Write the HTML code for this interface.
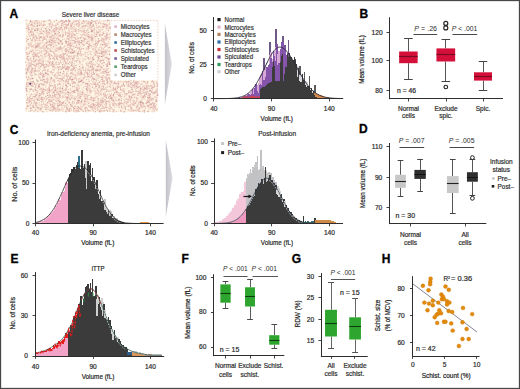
<!DOCTYPE html>
<html><head><meta charset="utf-8"><style>
html,body{margin:0;padding:0;background:#fff;width:520px;height:389px;overflow:hidden}
svg{display:block}
text{font-family:"Liberation Sans", sans-serif}
</style></head><body>
<svg width="520" height="389" viewBox="0 0 520 389" font-family='"Liberation Sans", sans-serif'><rect x="0.5" y="0.5" width="519" height="388" fill="none" stroke="#484848" stroke-width="1.3"/>
<text x="9.60" y="18.00" font-size="12" fill="#000" text-anchor="start" font-weight="bold" stroke="#000" stroke-width="0.3">A</text>
<text x="359.40" y="18.00" font-size="12" fill="#000" text-anchor="start" font-weight="bold" stroke="#000" stroke-width="0.3">B</text>
<text x="9.80" y="133.50" font-size="12" fill="#000" text-anchor="start" font-weight="bold" stroke="#000" stroke-width="0.3">C</text>
<text x="359.00" y="133.30" font-size="12" fill="#000" text-anchor="start" font-weight="bold" stroke="#000" stroke-width="0.3">D</text>
<text x="10.60" y="263.00" font-size="12" fill="#000" text-anchor="start" font-weight="bold" stroke="#000" stroke-width="0.3">E</text>
<text x="181.60" y="263.00" font-size="12" fill="#000" text-anchor="start" font-weight="bold" stroke="#000" stroke-width="0.3">F</text>
<text x="291.80" y="263.00" font-size="12" fill="#000" text-anchor="start" font-weight="bold" stroke="#000" stroke-width="0.3">G</text>
<text x="381.80" y="263.00" font-size="12" fill="#000" text-anchor="start" font-weight="bold" stroke="#000" stroke-width="0.3">H</text>
<rect x="25.5" y="19.8" width="132.8" height="92.4" fill="#fdf4e4"/>
<path stroke="#e6b8b4" stroke-opacity="0.6" stroke-width="1.5" stroke-linecap="round" fill="none" d="M68.6 33.9h0M89.6 91.4h0M92.3 38.5h0M91.7 69.6h0M128.5 106.1h0M122.8 108.5h0M56.8 92.8h0M142.4 93.9h0M80.6 106.0h0M37.7 97.9h0M58.0 91.2h0M92.3 109.8h0M34.4 61.9h0M50.7 105.4h0M35.1 26.3h0M45.9 99.4h0M87.1 89.0h0M66.9 100.1h0M111.4 94.4h0M112.8 109.3h0M44.1 81.8h0M32.2 85.9h0M37.4 40.2h0M106.5 77.4h0M130.6 102.4h0M106.0 76.4h0M66.7 73.9h0M32.9 81.4h0M59.8 90.3h0M49.8 55.1h0M47.8 102.9h0M92.5 70.0h0M54.1 85.8h0M33.2 52.1h0M56.5 29.3h0M30.0 72.5h0M110.3 33.3h0M102.5 30.1h0M59.1 64.4h0M98.4 50.6h0M72.5 103.8h0M65.3 49.2h0M67.1 68.5h0M104.7 73.6h0M27.8 69.4h0M67.9 81.7h0M107.2 70.1h0M95.6 86.0h0M95.2 36.8h0M107.1 84.0h0M108.8 28.9h0M82.7 60.9h0M35.5 110.4h0M80.5 54.0h0M42.8 76.8h0M70.4 84.8h0M143.9 105.3h0M83.6 59.1h0M30.1 21.6h0M78.8 79.7h0M70.2 84.8h0M98.0 56.6h0M98.6 22.1h0M31.1 67.2h0M38.8 35.0h0M36.6 59.8h0M42.1 90.8h0M96.3 36.5h0M30.9 81.4h0M66.5 51.6h0M81.0 75.0h0M60.3 110.2h0M33.2 86.0h0"/>
<path stroke="#e6b8b4" stroke-opacity="0.6" stroke-width="1.0" stroke-linecap="round" fill="none" d="M102.8 103.6h0M60.8 96.2h0M156.6 110.2h0M74.4 66.3h0M90.4 76.3h0M55.7 29.8h0M29.2 94.0h0M46.5 89.8h0M51.1 77.4h0M68.6 103.0h0M47.1 56.2h0M35.5 51.1h0M100.6 88.5h0M106.0 109.9h0M37.1 56.3h0M30.8 25.2h0M82.4 100.0h0M42.5 63.6h0M56.0 24.4h0M62.0 76.1h0M111.8 96.9h0M123.1 84.4h0M138.4 103.8h0M119.8 96.7h0M111.5 91.4h0M103.1 68.6h0M78.8 69.1h0M78.7 64.4h0M42.6 73.4h0M29.9 56.9h0M50.4 33.0h0M78.8 27.3h0M72.0 97.8h0M55.8 99.4h0M51.3 83.3h0M124.6 99.8h0M103.6 55.9h0M92.9 42.0h0M157.4 108.8h0M60.6 86.8h0M110.9 102.9h0M94.1 53.9h0M69.7 36.4h0M150.3 96.1h0M106.7 28.3h0M137.1 104.9h0M95.9 88.3h0M121.1 102.3h0M35.4 67.5h0"/>
<path stroke="#c49498" stroke-opacity="0.6" stroke-width="1.0" stroke-linecap="round" fill="none" d="M83.1 26.5h0M55.3 77.7h0M98.6 106.5h0M119.7 99.3h0M151.0 103.6h0M67.9 41.5h0M63.7 53.2h0M119.5 104.1h0M136.6 108.1h0M100.3 50.7h0M43.9 91.4h0M128.9 99.4h0M41.7 64.8h0M103.5 73.0h0M43.5 21.3h0M41.9 79.8h0M93.1 64.5h0M67.3 38.4h0M152.5 92.2h0M35.5 84.5h0M98.6 109.5h0M82.9 105.6h0M55.2 56.7h0M28.8 102.6h0M104.8 99.3h0M36.7 39.0h0M111.5 93.6h0M96.1 84.3h0M69.4 77.8h0M145.2 94.9h0M89.7 26.1h0M91.8 97.5h0M39.8 76.8h0M37.9 25.3h0M45.7 109.2h0M64.4 61.6h0M36.4 95.2h0M135.5 90.0h0M43.8 67.9h0M106.9 101.5h0M73.3 59.3h0M84.2 82.9h0M68.4 110.1h0M39.8 63.4h0M73.4 91.2h0M85.9 43.4h0M58.5 111.3h0M49.5 38.1h0M74.6 97.2h0M91.6 64.7h0M41.5 92.8h0M90.6 92.8h0M114.9 107.4h0M98.6 26.8h0M105.7 97.0h0M68.9 110.3h0M143.8 98.9h0M41.1 23.5h0M94.5 28.0h0M96.4 70.5h0M138.2 105.9h0M50.5 78.1h0"/>
<path stroke="#ecc8c0" stroke-opacity="0.6" stroke-width="1.24" stroke-linecap="round" fill="none" d="M44.9 30.9h0M51.0 110.5h0M70.6 70.9h0M108.5 100.9h0M57.8 47.0h0M39.2 96.7h0M79.5 101.1h0M31.6 68.9h0M54.2 84.3h0M74.3 27.0h0M80.7 85.3h0M93.4 35.4h0M61.7 108.0h0M26.7 106.1h0M94.7 81.6h0M146.3 93.1h0M34.3 31.3h0M88.9 63.1h0M57.6 31.2h0M73.3 102.7h0M135.9 110.5h0M100.7 45.4h0M27.6 102.7h0M55.4 90.3h0M97.9 22.4h0M43.5 35.2h0M99.2 53.4h0M35.5 42.2h0M92.7 108.9h0M67.3 49.8h0M87.1 94.5h0M62.5 68.3h0M140.0 94.0h0M95.0 50.9h0M118.3 106.1h0M153.2 87.0h0M79.6 103.4h0M69.4 44.1h0M31.5 98.3h0M58.3 97.6h0M80.9 93.5h0M78.7 101.5h0M53.2 32.6h0M56.4 54.3h0M98.8 64.6h0M89.1 85.9h0M90.5 92.6h0M46.7 41.0h0M41.8 33.0h0M82.5 103.6h0M41.3 97.7h0M93.9 44.6h0M29.5 52.2h0M66.9 25.4h0M31.5 70.6h0M93.4 62.3h0M102.4 105.2h0M68.7 82.4h0M47.5 55.3h0M89.5 46.6h0M93.9 45.5h0M86.0 91.8h0M98.9 63.6h0M42.9 61.3h0M35.8 66.4h0M48.2 60.6h0M61.0 55.0h0"/>
<path stroke="#dca6a6" stroke-opacity="1.0" stroke-width="1.24" stroke-linecap="round" fill="none" d="M102.7 78.8h0M49.4 92.5h0M28.0 28.2h0M105.6 78.1h0M134.9 84.5h0M55.1 89.9h0M149.9 90.5h0M113.5 99.9h0M35.3 21.1h0M65.5 85.0h0M78.9 23.7h0M70.6 26.2h0M41.5 65.8h0M87.4 77.0h0M37.0 37.8h0M55.9 25.4h0M104.7 84.1h0M86.8 89.8h0M74.1 78.7h0M31.7 35.2h0M54.5 59.7h0M37.9 53.6h0M26.9 24.1h0M71.5 45.3h0M91.8 40.2h0M99.6 106.7h0M148.1 111.3h0M108.3 59.6h0M90.5 66.2h0M88.5 76.7h0M96.3 23.7h0M35.6 40.5h0M128.3 86.4h0M154.7 109.9h0M62.6 43.2h0M43.3 111.9h0M73.5 107.3h0M103.4 89.1h0M65.6 51.2h0M28.2 47.8h0M64.4 21.9h0M49.8 20.2h0M129.9 96.3h0M42.8 80.6h0M35.0 89.2h0M107.6 78.9h0M92.8 57.8h0M36.0 102.6h0M61.7 78.7h0"/>
<path stroke="#c49498" stroke-opacity="0.8" stroke-width="1.5" stroke-linecap="round" fill="none" d="M107.6 65.7h0M63.2 80.8h0M49.9 95.2h0M106.8 91.3h0M70.7 104.4h0M114.6 92.8h0M144.6 88.3h0M102.1 52.8h0M60.1 88.1h0M31.1 65.7h0M139.9 92.3h0M79.2 100.5h0M84.5 30.8h0M72.3 49.4h0M85.5 25.4h0M99.4 86.1h0M89.0 44.8h0M72.1 62.7h0M29.1 63.1h0M70.8 53.0h0M55.3 90.5h0M31.3 51.8h0M106.7 57.5h0M50.4 85.8h0M141.2 105.4h0M39.3 84.8h0M106.1 107.5h0M38.9 44.7h0M43.2 79.4h0M37.3 46.4h0M26.9 72.3h0M61.4 104.3h0M47.8 102.4h0M62.3 102.4h0M99.2 87.5h0M33.4 37.6h0M37.1 28.5h0M79.4 44.2h0M91.7 20.4h0M60.4 35.2h0M68.6 94.9h0M132.3 89.8h0M95.0 44.4h0M66.6 76.0h0M56.0 27.8h0M29.7 101.6h0M57.9 49.0h0M66.4 80.1h0M136.7 86.3h0M40.6 74.2h0M97.2 102.7h0M96.0 51.1h0M90.7 107.2h0M135.0 85.7h0M47.9 48.2h0M62.1 23.5h0M80.3 98.0h0M74.8 90.6h0M60.0 91.6h0M59.7 49.2h0M63.9 67.4h0M111.8 82.0h0"/>
<path stroke="#f0d0c8" stroke-opacity="0.6" stroke-width="1.24" stroke-linecap="round" fill="none" d="M87.4 104.9h0M89.9 74.2h0M95.3 88.6h0M62.7 44.7h0M52.9 49.4h0M90.1 24.1h0M95.9 72.0h0M109.5 78.4h0M155.5 92.7h0M74.8 51.3h0M136.4 111.4h0M35.0 26.3h0M129.2 80.8h0M51.2 37.0h0M75.3 52.5h0M104.8 24.1h0M83.6 20.3h0M83.6 90.7h0M40.3 24.0h0M38.2 106.9h0M51.3 33.6h0M28.2 71.5h0M87.8 99.6h0M58.4 83.1h0M94.3 88.4h0M131.4 99.5h0M31.5 35.2h0M49.4 76.8h0M41.3 51.5h0M53.7 34.9h0M156.2 93.1h0M134.2 82.4h0M65.1 69.1h0M42.8 62.8h0M96.7 23.4h0M98.1 55.8h0M73.1 48.6h0M105.9 36.1h0M28.3 101.0h0M93.4 33.9h0M41.9 99.8h0M103.4 45.4h0M148.8 87.1h0M54.4 95.7h0M53.5 84.2h0M76.9 33.5h0M118.4 84.3h0M44.8 74.0h0M70.0 52.3h0M37.8 86.5h0M62.9 87.2h0M34.1 64.9h0M102.8 85.5h0M89.6 89.8h0"/>
<path stroke="#dca6a6" stroke-opacity="1.0" stroke-width="1.0" stroke-linecap="round" fill="none" d="M130.8 84.3h0M98.3 32.1h0M28.8 48.0h0M60.7 62.0h0M32.0 78.2h0M53.5 106.9h0M60.9 79.0h0M44.1 79.2h0M53.0 30.4h0M109.4 63.9h0M148.6 98.5h0M102.8 80.4h0M30.6 105.3h0M68.2 80.9h0M33.4 58.1h0M49.5 83.0h0M58.7 43.7h0M27.5 105.8h0M63.9 90.6h0M92.9 84.8h0M92.2 64.9h0M103.3 48.8h0M87.3 97.1h0M82.9 66.4h0M47.2 26.8h0M149.2 99.4h0M31.8 31.4h0M52.9 95.4h0M117.0 86.2h0M39.1 36.5h0M88.8 23.1h0M26.1 52.6h0M80.9 37.3h0M93.0 104.8h0M33.8 52.9h0M56.2 48.6h0M63.3 73.2h0M93.7 59.6h0M100.7 76.9h0M101.2 47.2h0M95.7 87.2h0M95.5 85.7h0M67.9 25.3h0M149.7 102.5h0M55.2 63.3h0M42.9 73.5h0M76.5 21.4h0M102.8 23.4h0M75.9 77.4h0M91.4 84.0h0M96.2 55.2h0M96.4 32.9h0M143.8 111.8h0M129.1 110.6h0M41.9 83.4h0M50.0 107.3h0M88.2 63.3h0M136.3 82.7h0M28.9 106.1h0M94.8 97.8h0M40.1 83.8h0M33.1 55.9h0M98.3 59.1h0M51.4 65.1h0M60.1 35.2h0M40.6 80.3h0M63.9 47.7h0M58.3 69.6h0M30.9 74.1h0M34.8 73.6h0M36.2 70.9h0M95.6 44.9h0M125.6 108.9h0M49.4 100.8h0M50.1 90.5h0M79.5 66.5h0"/>
<path stroke="#e4bab4" stroke-opacity="0.8" stroke-width="1.24" stroke-linecap="round" fill="none" d="M65.5 65.6h0M73.9 31.4h0M61.6 42.9h0M110.2 95.3h0M29.4 23.3h0M74.9 55.9h0M48.0 65.2h0M94.2 83.0h0M95.5 52.1h0M51.6 27.9h0M33.0 70.2h0M107.2 79.4h0M55.7 37.1h0M64.9 58.4h0M143.4 104.1h0M43.1 51.2h0M105.2 101.2h0M41.4 62.7h0M94.2 32.7h0M155.5 102.0h0M100.7 99.3h0M93.9 46.5h0M96.6 96.7h0M28.0 86.3h0M59.5 84.2h0M78.0 89.8h0M37.9 30.1h0M106.7 89.7h0M84.7 95.1h0M139.0 82.4h0M94.0 98.9h0M96.0 21.5h0M54.4 37.2h0M42.3 71.4h0M61.6 105.6h0M91.2 63.8h0M91.8 67.3h0M104.6 108.4h0M139.0 109.7h0M142.3 89.0h0M109.1 74.4h0M80.7 51.7h0M58.2 88.2h0M60.9 84.7h0M87.8 70.4h0M29.1 84.5h0M30.3 98.9h0M111.5 100.1h0M106.1 101.3h0M52.4 111.0h0M41.0 47.0h0M103.7 44.1h0M77.7 95.8h0M101.3 66.2h0M121.3 107.8h0M34.2 103.0h0M136.0 83.5h0M93.1 99.5h0M87.1 36.1h0M110.3 71.4h0M109.2 43.3h0M56.1 68.2h0M127.9 98.9h0M148.3 106.7h0M43.7 64.5h0M132.8 91.3h0M126.4 84.9h0M26.9 40.5h0M60.2 88.3h0M60.4 48.8h0M82.4 107.0h0M64.2 92.8h0M120.7 88.9h0M89.5 27.6h0M62.6 34.0h0"/>
<path stroke="#c49498" stroke-opacity="0.6" stroke-width="1.5" stroke-linecap="round" fill="none" d="M106.3 26.8h0M78.5 29.6h0M51.5 101.3h0M27.8 70.7h0M28.7 43.7h0M45.8 96.5h0M45.3 72.7h0M106.4 72.4h0M31.3 72.1h0M137.0 98.6h0M39.1 70.8h0M148.6 102.2h0M35.9 102.5h0M38.1 81.0h0M35.1 35.2h0M37.2 26.5h0M26.3 28.5h0M53.5 52.0h0M49.6 56.4h0M76.0 21.3h0M138.1 91.7h0M107.9 26.1h0M34.6 70.9h0M52.8 51.7h0M79.1 73.3h0M102.1 110.7h0M46.7 64.5h0M98.5 98.6h0M88.8 32.2h0M95.4 54.9h0M27.4 56.5h0M103.1 39.4h0M69.8 35.1h0M85.0 103.7h0M76.2 39.5h0M31.6 40.4h0M69.7 109.4h0M80.9 109.6h0M30.9 63.4h0M37.1 45.5h0M55.3 42.6h0M97.5 107.7h0M53.6 92.3h0M87.1 65.6h0M29.9 83.3h0M105.0 89.3h0M34.0 58.5h0M40.0 59.2h0M84.1 74.5h0M66.6 27.8h0M103.4 51.8h0M59.7 55.8h0M72.6 101.5h0M89.6 61.9h0M123.1 84.8h0M124.4 86.0h0M57.8 105.8h0M75.7 42.8h0M75.8 30.1h0M78.2 48.0h0M37.6 81.3h0"/>
<path stroke="#dca6a6" stroke-opacity="1.0" stroke-width="1.5" stroke-linecap="round" fill="none" d="M90.4 23.7h0M77.1 60.5h0M106.5 45.5h0M99.0 40.9h0M35.5 60.4h0M107.7 74.7h0M74.2 68.2h0M53.4 69.9h0M54.3 75.2h0M101.4 67.5h0M154.6 107.0h0M58.8 105.4h0M130.3 92.5h0M42.8 47.1h0M72.3 23.7h0M29.2 53.2h0M125.4 109.2h0M137.7 84.1h0M63.2 102.6h0M133.9 102.6h0M151.4 107.2h0M46.8 98.6h0M92.6 30.7h0M123.0 90.7h0M156.9 91.0h0M86.0 107.4h0M70.2 45.5h0M154.1 92.9h0M105.4 51.7h0M59.8 102.2h0M111.8 99.3h0M156.6 101.2h0M113.2 111.8h0M101.3 40.2h0M35.9 90.5h0M56.7 56.9h0M33.7 107.2h0M79.9 49.7h0M63.5 71.3h0M51.4 45.6h0M55.6 87.2h0M92.3 108.1h0M77.1 90.5h0M118.9 95.4h0M65.9 89.0h0M34.4 65.5h0M68.1 44.4h0M79.5 61.3h0M113.7 105.3h0M31.9 69.9h0M71.5 72.7h0M69.4 102.2h0M67.7 91.9h0M88.4 36.7h0M98.4 38.8h0M27.9 54.3h0M102.9 71.7h0M117.0 92.4h0M146.3 93.8h0M157.1 83.1h0M80.1 30.5h0M103.4 87.0h0M35.6 86.9h0M57.8 24.3h0M146.4 86.7h0M51.4 26.7h0M67.9 98.2h0M143.7 97.2h0M83.2 34.6h0"/>
<path stroke="#e2aeb0" stroke-opacity="1.0" stroke-width="1.24" stroke-linecap="round" fill="none" d="M101.6 100.5h0M107.0 33.7h0M61.4 20.4h0M30.3 51.1h0M97.4 61.1h0M57.0 99.2h0M75.6 41.4h0M34.8 41.1h0M68.5 22.6h0M99.9 34.2h0M87.2 87.0h0M85.9 94.4h0M52.1 34.9h0M45.0 53.7h0M26.4 73.3h0M86.4 107.9h0M78.4 22.2h0M61.0 42.1h0M104.9 110.6h0M72.5 83.8h0M70.4 85.6h0M125.2 106.9h0M50.2 56.0h0M78.7 58.8h0M71.9 28.2h0M53.9 105.7h0M39.1 95.3h0M84.5 35.0h0M73.6 108.8h0M66.0 26.6h0M37.8 111.6h0M106.7 80.4h0M44.3 45.5h0M56.5 20.2h0M150.3 104.5h0M112.9 109.3h0M32.2 34.7h0M33.6 26.3h0M113.6 104.0h0M50.8 51.1h0M89.4 43.7h0M88.9 34.7h0M60.0 36.2h0M67.4 107.4h0M82.8 23.2h0M156.6 99.9h0M156.8 97.3h0M31.2 75.9h0M109.2 104.0h0M156.3 101.6h0M114.1 110.6h0M69.1 56.9h0M96.8 25.6h0M114.8 102.0h0M35.7 48.2h0M73.9 98.5h0M26.2 20.2h0M32.0 25.7h0"/>
<path stroke="#dca6a6" stroke-opacity="0.6" stroke-width="1.24" stroke-linecap="round" fill="none" d="M72.1 65.7h0M58.5 56.0h0M108.6 68.6h0M78.2 20.7h0M72.9 95.5h0M26.6 102.9h0M140.5 104.0h0M57.0 107.8h0M69.2 21.1h0M87.3 73.9h0M91.8 34.6h0M126.8 82.6h0M39.7 21.9h0M90.6 21.7h0M52.0 40.3h0M76.8 108.6h0M58.0 103.3h0M38.7 45.9h0M71.1 28.9h0M110.0 34.4h0M51.2 91.0h0M103.3 72.9h0M98.6 32.4h0M118.5 81.8h0M57.9 100.7h0M68.8 74.9h0M56.1 20.2h0M133.6 110.6h0M102.5 35.3h0M99.0 69.6h0M83.4 67.0h0M104.9 92.2h0M44.4 55.1h0M103.5 86.4h0M114.8 81.9h0M64.3 59.1h0M26.3 88.3h0M109.4 75.5h0M153.4 103.6h0M68.4 93.2h0M74.4 70.0h0M95.9 36.4h0M34.5 29.8h0M102.7 45.3h0M28.6 32.7h0M91.5 73.5h0M58.7 31.3h0M33.0 49.9h0M67.4 35.6h0M139.2 89.8h0M75.1 98.4h0M102.1 39.1h0M64.1 89.5h0M76.3 61.2h0M44.3 50.9h0M35.8 54.2h0M60.3 75.3h0M33.3 28.3h0M77.1 91.6h0M149.5 105.6h0M105.5 37.0h0M79.8 24.4h0M55.0 25.5h0M72.1 96.7h0M101.0 103.0h0M106.5 38.4h0M90.7 57.6h0M99.8 22.6h0M73.8 20.1h0M45.7 85.9h0M110.0 108.2h0M100.9 72.9h0M89.2 106.4h0M95.1 21.0h0M92.2 74.8h0"/>
<path stroke="#c49498" stroke-opacity="1.0" stroke-width="1.24" stroke-linecap="round" fill="none" d="M157.1 95.6h0M64.1 54.3h0M81.3 73.6h0M120.3 95.1h0M73.8 56.9h0M144.6 95.0h0M31.3 89.2h0M35.2 89.5h0M72.6 59.1h0M62.5 79.1h0M91.7 46.0h0M92.3 66.4h0M89.3 85.5h0M81.3 102.4h0M34.7 22.9h0M94.4 73.6h0M26.6 52.5h0M81.3 40.6h0M78.8 107.4h0M151.5 91.9h0M46.2 31.0h0M121.4 86.1h0M45.6 73.4h0M64.8 105.9h0M88.0 41.9h0M85.7 110.8h0M58.8 43.6h0M36.2 95.1h0M42.4 99.6h0M67.3 109.2h0M33.1 64.4h0M147.2 91.9h0M29.2 83.5h0M94.9 36.3h0M54.6 81.9h0M68.5 51.7h0M45.1 107.0h0M97.1 32.5h0M102.4 100.3h0M77.8 48.0h0M30.5 110.8h0M104.9 52.9h0M101.6 56.4h0M53.7 46.3h0M143.2 103.3h0M38.0 99.9h0M108.8 20.5h0M66.1 41.5h0M31.5 94.0h0M67.1 49.9h0M47.4 95.5h0M131.0 107.3h0M95.0 104.7h0M87.1 96.1h0M50.2 37.2h0M29.3 97.3h0M67.5 97.2h0M54.0 38.7h0M118.3 83.9h0M105.8 102.9h0M53.7 87.8h0M128.8 90.9h0"/>
<path stroke="#ecc8c0" stroke-opacity="1.0" stroke-width="1.24" stroke-linecap="round" fill="none" d="M71.7 106.5h0M41.3 25.5h0M79.3 97.8h0M43.2 101.4h0M92.0 70.0h0M124.2 104.8h0M27.8 103.7h0M76.1 23.7h0M118.7 94.1h0M84.6 72.4h0M34.2 111.1h0M99.6 29.3h0M48.6 95.5h0M30.1 50.9h0M77.7 94.1h0M109.2 93.9h0M38.0 20.6h0M111.1 83.8h0M107.3 37.9h0M88.6 48.8h0M114.0 83.4h0M128.6 83.9h0M105.9 30.3h0M99.9 35.8h0M57.8 67.3h0M116.5 93.0h0M73.1 22.5h0M103.0 26.8h0M131.5 96.7h0M78.0 106.9h0M26.7 38.5h0M56.2 27.6h0M50.0 97.8h0M97.5 44.9h0M49.1 57.9h0M144.3 110.6h0M149.0 97.1h0M69.5 40.1h0M26.3 54.6h0M112.7 104.6h0M51.7 51.3h0M98.7 75.6h0M89.0 37.9h0M53.0 62.5h0M95.7 85.4h0M88.2 54.7h0M106.1 23.8h0M49.8 53.9h0M45.1 89.7h0M41.9 102.6h0M40.4 44.1h0M89.4 90.8h0M82.1 31.2h0M65.7 35.0h0M103.1 81.7h0M145.7 85.6h0M66.0 40.1h0M100.3 60.2h0M54.4 91.1h0M52.8 65.9h0M153.8 111.0h0M59.7 57.4h0M93.5 56.4h0M157.4 109.3h0M64.7 29.2h0M62.9 22.5h0M66.6 48.8h0M93.5 104.7h0M89.6 88.6h0M105.9 35.9h0M95.0 102.7h0M52.9 100.0h0"/>
<path stroke="#c49498" stroke-opacity="1.0" stroke-width="1.0" stroke-linecap="round" fill="none" d="M85.2 70.5h0M110.8 96.7h0M88.6 105.9h0M95.4 70.3h0M136.8 84.1h0M56.7 101.3h0M100.8 23.7h0M65.5 69.4h0M146.7 88.9h0M154.2 103.5h0M93.6 74.1h0M106.1 43.7h0M101.3 40.3h0M65.7 111.3h0M109.8 105.8h0M91.0 54.4h0M144.9 89.8h0M103.1 98.0h0M46.3 53.6h0M119.3 107.4h0M61.4 48.9h0M86.5 25.8h0M30.6 108.5h0M38.9 86.8h0M32.2 50.3h0M34.2 54.8h0M86.6 30.8h0M102.1 44.5h0M40.6 67.0h0M140.4 100.9h0M123.2 84.9h0M85.3 32.9h0M98.4 91.0h0M63.1 34.3h0M81.6 23.7h0M33.3 33.7h0M152.4 103.1h0M136.3 107.1h0M63.5 57.7h0M157.6 94.7h0M35.8 109.8h0M78.8 95.7h0M41.6 97.2h0M151.7 88.4h0M106.4 95.8h0M89.5 70.9h0M106.5 97.4h0M57.8 98.1h0M88.8 103.5h0M85.2 108.9h0M92.7 68.4h0M152.9 93.0h0M144.8 110.0h0M50.8 104.7h0M76.0 65.3h0M138.2 91.8h0M71.3 36.2h0M46.0 66.8h0M37.9 71.1h0M88.3 57.5h0M109.6 62.9h0M128.7 84.8h0M130.1 100.8h0M41.3 29.3h0"/>
<path stroke="#c49498" stroke-opacity="0.6" stroke-width="1.24" stroke-linecap="round" fill="none" d="M62.6 58.2h0M82.8 67.4h0M74.1 65.8h0M79.5 42.0h0M54.9 103.3h0M124.3 101.2h0M123.8 103.5h0M96.5 69.7h0M100.8 44.1h0M40.2 37.3h0M55.1 67.1h0M93.6 69.9h0M153.7 83.7h0M106.2 105.1h0M45.9 89.6h0M37.6 30.4h0M30.6 89.6h0M70.7 78.0h0M46.9 29.9h0M110.0 111.2h0M45.1 66.6h0M80.7 96.2h0M81.5 73.2h0M120.6 110.6h0M154.3 86.3h0M33.0 61.4h0M87.2 58.0h0M29.9 89.8h0M33.0 105.8h0M130.9 83.1h0M126.6 82.3h0M41.7 84.1h0M120.9 96.2h0M71.3 76.4h0M109.7 61.6h0M129.1 82.1h0M130.1 105.8h0M93.5 103.7h0M86.4 21.2h0M51.2 40.5h0M82.2 64.8h0M91.4 76.1h0M34.9 70.8h0M54.0 94.0h0M73.7 110.7h0M133.2 85.6h0M120.5 89.2h0M59.1 69.7h0M33.2 107.5h0M55.9 111.5h0M32.7 54.3h0M104.1 108.3h0M74.7 108.2h0M102.6 79.5h0M32.0 24.3h0"/>
<path stroke="#d49ca0" stroke-opacity="0.6" stroke-width="1.0" stroke-linecap="round" fill="none" d="M45.8 36.3h0M104.4 104.7h0M92.7 49.4h0M27.8 44.0h0M92.7 38.6h0M85.1 34.8h0M82.9 44.1h0M78.5 85.4h0M108.6 41.8h0M99.2 110.8h0M74.2 68.1h0M29.0 27.7h0M43.4 48.2h0M136.7 100.0h0M58.5 42.8h0M157.3 88.0h0M39.8 61.5h0M97.0 92.4h0M55.3 100.7h0M152.0 98.6h0M50.3 48.1h0M75.7 38.6h0M157.4 92.4h0M112.1 98.4h0M42.9 59.9h0M69.3 33.9h0M33.4 103.8h0M77.3 111.3h0M62.7 107.9h0M76.9 87.5h0M114.9 94.2h0M55.0 50.1h0M97.3 44.9h0M40.9 91.1h0M30.4 64.9h0M109.8 110.8h0M113.4 84.1h0M43.3 37.0h0M65.5 96.2h0M88.9 90.2h0M77.3 56.1h0M138.7 93.5h0M133.9 104.1h0M66.2 49.1h0M100.7 84.6h0M90.7 86.5h0M72.4 58.0h0M34.5 73.2h0M66.1 84.4h0M27.8 57.1h0M108.8 62.3h0M132.1 100.7h0M65.3 31.3h0M106.8 70.4h0M107.3 86.7h0M51.4 63.0h0M58.7 68.8h0M54.4 64.8h0M39.9 63.1h0"/>
<path stroke="#e2aeb0" stroke-opacity="0.6" stroke-width="1.5" stroke-linecap="round" fill="none" d="M45.1 69.2h0M135.1 110.1h0M34.4 23.2h0M65.7 48.4h0M29.4 64.7h0M132.5 104.0h0M42.9 76.9h0M44.7 68.7h0M64.3 67.4h0M38.9 65.8h0M56.1 51.6h0M68.3 67.2h0M44.8 81.2h0M58.2 48.6h0M152.4 107.8h0M66.3 69.6h0M32.7 32.0h0M98.2 94.8h0M44.5 44.4h0M134.7 93.9h0M46.0 38.9h0M45.5 90.7h0M107.1 101.2h0M115.0 104.0h0M96.7 20.2h0M83.4 31.4h0M46.1 109.4h0M59.9 84.0h0M66.9 24.9h0M90.3 105.6h0M27.7 105.6h0M110.1 38.0h0M96.3 71.1h0M115.0 82.3h0M39.0 87.0h0M60.5 62.3h0M40.5 73.0h0M101.5 63.7h0M30.8 79.4h0M126.0 95.4h0M41.8 89.2h0M29.7 83.0h0M29.2 45.0h0M153.6 107.1h0M28.2 76.8h0M130.9 80.8h0M90.0 99.5h0M40.9 60.4h0"/>
<path stroke="#e4bab4" stroke-opacity="1.0" stroke-width="1.0" stroke-linecap="round" fill="none" d="M107.4 82.2h0M51.1 24.0h0M47.9 34.9h0M107.6 65.0h0M91.2 39.7h0M65.5 20.7h0M28.2 86.1h0M66.9 87.1h0M106.1 28.7h0M109.6 98.0h0M156.8 86.3h0M52.0 62.1h0M69.4 110.6h0M112.0 99.2h0M120.4 111.0h0M78.0 84.1h0M88.3 64.8h0M28.9 67.2h0M154.8 86.3h0M95.9 82.6h0M85.1 53.9h0M95.2 34.2h0M99.9 58.3h0M90.8 57.2h0M61.1 63.0h0M98.0 106.5h0M103.2 59.5h0M128.9 84.0h0M94.0 69.6h0M109.8 50.4h0M134.4 82.5h0M41.3 80.6h0M47.8 62.0h0M58.0 50.8h0M87.3 46.7h0M95.8 53.6h0M37.8 103.2h0M66.1 63.7h0M110.1 107.2h0M128.5 101.9h0M62.2 88.4h0M58.0 85.3h0M71.2 25.4h0M145.5 96.5h0M91.0 107.5h0M30.7 58.5h0M102.1 102.2h0M124.8 94.5h0M109.6 55.0h0M84.3 39.4h0M40.6 66.3h0M43.5 103.2h0M76.0 28.4h0M103.5 86.3h0M107.1 24.5h0M54.7 33.7h0M104.5 47.4h0M98.3 91.0h0M81.1 104.2h0M37.6 49.9h0M131.2 83.5h0M90.6 67.0h0M81.6 74.0h0M32.3 71.6h0M123.5 105.0h0"/>
<path stroke="#ecc8c0" stroke-opacity="1.0" stroke-width="1.0" stroke-linecap="round" fill="none" d="M70.8 24.9h0M53.9 47.9h0M90.2 111.0h0M58.6 30.1h0M106.1 78.5h0M81.2 108.3h0M107.8 43.0h0M110.5 84.2h0M105.9 87.8h0M70.0 67.7h0M79.6 28.2h0M75.2 35.0h0M154.2 103.4h0M58.9 103.9h0M150.9 98.7h0M62.0 30.9h0M43.8 90.9h0M65.7 87.0h0M55.5 95.0h0M32.0 107.7h0M101.1 89.2h0M70.7 23.4h0M99.0 50.8h0M35.3 108.7h0M71.4 109.1h0M89.3 84.8h0M82.3 73.6h0M93.3 111.0h0M136.8 106.2h0M54.9 94.5h0M38.3 33.9h0M40.3 51.3h0M47.5 91.1h0M96.0 77.7h0M101.2 101.4h0M127.0 106.5h0M63.1 48.4h0M87.0 62.1h0M90.7 31.7h0M123.2 108.0h0M54.3 68.3h0M74.4 105.8h0M117.6 100.7h0M43.1 42.4h0M85.0 99.8h0M102.8 35.0h0M124.0 99.3h0M80.4 66.9h0M27.6 89.1h0M43.7 23.4h0M52.4 36.7h0"/>
<path stroke="#dca6a6" stroke-opacity="0.6" stroke-width="1.0" stroke-linecap="round" fill="none" d="M39.2 53.5h0M94.2 47.2h0M71.8 35.0h0M49.5 63.5h0M51.2 85.6h0M26.4 82.9h0M40.7 52.0h0M106.1 24.4h0M55.8 109.0h0M78.2 91.0h0M76.0 78.9h0M45.5 28.7h0M91.5 91.6h0M77.5 20.9h0M87.7 64.1h0M108.4 97.7h0M48.4 99.5h0M80.3 71.6h0M30.2 64.0h0M27.1 70.9h0M101.6 110.8h0M131.0 83.3h0M103.3 85.3h0M95.6 93.2h0M96.9 69.0h0M107.7 72.8h0M63.8 101.9h0M128.2 105.2h0M140.2 84.8h0M105.8 68.8h0M30.7 107.8h0M72.3 87.9h0M103.4 62.2h0M70.2 45.3h0M98.6 80.3h0M30.2 70.2h0M51.6 64.9h0M50.2 103.5h0M56.5 92.0h0M106.8 79.4h0M98.2 107.0h0M51.5 107.3h0M157.2 83.7h0M89.8 70.5h0M95.2 82.6h0M29.8 101.9h0M133.5 105.1h0M26.6 48.9h0M87.1 70.9h0M106.4 33.1h0M32.8 89.8h0M102.4 51.2h0M45.1 38.9h0M63.8 101.8h0M41.8 73.7h0M135.4 110.4h0M48.7 23.7h0M77.4 75.4h0M27.3 86.1h0M98.9 69.4h0M81.5 100.6h0M153.1 102.5h0M125.6 81.0h0M100.9 104.5h0M85.2 86.5h0M85.4 107.8h0M77.1 24.2h0M43.1 25.3h0M83.7 70.7h0M79.0 53.3h0M107.3 45.5h0"/>
<path stroke="#e2aeb0" stroke-opacity="1.0" stroke-width="1.0" stroke-linecap="round" fill="none" d="M89.8 28.0h0M98.2 42.5h0M130.0 105.5h0M26.1 52.7h0M110.7 86.3h0M145.5 92.1h0M33.8 72.0h0M107.7 94.6h0M103.7 24.1h0M73.7 98.4h0M150.1 100.3h0M47.0 61.1h0M54.0 40.7h0M113.9 101.0h0M36.7 50.5h0M78.1 56.0h0M85.1 39.6h0M71.5 34.9h0M64.1 81.3h0M83.9 94.8h0M124.5 96.9h0M51.6 78.4h0M49.2 100.3h0M95.0 91.9h0M157.8 94.2h0M65.3 53.9h0M79.9 63.2h0M69.3 45.6h0M103.3 75.5h0M37.2 43.6h0M40.9 99.6h0M92.2 66.7h0M45.3 105.3h0M109.8 39.6h0M102.8 25.2h0M65.2 53.5h0M106.3 37.9h0M43.6 94.5h0M52.6 56.4h0M33.1 82.3h0M135.1 87.9h0M129.6 96.4h0M112.6 105.1h0M136.6 97.8h0M109.8 80.2h0M79.9 78.8h0M45.3 109.4h0M92.0 76.8h0M126.7 81.7h0M90.9 107.6h0M36.8 92.8h0M63.0 36.3h0M149.6 105.5h0M102.1 38.7h0M31.9 60.3h0M33.5 96.5h0M106.7 109.9h0M104.3 42.3h0M52.4 41.4h0M113.5 94.3h0M152.1 90.4h0M35.2 61.8h0M27.5 27.8h0M131.7 83.2h0M78.6 51.9h0M50.0 49.7h0M26.6 89.2h0"/>
<path stroke="#f0d0c8" stroke-opacity="1.0" stroke-width="1.0" stroke-linecap="round" fill="none" d="M45.2 70.0h0M70.1 107.7h0M155.4 101.2h0M92.2 104.5h0M49.2 88.4h0M26.0 23.2h0M27.6 100.1h0M129.9 86.4h0M145.4 97.0h0M44.9 89.4h0M81.1 42.8h0M31.4 57.9h0M55.8 61.7h0M68.3 53.1h0M35.6 43.8h0M92.5 59.0h0M59.1 22.0h0M63.5 109.6h0M143.2 80.8h0M58.7 36.0h0M110.0 54.7h0M72.7 71.4h0M69.4 34.4h0M91.7 103.8h0M76.3 38.9h0M39.8 46.9h0M131.4 93.4h0M31.7 61.4h0M101.4 32.3h0M44.4 106.8h0M51.4 28.8h0M48.6 74.2h0M76.6 39.5h0M41.3 31.0h0M58.6 70.4h0M148.9 104.4h0M33.3 94.4h0M110.1 60.7h0M95.0 44.2h0M30.0 45.7h0M87.6 33.9h0M67.7 66.3h0M85.7 104.6h0M102.4 41.5h0M33.2 104.4h0M29.3 59.2h0M103.4 25.0h0M45.6 47.2h0M153.9 109.1h0M53.2 70.2h0M134.4 87.4h0M97.9 28.9h0M39.9 34.1h0M92.6 103.3h0M34.6 75.2h0M76.2 79.0h0M84.0 86.0h0M35.2 103.6h0M36.8 21.7h0"/>
<path stroke="#e2aeb0" stroke-opacity="0.6" stroke-width="1.24" stroke-linecap="round" fill="none" d="M139.9 84.0h0M132.7 86.5h0M43.9 31.3h0M37.7 88.7h0M88.6 95.3h0M102.7 68.0h0M46.4 42.8h0M26.2 86.4h0M28.7 27.0h0M148.1 82.1h0M118.9 81.8h0M52.5 58.9h0M67.3 69.0h0M107.5 83.6h0M51.4 40.2h0M81.0 64.1h0M96.7 46.5h0M55.0 107.2h0M120.5 97.5h0M83.1 37.9h0M48.9 71.4h0M108.5 30.8h0M137.9 99.0h0M100.4 56.3h0M68.6 80.0h0M72.8 43.4h0M66.8 54.0h0M107.0 49.9h0M85.5 59.8h0M40.0 47.7h0M103.4 40.5h0M101.7 77.4h0M86.8 95.2h0M79.1 95.0h0M146.1 103.0h0M64.2 95.1h0M89.4 36.9h0M28.9 98.8h0M49.8 103.7h0M27.1 25.9h0M95.5 106.4h0M121.9 92.6h0M78.4 89.1h0M43.1 63.5h0M156.3 104.7h0M33.5 111.8h0M65.3 53.8h0M76.8 57.1h0M58.2 37.2h0M61.9 27.9h0M155.5 108.7h0M31.6 70.0h0M70.9 94.7h0M69.2 67.5h0M145.4 103.6h0M68.4 42.4h0M29.8 104.1h0M36.6 105.6h0M154.9 103.5h0M91.7 47.3h0M113.2 88.2h0M73.2 30.6h0M137.6 93.9h0M83.8 54.4h0M28.4 56.5h0M91.6 29.9h0"/>
<path stroke="#e2aeb0" stroke-opacity="1.0" stroke-width="1.5" stroke-linecap="round" fill="none" d="M72.8 40.6h0M109.9 27.6h0M59.3 78.8h0M60.7 21.2h0M93.7 105.7h0M35.7 104.1h0M69.9 45.8h0M84.0 77.4h0M64.9 60.8h0M35.5 95.0h0M55.0 33.1h0M74.1 57.9h0M106.8 28.0h0M58.0 80.5h0M68.2 92.2h0M74.9 61.1h0M68.3 36.0h0M47.2 36.7h0M85.5 101.0h0M80.0 61.9h0M124.4 86.0h0M53.6 29.9h0M58.9 109.9h0M74.7 92.5h0M100.2 94.0h0M65.7 103.2h0M67.2 98.1h0M53.1 41.4h0M85.3 107.4h0M47.4 93.4h0M89.9 45.0h0M49.9 59.3h0M48.1 66.3h0M121.0 111.1h0M110.2 28.6h0M63.8 58.1h0M81.9 80.9h0M145.6 88.3h0M134.3 105.1h0M32.3 68.3h0M39.2 40.2h0M70.4 93.1h0M72.0 52.9h0M76.6 45.7h0M60.3 57.6h0M78.6 102.4h0M124.2 91.3h0M50.0 41.9h0M30.4 96.1h0M54.7 42.4h0M31.7 73.0h0M71.5 37.0h0M117.9 87.1h0M109.9 64.6h0M46.6 51.4h0M133.6 81.1h0M67.6 45.0h0M87.0 72.6h0M26.9 58.4h0M43.4 31.2h0M45.7 50.8h0M98.3 101.1h0M143.1 96.5h0M110.4 95.6h0M147.3 83.1h0M74.3 40.6h0M38.6 56.8h0M144.7 81.8h0M69.9 108.5h0"/>
<path stroke="#d49ca0" stroke-opacity="0.8" stroke-width="1.0" stroke-linecap="round" fill="none" d="M55.3 94.6h0M91.3 38.5h0M36.2 38.2h0M47.6 105.4h0M50.3 61.6h0M37.4 94.1h0M89.0 95.3h0M30.3 71.6h0M41.4 64.1h0M68.3 89.3h0M120.5 87.5h0M143.0 103.0h0M55.2 88.5h0M81.7 41.8h0M38.8 85.1h0M75.0 99.2h0M90.6 22.2h0M103.4 107.7h0M118.0 81.9h0M65.2 27.3h0M114.8 103.6h0M87.5 98.7h0M40.9 32.1h0M100.6 105.4h0M73.3 83.5h0M154.3 87.2h0M117.2 94.3h0M78.0 40.3h0M98.6 105.8h0M97.8 78.3h0M30.5 60.7h0M87.4 43.4h0M32.1 78.3h0M47.8 81.4h0M80.4 51.2h0M121.1 86.3h0M83.6 69.8h0M43.9 97.5h0M106.8 75.6h0M60.4 91.1h0M86.7 35.6h0M50.1 64.9h0M94.9 97.9h0M27.2 36.7h0M52.0 85.5h0M131.0 109.7h0M73.5 74.9h0M150.5 90.4h0M71.1 26.7h0M75.4 38.8h0M93.2 100.2h0M118.6 83.6h0M37.2 91.3h0M50.0 109.6h0M27.2 68.6h0M54.3 79.8h0M72.7 81.8h0M65.3 90.4h0M119.0 103.0h0M95.6 22.5h0M91.2 72.3h0"/>
<path stroke="#e6b8b4" stroke-opacity="0.8" stroke-width="1.0" stroke-linecap="round" fill="none" d="M94.2 52.7h0M44.5 76.9h0M104.6 77.0h0M36.8 63.4h0M128.9 98.8h0M48.1 42.0h0M41.9 21.4h0M48.7 53.0h0M61.6 76.0h0M58.3 32.8h0M84.4 109.1h0M61.4 108.8h0M39.1 28.8h0M96.9 42.3h0M57.3 110.7h0M38.2 109.7h0M79.7 24.8h0M70.2 90.3h0M61.0 81.7h0M70.2 21.2h0M53.2 25.0h0M56.3 97.5h0M39.3 77.1h0M36.0 43.5h0M51.6 72.6h0M32.5 106.1h0M109.4 59.0h0M84.2 22.9h0M87.9 35.5h0M107.4 58.1h0M90.8 62.1h0M109.3 27.7h0M47.5 76.9h0M60.1 29.2h0M85.0 54.7h0M68.1 36.8h0M41.4 58.5h0M46.4 27.8h0M141.0 88.6h0M42.9 33.0h0M48.4 68.9h0M88.7 23.2h0M85.7 68.3h0M48.6 61.2h0M76.8 98.5h0M130.9 98.5h0M44.1 103.8h0M95.5 108.3h0M25.9 73.5h0M92.4 82.2h0M85.1 101.3h0M28.5 77.7h0M38.1 84.0h0M43.7 64.1h0M128.6 100.7h0M57.6 37.3h0M69.9 93.0h0M134.5 83.7h0M68.7 47.4h0M45.7 61.2h0M102.4 54.2h0M67.7 47.4h0M37.9 55.1h0"/>
<path stroke="#e2aeb0" stroke-opacity="0.8" stroke-width="1.5" stroke-linecap="round" fill="none" d="M88.2 37.9h0M53.9 66.1h0M102.4 102.4h0M49.1 53.8h0M129.5 96.3h0M36.4 36.5h0M52.5 24.9h0M78.0 106.4h0M72.8 35.1h0M138.8 93.8h0M47.0 82.9h0M128.6 106.2h0M106.8 35.9h0M71.8 64.6h0M93.0 31.0h0M57.8 92.5h0M57.0 94.4h0M143.7 90.3h0M51.0 71.4h0M39.1 38.4h0M26.5 89.3h0M87.9 33.0h0M28.8 77.4h0M97.5 110.3h0M104.8 71.8h0M64.0 54.3h0M82.1 80.0h0M66.0 90.1h0M78.7 43.1h0M120.1 93.0h0M63.5 83.6h0M57.7 59.8h0M28.6 25.6h0M92.9 104.3h0M44.5 39.0h0M27.6 56.7h0M100.1 91.2h0M78.2 25.9h0M28.4 60.7h0M100.2 109.9h0M84.3 32.4h0M32.7 46.1h0M72.3 91.6h0M109.2 86.6h0M83.5 78.8h0M76.6 24.3h0M93.0 40.3h0M95.2 83.4h0M99.1 102.9h0M155.8 108.5h0M134.1 100.9h0M35.2 70.4h0M78.5 25.3h0M102.4 77.8h0M82.0 26.5h0M132.1 110.2h0M103.9 111.1h0M75.0 37.7h0M46.7 73.4h0M66.3 28.6h0M27.7 39.6h0M57.9 78.2h0M146.9 87.8h0M143.0 86.2h0M72.3 36.7h0M70.3 43.7h0M97.5 52.9h0M79.4 47.7h0M150.7 85.5h0"/>
<path stroke="#e2aeb0" stroke-opacity="0.6" stroke-width="1.0" stroke-linecap="round" fill="none" d="M54.9 40.9h0M29.4 29.9h0M89.9 77.3h0M54.0 58.3h0M88.9 77.8h0M85.7 73.3h0M72.5 65.7h0M102.5 29.3h0M47.2 72.9h0M92.1 57.6h0M101.0 101.6h0M121.3 86.2h0M67.5 86.3h0M97.1 51.0h0M28.1 79.7h0M98.2 48.9h0M77.4 54.9h0M46.4 35.9h0M51.2 32.2h0M29.0 47.2h0M85.8 110.8h0M152.5 89.4h0M93.7 67.7h0M37.2 30.4h0M35.6 96.6h0M53.1 26.0h0M138.1 104.5h0M147.0 90.5h0M65.5 83.3h0M77.7 80.0h0M66.4 105.7h0M79.0 85.6h0M95.7 84.5h0M69.4 22.0h0M46.0 100.3h0M94.6 31.8h0M53.2 30.5h0M104.5 68.9h0M81.2 94.6h0M33.8 106.1h0M61.0 58.5h0M66.6 105.2h0M59.1 32.5h0M52.2 93.2h0M139.1 102.6h0M156.5 101.5h0M90.0 69.4h0M56.5 25.8h0M62.8 111.5h0M90.7 77.6h0M45.8 101.7h0M70.8 33.2h0M43.0 62.5h0M81.5 37.9h0M26.5 38.6h0M38.8 99.8h0M152.8 94.6h0M81.6 85.1h0M71.4 43.1h0M148.5 88.6h0M71.3 63.5h0M102.3 54.8h0M154.6 83.3h0M63.6 102.2h0M37.4 99.7h0M64.1 104.1h0M28.5 101.0h0M40.9 84.0h0M40.7 65.9h0M50.6 72.7h0M52.1 43.7h0"/>
<path stroke="#e6b8b4" stroke-opacity="0.8" stroke-width="1.5" stroke-linecap="round" fill="none" d="M89.6 110.5h0M43.1 34.0h0M88.7 46.5h0M104.3 83.4h0M67.9 59.6h0M109.7 83.8h0M57.2 23.3h0M151.0 98.7h0M78.0 101.4h0M145.9 83.0h0M84.1 45.3h0M131.8 92.3h0M64.2 57.0h0M74.2 21.6h0M66.1 68.4h0M97.0 85.9h0M73.1 83.1h0M114.5 97.3h0M110.2 36.7h0M95.7 84.7h0M49.6 27.0h0M77.6 89.4h0M154.1 104.5h0M143.6 81.6h0M79.3 48.5h0M67.5 61.1h0M63.8 22.7h0M49.5 92.4h0M103.7 94.3h0M78.5 42.5h0M97.6 74.5h0M56.1 45.8h0M76.2 47.2h0M104.7 42.9h0M29.1 43.5h0M110.4 106.8h0M36.7 59.6h0M79.6 49.7h0M136.2 91.0h0M73.3 91.6h0M86.3 98.9h0M60.5 97.4h0M46.7 43.4h0M74.1 63.5h0M85.7 76.7h0M46.5 79.1h0M27.0 82.8h0M100.5 100.7h0M91.8 100.5h0M66.0 111.7h0M54.4 92.6h0M48.1 90.4h0M99.8 111.6h0M43.8 67.0h0M85.5 38.6h0M50.9 97.3h0M70.8 95.8h0M109.7 90.9h0M101.3 102.6h0M64.7 66.0h0M54.2 110.0h0"/>
<path stroke="#ecc8c0" stroke-opacity="0.6" stroke-width="1.0" stroke-linecap="round" fill="none" d="M78.1 56.9h0M151.9 98.0h0M74.2 96.2h0M149.7 87.4h0M103.2 72.0h0M66.9 55.9h0M132.8 111.6h0M83.1 78.8h0M64.6 49.9h0M86.9 34.3h0M56.5 95.6h0M52.0 74.4h0M59.3 41.5h0M80.9 97.6h0M31.4 70.2h0M107.7 94.4h0M105.8 95.4h0M128.9 100.3h0M71.4 82.4h0M100.5 21.7h0M91.2 26.1h0M104.0 27.2h0M81.1 22.2h0M116.8 106.6h0M71.1 48.6h0M82.5 64.8h0M54.5 67.9h0M65.5 90.7h0M106.2 58.4h0M103.7 75.6h0M73.0 80.6h0M108.5 47.9h0M80.5 107.1h0M35.2 63.6h0M137.8 97.6h0M102.0 47.5h0M81.3 102.2h0M37.1 60.3h0M78.9 30.9h0M81.2 67.8h0M144.5 98.7h0M123.7 85.3h0M118.9 95.1h0M29.0 81.3h0M95.2 79.8h0M75.7 106.2h0M37.6 45.1h0M48.1 39.1h0M54.4 75.4h0M38.8 99.1h0M131.7 108.5h0M40.6 42.4h0M107.0 45.6h0M36.2 90.8h0M62.8 53.2h0M111.6 102.8h0"/>
<path stroke="#ecc8c0" stroke-opacity="1.0" stroke-width="1.5" stroke-linecap="round" fill="none" d="M103.9 62.8h0M131.9 87.9h0M79.8 93.2h0M45.5 28.9h0M51.1 47.8h0M28.4 98.9h0M43.0 38.1h0M97.0 74.1h0M107.5 80.3h0M59.5 63.2h0M98.1 66.0h0M111.1 89.7h0M103.4 65.8h0M81.5 48.9h0M98.8 75.3h0M82.7 101.1h0M67.2 82.8h0M78.0 41.4h0M38.7 98.2h0M94.6 106.7h0M60.4 60.4h0M59.6 94.2h0M127.7 93.7h0M43.8 45.6h0M99.9 111.7h0M32.0 28.8h0M39.7 89.2h0M62.1 54.8h0M126.6 103.6h0M58.1 48.3h0M109.4 24.3h0M62.2 56.9h0M116.4 100.3h0M92.0 98.8h0M49.3 91.3h0M51.1 71.4h0M86.6 48.3h0M141.1 95.6h0M153.5 81.9h0M68.7 70.0h0M51.0 91.0h0M86.6 31.8h0M76.6 30.5h0M39.4 37.8h0M41.9 104.6h0M86.2 83.1h0M26.5 48.8h0M68.9 30.8h0M116.6 111.5h0M126.3 101.9h0M147.8 95.8h0M97.5 88.6h0M44.7 48.2h0M107.2 35.9h0M103.8 81.8h0M97.8 76.1h0M33.9 47.6h0M106.7 87.5h0M57.1 48.2h0M60.1 55.0h0M89.5 106.4h0M39.5 52.6h0M78.1 52.3h0"/>
<path stroke="#e2aeb0" stroke-opacity="0.8" stroke-width="1.0" stroke-linecap="round" fill="none" d="M97.8 96.7h0M122.6 104.0h0M72.2 105.5h0M29.9 67.7h0M95.9 95.0h0M46.1 43.2h0M112.6 85.3h0M91.4 69.3h0M66.7 106.7h0M66.2 24.2h0M52.8 72.7h0M129.9 97.8h0M58.7 74.5h0M68.1 35.9h0M49.9 30.7h0M59.7 95.5h0M68.7 51.5h0M66.0 20.8h0M63.5 105.5h0M60.6 78.5h0M105.6 38.7h0M35.6 56.8h0M90.2 58.8h0M26.8 83.0h0M87.5 85.7h0M118.4 98.8h0M62.9 78.0h0M87.1 48.8h0M62.9 68.3h0M76.4 62.3h0M68.3 44.9h0M76.5 74.9h0M88.7 79.8h0M68.9 29.8h0M114.5 83.0h0M147.3 85.8h0M109.5 20.6h0M68.0 21.2h0M75.0 24.4h0M91.2 90.6h0M152.4 107.8h0M88.0 69.8h0M48.1 34.4h0M69.0 41.0h0M42.2 77.9h0M98.0 76.9h0M89.8 70.0h0M37.7 83.4h0M62.2 37.4h0M63.9 32.1h0M52.7 42.5h0M45.3 54.6h0M86.0 64.1h0M30.9 42.4h0M34.3 37.2h0M41.0 56.2h0M57.5 76.9h0M136.1 83.0h0M66.8 81.2h0M102.1 86.4h0"/>
<path stroke="#c49498" stroke-opacity="1.0" stroke-width="1.5" stroke-linecap="round" fill="none" d="M113.4 94.9h0M93.4 25.1h0M94.3 79.1h0M32.7 78.5h0M60.9 40.7h0M66.5 21.0h0M72.4 52.5h0M71.2 106.0h0M43.6 74.7h0M97.7 70.5h0M70.2 99.3h0M66.2 85.2h0M43.2 84.7h0M86.3 89.0h0M85.2 98.3h0M80.5 81.5h0M53.0 66.7h0M118.9 100.1h0M54.8 108.3h0M29.0 29.2h0M66.4 41.7h0M101.9 89.2h0M99.9 53.2h0M68.8 20.3h0M107.5 81.9h0M37.3 22.9h0M150.1 91.0h0M43.5 89.3h0M103.2 27.1h0M90.2 24.9h0M50.5 44.8h0M82.9 41.1h0M109.0 58.8h0M81.1 42.7h0M62.5 88.3h0M49.4 41.3h0M105.6 71.3h0M78.9 81.6h0M91.8 31.4h0M87.8 73.9h0M41.0 108.7h0M61.0 27.5h0M34.8 96.7h0M81.4 80.5h0M49.6 29.7h0M66.4 67.7h0M72.6 79.4h0M93.7 79.1h0M40.9 36.9h0M39.0 86.3h0M152.8 87.5h0M140.6 102.4h0M73.8 52.5h0M150.1 90.6h0M51.5 78.0h0M91.3 23.3h0M36.1 47.1h0M110.7 98.3h0M37.1 46.4h0M131.7 97.5h0M87.8 83.9h0M33.3 81.5h0M49.9 23.9h0M37.4 25.2h0M71.4 65.6h0M52.6 106.3h0M49.3 90.0h0M69.7 21.5h0"/>
<path stroke="#e4bab4" stroke-opacity="0.8" stroke-width="1.0" stroke-linecap="round" fill="none" d="M29.5 102.2h0M50.0 50.9h0M100.9 21.2h0M91.3 37.3h0M60.8 41.6h0M123.2 111.8h0M104.0 89.7h0M49.0 75.2h0M29.6 91.5h0M26.3 77.9h0M104.0 31.7h0M88.2 81.8h0M38.3 73.9h0M66.7 72.2h0M89.6 87.2h0M46.4 72.2h0M83.5 60.9h0M90.5 27.0h0M62.2 102.2h0M91.5 75.4h0M72.3 23.0h0M109.6 23.0h0M84.3 77.7h0M56.8 72.4h0M136.7 81.6h0M42.9 40.7h0M84.6 101.5h0M83.0 82.5h0M93.6 49.4h0M91.8 60.6h0M71.0 33.8h0M65.9 42.1h0M146.7 88.4h0M94.8 33.7h0M105.0 45.1h0M48.4 92.4h0M75.1 75.7h0M82.0 69.6h0M104.6 55.0h0M51.7 55.0h0M64.8 74.0h0M45.9 84.1h0M89.7 71.0h0M77.7 103.1h0M39.6 102.7h0M52.7 103.9h0M85.6 94.3h0M41.4 38.5h0M32.0 94.8h0M71.9 83.3h0M50.7 62.8h0M125.4 109.0h0M125.8 106.6h0M76.6 50.2h0M114.3 110.1h0M67.6 76.9h0M107.9 82.3h0M88.5 65.8h0M52.7 24.0h0M156.9 85.1h0M68.7 106.3h0M44.3 25.1h0"/>
<path stroke="#d49ca0" stroke-opacity="1.0" stroke-width="1.5" stroke-linecap="round" fill="none" d="M106.8 66.5h0M30.7 21.8h0M78.7 100.5h0M56.8 58.4h0M70.0 79.1h0M59.0 40.1h0M49.0 32.7h0M70.4 52.5h0M46.5 46.7h0M43.5 25.6h0M43.1 65.0h0M96.5 34.7h0M35.7 30.5h0M76.7 110.4h0M115.1 89.5h0M28.9 66.2h0M31.0 24.5h0M32.3 39.9h0M68.8 39.3h0M30.7 31.6h0M70.2 77.0h0M65.9 62.9h0M147.9 105.8h0M68.3 63.5h0M150.3 94.4h0M103.7 33.5h0M99.5 35.3h0M99.2 82.5h0M39.7 25.6h0M49.2 62.3h0M149.2 97.8h0M26.1 88.3h0M71.4 79.7h0M128.4 81.5h0M73.8 67.9h0M83.4 20.9h0M61.3 69.3h0M93.7 59.5h0M97.7 66.6h0M37.5 107.4h0M91.8 30.3h0M74.3 35.1h0M102.1 60.5h0M61.5 25.5h0M149.3 97.4h0M111.8 97.8h0M52.9 62.0h0M36.2 55.8h0M44.8 21.6h0M153.7 105.2h0M68.2 24.7h0M66.6 97.2h0M52.3 63.8h0M71.5 25.4h0M140.8 93.6h0M140.6 88.8h0M80.7 73.5h0M99.5 111.5h0M60.3 72.6h0M88.8 48.0h0M41.3 33.5h0"/>
<path stroke="#d49ca0" stroke-opacity="1.0" stroke-width="1.24" stroke-linecap="round" fill="none" d="M62.4 66.7h0M59.3 32.7h0M32.0 98.7h0M27.5 98.5h0M71.8 97.9h0M111.1 107.9h0M71.1 70.2h0M52.9 35.6h0M62.0 93.2h0M27.8 106.7h0M27.5 69.5h0M74.7 108.5h0M50.7 37.6h0M56.0 50.6h0M39.3 60.1h0M135.3 103.2h0M109.4 54.2h0M87.7 30.0h0M42.2 92.8h0M43.3 70.5h0M73.4 46.4h0M120.5 89.3h0M74.3 51.5h0M49.5 89.7h0M50.7 101.3h0M55.6 34.1h0M45.0 82.0h0M93.9 68.7h0M84.5 101.7h0M74.0 37.4h0M60.2 101.3h0M79.2 88.1h0M74.3 51.2h0M137.4 106.3h0M136.6 86.4h0M107.5 20.4h0M58.8 39.2h0M62.6 64.7h0M64.5 27.7h0M140.6 104.0h0M59.4 109.2h0M57.8 107.9h0M52.0 40.4h0M82.6 92.9h0M63.1 86.0h0M96.0 70.1h0M113.1 90.0h0M49.5 62.9h0M102.1 34.6h0M81.5 42.5h0M91.6 22.7h0M41.0 107.0h0M90.9 91.8h0M116.3 91.4h0M71.8 49.8h0M57.9 84.4h0M152.4 80.9h0M93.3 72.3h0M142.7 102.7h0M42.6 76.1h0M154.1 92.7h0M87.6 83.6h0M67.0 55.0h0M109.3 78.8h0M155.4 106.4h0M31.0 108.2h0M93.9 105.3h0"/>
<path stroke="#d49ca0" stroke-opacity="0.8" stroke-width="1.24" stroke-linecap="round" fill="none" d="M95.0 100.5h0M68.6 23.3h0M65.7 62.4h0M59.8 81.4h0M140.1 111.6h0M88.9 46.4h0M94.2 108.0h0M72.5 86.4h0M29.1 84.7h0M50.2 95.9h0M96.9 63.0h0M95.6 43.2h0M110.0 27.2h0M76.5 80.0h0M109.8 64.4h0M49.9 20.1h0M39.9 105.1h0M43.7 65.4h0M137.9 95.3h0M54.2 21.6h0M65.9 32.5h0M97.2 43.6h0M35.7 66.1h0M60.0 48.9h0M81.5 36.8h0M66.9 73.5h0M82.3 82.8h0M105.2 44.0h0M95.7 47.0h0M157.6 86.2h0M88.5 47.8h0M87.2 109.2h0M51.7 55.3h0M147.6 89.0h0M111.8 80.9h0M69.0 66.6h0M96.2 43.1h0M53.1 72.5h0M101.7 77.3h0M35.6 47.4h0M42.4 40.5h0M105.2 20.9h0M75.3 77.2h0M141.9 101.6h0M130.7 84.0h0M56.2 64.6h0M57.3 38.3h0M85.4 52.3h0M102.6 51.8h0M150.6 97.0h0M101.8 53.7h0M92.0 74.4h0M49.3 25.0h0M108.4 61.8h0M88.2 58.6h0M103.4 93.8h0M46.7 42.5h0M99.3 40.9h0M81.4 109.7h0M38.2 44.3h0M76.6 102.8h0M76.4 33.3h0M154.3 84.9h0"/>
<path stroke="#e6b8b4" stroke-opacity="0.8" stroke-width="1.24" stroke-linecap="round" fill="none" d="M72.9 28.6h0M91.9 36.4h0M60.7 28.3h0M35.9 105.1h0M80.1 94.6h0M156.4 81.4h0M78.5 71.0h0M132.1 103.9h0M130.2 107.5h0M131.5 110.1h0M62.9 90.1h0M74.0 55.7h0M61.6 109.6h0M104.3 39.9h0M74.8 55.7h0M49.6 34.1h0M102.6 81.4h0M78.3 74.7h0M38.2 28.5h0M91.5 37.2h0M141.9 81.1h0M102.1 54.9h0M78.8 31.6h0M70.5 56.6h0M67.6 71.4h0M40.7 63.5h0M76.9 85.2h0M54.5 94.0h0M48.2 109.0h0M92.3 87.2h0M87.0 39.7h0M93.5 98.0h0M79.7 74.7h0M106.4 80.3h0M88.0 22.9h0M69.3 43.9h0M87.5 43.6h0M40.9 74.1h0M52.1 99.8h0M32.7 82.2h0M91.8 27.3h0M77.3 41.7h0M36.4 98.0h0M95.5 111.7h0M55.6 88.6h0M77.2 23.9h0M26.8 86.5h0M90.5 90.3h0M28.0 67.3h0M56.4 45.0h0M92.5 107.3h0M66.6 88.1h0M89.4 71.9h0M103.0 88.7h0M88.3 41.4h0M49.2 65.9h0M51.9 108.3h0M29.6 100.7h0M31.3 33.7h0M85.9 56.2h0M35.7 85.6h0M118.3 105.7h0M99.4 47.4h0M156.9 93.2h0M95.4 39.0h0M63.2 62.8h0M107.0 64.3h0M74.6 47.8h0M134.0 91.3h0M141.2 91.5h0M49.5 94.3h0M101.8 48.1h0M88.1 48.3h0M73.9 108.6h0M80.6 28.1h0M26.0 50.0h0M43.4 70.3h0M87.1 56.3h0M33.3 100.4h0M32.0 100.1h0"/>
<path stroke="#c49498" stroke-opacity="0.8" stroke-width="1.0" stroke-linecap="round" fill="none" d="M99.0 60.5h0M152.4 98.4h0M129.3 85.8h0M92.5 22.0h0M78.3 111.3h0M77.3 86.1h0M79.1 26.1h0M67.9 58.6h0M48.4 97.3h0M141.5 101.6h0M98.3 57.5h0M26.2 72.8h0M31.8 64.3h0M79.3 41.1h0M30.7 36.0h0M79.4 66.6h0M69.4 49.6h0M90.1 53.3h0M43.0 84.0h0M106.8 52.2h0M28.3 29.1h0M96.0 90.8h0M55.1 40.5h0M83.3 111.4h0M101.0 60.4h0M115.9 83.7h0M144.7 106.4h0M95.7 97.3h0M72.7 66.3h0M43.4 76.7h0M49.0 97.4h0M59.0 105.6h0M153.5 82.0h0M46.5 33.2h0M82.5 68.3h0M32.9 35.5h0M89.9 35.6h0M139.7 102.3h0M58.2 106.1h0M78.7 109.5h0M77.0 41.7h0M106.2 104.1h0M40.2 63.4h0M55.0 104.1h0M96.4 105.5h0M54.7 76.1h0M91.7 61.4h0M74.3 82.9h0M85.1 59.2h0M67.8 38.0h0M132.9 82.4h0M30.3 74.9h0M91.1 106.8h0M56.9 109.9h0M126.7 93.9h0M50.1 36.6h0M75.7 47.4h0M42.8 56.6h0M98.6 23.6h0M83.2 25.5h0M34.1 101.9h0M45.8 28.5h0M43.3 60.9h0M102.4 56.8h0M47.1 42.1h0M90.4 45.5h0M60.2 105.2h0M123.4 83.4h0M109.1 63.8h0"/>
<path stroke="#f0d0c8" stroke-opacity="0.6" stroke-width="1.0" stroke-linecap="round" fill="none" d="M60.9 23.7h0M42.4 72.4h0M30.4 25.8h0M76.5 89.3h0M54.4 99.3h0M62.0 30.1h0M46.6 104.6h0M38.6 84.3h0M140.8 85.9h0M68.8 44.9h0M72.3 77.8h0M31.1 35.0h0M47.4 91.8h0M35.8 50.3h0M95.0 106.5h0M44.3 45.0h0M69.4 53.5h0M55.3 26.0h0M113.5 96.9h0M60.9 25.9h0M32.5 90.7h0M41.5 88.9h0M53.0 61.5h0M136.1 97.7h0M50.7 36.1h0M43.7 60.0h0M152.9 109.9h0M76.8 72.6h0M31.0 79.9h0M105.1 25.1h0M63.3 108.6h0M103.8 38.2h0M68.4 63.7h0M29.2 59.4h0M73.1 21.2h0M65.3 68.4h0M58.7 98.2h0M68.3 22.6h0M157.7 100.0h0M91.4 71.1h0M59.2 29.0h0M99.0 59.5h0M135.4 81.9h0M61.2 74.4h0M81.8 79.0h0M75.2 39.6h0M101.4 42.3h0M62.1 79.4h0M95.9 47.9h0M92.2 67.9h0M54.9 105.8h0M66.4 111.8h0M74.1 62.0h0M53.9 85.5h0M48.5 106.9h0M37.9 69.8h0M56.0 39.7h0M87.9 66.2h0M85.5 97.2h0M94.6 91.8h0M150.2 110.5h0M112.7 103.5h0M127.3 88.5h0M91.8 55.6h0M88.0 54.8h0M98.3 73.9h0M48.7 101.4h0M71.6 91.7h0M100.1 73.1h0M155.1 98.1h0M88.6 25.5h0"/>
<path stroke="#f0d0c8" stroke-opacity="0.8" stroke-width="1.5" stroke-linecap="round" fill="none" d="M134.2 98.1h0M54.6 65.0h0M58.0 28.2h0M153.1 85.3h0M125.6 101.4h0M116.6 83.5h0M73.1 50.9h0M46.1 55.9h0M82.0 54.5h0M67.5 108.1h0M95.4 64.9h0M27.8 100.3h0M61.2 103.8h0M75.1 111.8h0M104.4 51.2h0M71.2 57.6h0M47.1 34.8h0M36.7 59.3h0M93.3 43.9h0M27.2 28.1h0M96.7 67.1h0M104.6 88.2h0M128.6 90.8h0M39.8 95.2h0M64.5 28.7h0M87.2 21.2h0M40.5 32.9h0M55.1 26.6h0M74.4 103.5h0M72.5 72.5h0M34.7 99.6h0M29.0 34.8h0M38.5 109.7h0M63.1 61.6h0M66.6 38.4h0M40.1 33.1h0M82.2 31.2h0M138.4 110.9h0M96.3 45.6h0M79.3 54.5h0M72.0 61.5h0M46.9 98.4h0M99.4 66.0h0M52.5 109.8h0M39.6 77.3h0M48.8 62.3h0M39.6 97.8h0M50.2 79.4h0M110.3 85.5h0M78.2 33.3h0M53.8 96.9h0M84.9 108.8h0M69.6 103.6h0M138.5 108.0h0M58.6 56.2h0M105.2 57.2h0M76.5 25.4h0M59.0 109.0h0M41.7 55.6h0M89.9 102.6h0M37.4 55.1h0M101.5 90.3h0M46.9 111.5h0M78.8 30.4h0M67.5 99.5h0M78.6 91.1h0"/>
<path stroke="#e4bab4" stroke-opacity="1.0" stroke-width="1.5" stroke-linecap="round" fill="none" d="M45.5 104.5h0M117.2 87.9h0M102.2 63.6h0M55.4 96.6h0M38.3 60.8h0M35.6 71.3h0M88.9 67.1h0M146.0 92.3h0M105.0 36.2h0M66.5 107.2h0M67.1 26.8h0M119.8 94.4h0M38.8 46.0h0M146.4 103.3h0M80.6 73.0h0M26.8 102.5h0M78.7 41.5h0M36.1 103.5h0M69.5 32.1h0M74.1 92.3h0M151.0 85.9h0M140.4 90.4h0M36.7 20.7h0M95.4 109.0h0M42.4 91.2h0M146.1 89.2h0M148.9 86.3h0M47.0 51.6h0M90.4 89.8h0M25.9 68.7h0M131.5 87.7h0M150.3 104.2h0M59.2 47.8h0M71.0 52.0h0M43.8 91.8h0M59.0 42.9h0M67.8 44.5h0M103.7 52.6h0M100.1 111.5h0M41.2 28.9h0M60.9 55.3h0M54.3 96.0h0M142.6 107.3h0M93.7 83.4h0M25.8 62.3h0M78.7 97.7h0M28.0 82.8h0M147.7 102.4h0M148.5 86.3h0M107.3 63.3h0M97.7 89.7h0M143.4 90.1h0M57.3 42.2h0M77.6 53.5h0M75.2 106.7h0M77.1 103.5h0M55.7 109.9h0M51.0 72.5h0M104.2 96.3h0"/>
<path stroke="#ecc8c0" stroke-opacity="0.8" stroke-width="1.5" stroke-linecap="round" fill="none" d="M69.0 45.7h0M54.6 56.8h0M71.8 28.9h0M53.0 44.3h0M57.8 56.8h0M34.7 82.5h0M133.1 99.7h0M150.9 90.5h0M55.6 108.2h0M79.1 103.5h0M81.5 53.9h0M27.7 86.3h0M93.7 29.0h0M87.4 92.5h0M70.8 89.9h0M103.9 59.8h0M65.7 50.3h0M89.2 73.4h0M105.4 99.5h0M97.6 99.3h0M70.8 63.5h0M84.3 96.3h0M108.4 74.4h0M41.9 93.7h0M122.0 89.9h0M38.4 75.2h0M62.4 51.2h0M75.0 76.1h0M40.3 98.0h0M35.1 24.3h0M61.2 68.7h0M105.6 24.8h0M144.9 96.6h0M68.9 28.1h0M73.9 98.7h0M115.4 99.8h0M132.4 85.7h0M35.2 94.1h0M84.4 75.6h0M95.1 107.0h0M67.5 94.5h0M81.2 30.7h0M71.6 69.4h0M53.8 81.1h0M59.6 66.7h0M96.1 47.5h0M59.8 66.4h0M156.8 109.8h0M116.1 91.9h0M100.9 93.5h0M152.9 106.7h0M25.9 70.1h0M88.2 110.9h0M77.1 98.5h0M107.0 90.1h0M61.9 50.1h0"/>
<path stroke="#ecc8c0" stroke-opacity="0.8" stroke-width="1.0" stroke-linecap="round" fill="none" d="M95.5 42.0h0M54.2 41.2h0M142.6 87.4h0M83.9 37.2h0M84.4 96.9h0M40.4 48.5h0M34.1 20.9h0M69.6 64.7h0M29.0 30.3h0M45.7 87.7h0M44.3 57.5h0M52.3 94.2h0M35.1 89.3h0M54.2 44.5h0M49.0 64.3h0M51.3 25.6h0M38.1 100.2h0M78.1 106.7h0M134.3 95.4h0M53.1 110.2h0M32.6 21.1h0M97.5 98.8h0M36.5 84.7h0M34.0 50.2h0M91.0 25.8h0M35.7 85.1h0M107.4 21.6h0M51.3 63.9h0M40.6 48.6h0M86.8 104.2h0M122.9 82.6h0M59.4 51.7h0M62.0 109.9h0M92.2 51.5h0M118.6 87.4h0M83.4 33.9h0M136.8 106.1h0M153.7 93.2h0M71.8 104.7h0M151.8 90.9h0M37.5 38.0h0M101.7 81.6h0M108.8 51.5h0M96.5 30.0h0M107.0 32.4h0M57.3 75.3h0M138.6 93.3h0M83.7 23.3h0M86.9 64.2h0M50.9 64.7h0M101.7 28.7h0M50.0 34.4h0M73.8 31.8h0M72.7 77.5h0M102.0 91.7h0M110.5 106.7h0M98.5 29.9h0M99.9 47.3h0M106.9 24.6h0M70.1 84.6h0M54.6 68.9h0M85.7 111.7h0M80.2 79.6h0M26.6 83.4h0M82.2 58.5h0M87.1 23.8h0M43.6 64.6h0M26.2 76.8h0"/>
<path stroke="#f0d0c8" stroke-opacity="1.0" stroke-width="1.24" stroke-linecap="round" fill="none" d="M32.5 38.6h0M91.2 96.7h0M88.2 51.6h0M75.0 99.6h0M72.8 65.4h0M81.1 55.5h0M46.4 74.9h0M30.3 79.0h0M139.0 104.7h0M76.0 61.6h0M29.2 43.7h0M62.2 53.4h0M66.9 63.9h0M82.4 27.7h0M51.8 107.9h0M59.8 84.7h0M34.4 48.0h0M63.7 21.5h0M81.8 37.2h0M86.2 111.8h0M119.2 86.6h0M105.8 88.2h0M29.0 32.0h0M105.0 93.9h0M142.2 87.6h0M40.6 69.6h0M135.8 82.1h0M123.8 81.3h0M48.2 42.6h0M64.4 71.8h0M103.9 93.1h0M83.9 30.7h0M52.7 49.0h0M99.7 92.4h0M105.1 107.5h0M55.5 84.6h0M63.1 110.8h0M73.9 109.7h0M139.9 97.1h0M33.5 32.4h0M76.6 53.0h0M48.2 88.5h0M55.8 44.6h0M62.5 98.4h0M125.2 111.7h0M67.6 83.5h0M37.7 90.9h0M50.9 91.5h0M99.5 22.7h0M42.4 55.9h0M30.9 82.6h0M95.1 94.1h0M67.1 26.6h0M138.2 93.8h0M95.4 97.4h0M74.0 43.8h0M103.0 54.4h0M126.8 99.5h0"/>
<path stroke="#f0d0c8" stroke-opacity="1.0" stroke-width="1.5" stroke-linecap="round" fill="none" d="M37.0 97.3h0M45.3 43.4h0M105.1 70.6h0M70.2 88.9h0M104.1 108.0h0M98.3 53.8h0M29.7 36.2h0M106.9 87.2h0M114.3 96.9h0M78.6 38.5h0M76.8 78.8h0M144.3 85.5h0M81.0 96.8h0M101.4 39.8h0M86.1 50.0h0M56.1 30.7h0M66.5 42.8h0M39.3 50.7h0M59.3 22.4h0M130.8 109.1h0M69.0 33.6h0M63.0 59.4h0M94.4 65.6h0M32.2 24.9h0M77.9 38.0h0M68.7 22.2h0M68.9 43.4h0M105.1 40.3h0M72.1 65.0h0M96.4 31.9h0M80.2 75.0h0M33.5 46.8h0M103.0 68.9h0M91.4 80.1h0M90.2 83.6h0M104.0 77.6h0M130.6 81.0h0M49.3 95.9h0M105.6 54.1h0M128.6 109.5h0M54.1 79.4h0M86.2 63.2h0M135.7 94.3h0M94.7 90.7h0M48.1 40.1h0M107.7 25.1h0M114.1 106.1h0M155.6 90.3h0M76.6 20.5h0M81.1 46.1h0M48.8 61.9h0M99.7 61.2h0M70.5 42.2h0M62.4 105.4h0M43.8 24.6h0"/>
<path stroke="#e6b8b4" stroke-opacity="1.0" stroke-width="1.0" stroke-linecap="round" fill="none" d="M63.4 76.9h0M122.8 94.7h0M60.3 92.7h0M48.1 92.2h0M46.8 103.8h0M73.4 79.5h0M77.4 58.3h0M56.0 89.6h0M134.9 81.0h0M131.3 89.8h0M34.4 56.6h0M41.8 61.4h0M32.2 42.2h0M137.9 100.8h0M44.5 64.5h0M91.1 70.6h0M145.5 107.3h0M70.3 26.2h0M156.6 101.5h0M87.4 76.7h0M69.3 48.1h0M33.6 105.9h0M38.0 104.2h0M91.9 97.6h0M84.5 22.9h0M28.0 84.7h0M87.9 100.2h0M129.4 91.1h0M142.0 105.4h0M90.8 29.3h0M97.8 55.8h0M70.3 59.8h0M36.5 94.5h0M101.5 37.1h0M62.5 89.9h0M44.2 49.6h0M68.1 101.3h0M73.4 82.9h0M109.7 78.9h0M75.5 110.6h0M83.0 27.9h0M41.3 21.9h0M70.9 33.7h0M70.5 27.8h0M90.2 61.8h0M27.4 54.4h0M102.5 75.6h0M65.6 42.9h0M80.6 34.6h0M56.7 35.4h0M60.0 56.7h0M26.2 84.6h0M62.1 32.1h0M38.5 47.9h0M36.0 54.6h0M91.7 41.5h0M120.7 81.2h0M83.7 87.6h0M107.6 44.2h0M75.8 65.6h0M93.6 110.5h0"/>
<path stroke="#d49ca0" stroke-opacity="0.6" stroke-width="1.5" stroke-linecap="round" fill="none" d="M103.0 102.1h0M101.7 53.2h0M32.5 75.2h0M73.3 33.8h0M41.9 101.3h0M74.4 42.7h0M67.9 100.5h0M84.8 21.2h0M37.2 53.2h0M135.6 83.3h0M62.5 29.3h0M157.8 95.3h0M75.0 74.8h0M104.4 80.9h0M119.8 102.4h0M64.3 59.8h0M40.0 78.1h0M36.2 55.8h0M124.2 92.5h0M44.6 98.2h0M66.5 50.9h0M53.8 108.6h0M72.2 74.6h0M105.5 57.9h0M65.5 24.5h0M81.1 70.4h0M105.6 106.3h0M35.8 45.5h0M102.8 83.7h0M26.7 41.6h0M104.7 26.2h0M33.8 34.2h0M157.1 89.2h0M155.4 91.8h0M99.6 26.4h0M93.1 81.1h0M148.4 101.8h0M157.5 85.0h0M35.8 74.6h0M113.5 87.1h0M32.1 22.1h0M88.2 46.7h0M59.7 96.7h0M92.2 106.5h0M36.8 46.3h0M108.4 38.1h0M66.7 69.3h0M46.3 64.9h0M43.1 99.8h0M99.8 70.9h0M96.6 81.1h0M65.6 34.3h0M151.7 81.8h0M58.7 72.9h0M67.2 104.5h0"/>
<path stroke="#dca6a6" stroke-opacity="0.8" stroke-width="1.24" stroke-linecap="round" fill="none" d="M29.9 32.3h0M48.2 20.4h0M139.3 108.8h0M69.0 28.8h0M71.4 38.8h0M87.1 42.0h0M73.0 91.2h0M130.4 99.9h0M76.2 96.5h0M144.6 94.0h0M35.5 54.7h0M64.8 21.6h0M35.1 55.6h0M35.1 69.9h0M55.0 34.1h0M54.5 90.3h0M41.2 37.2h0M91.9 97.5h0M31.9 110.2h0M67.7 33.5h0M147.0 84.8h0M68.0 33.0h0M105.0 38.0h0M63.3 96.7h0M69.2 68.2h0M86.8 79.6h0M113.1 103.4h0M74.0 93.0h0M54.7 54.8h0M76.9 87.9h0M40.2 109.7h0M66.0 93.2h0M52.6 95.9h0M62.7 58.3h0M128.8 81.8h0M91.7 62.3h0M46.5 52.7h0M106.2 97.8h0M98.8 85.3h0M147.1 105.2h0M69.9 58.6h0M46.7 52.7h0M109.8 101.1h0M124.6 106.9h0M115.9 103.8h0M72.1 103.0h0M100.8 35.2h0M149.7 88.7h0M119.6 95.8h0M56.9 89.9h0M80.3 68.8h0M45.0 79.0h0M38.8 22.7h0M130.8 111.0h0M54.2 29.1h0M69.7 37.7h0M26.5 94.6h0M28.1 59.4h0M106.7 103.7h0M66.6 58.4h0M97.9 59.1h0M66.3 110.1h0M45.1 24.7h0M92.6 87.4h0M76.3 67.6h0"/>
<path stroke="#d49ca0" stroke-opacity="0.8" stroke-width="1.5" stroke-linecap="round" fill="none" d="M108.8 77.6h0M87.4 90.5h0M35.1 68.2h0M81.3 101.4h0M75.6 83.0h0M33.4 56.4h0M124.1 111.7h0M32.0 23.9h0M128.6 92.6h0M96.0 79.8h0M88.0 88.1h0M139.4 107.9h0M79.9 108.4h0M83.4 48.6h0M129.6 97.2h0M46.7 45.9h0M50.7 22.0h0M53.5 107.1h0M53.3 92.1h0M126.0 93.7h0M96.5 75.0h0M142.0 84.1h0M88.0 24.0h0M77.3 100.7h0M137.9 87.8h0M101.9 108.5h0M36.4 64.8h0M144.0 95.9h0M50.5 50.9h0M54.5 31.4h0M58.6 93.7h0M38.9 86.5h0M63.3 67.6h0M90.1 37.3h0M104.8 24.6h0M67.8 67.9h0M60.9 41.6h0M68.6 83.5h0M149.1 95.2h0M73.0 69.4h0M37.4 99.8h0M109.1 96.4h0M74.4 82.2h0M133.6 94.4h0M93.8 21.5h0M61.5 56.7h0M101.8 51.4h0M84.7 39.6h0M121.7 106.8h0M47.7 70.9h0M38.7 57.0h0M147.5 97.7h0M94.4 84.3h0M59.1 75.3h0M54.4 53.2h0M103.9 55.7h0M53.3 58.4h0M115.4 88.3h0M62.9 73.8h0M90.6 66.8h0M63.1 35.4h0M32.9 68.7h0M81.3 72.6h0M125.1 81.9h0M147.7 100.6h0M127.7 102.2h0M120.4 103.7h0M116.9 91.8h0M40.8 88.9h0M151.4 104.3h0M31.9 29.7h0M99.3 56.3h0M109.7 47.4h0M47.0 82.3h0M33.4 91.0h0M92.9 26.6h0M34.4 83.8h0M59.9 29.8h0M113.4 100.5h0M62.8 103.5h0M31.5 103.0h0M144.3 88.0h0M137.2 110.0h0M69.8 61.9h0M151.9 100.1h0"/>
<path stroke="#f0d0c8" stroke-opacity="0.8" stroke-width="1.0" stroke-linecap="round" fill="none" d="M155.1 106.0h0M97.0 91.1h0M88.5 68.3h0M71.0 43.2h0M58.3 72.3h0M84.0 31.0h0M54.4 96.7h0M103.4 54.7h0M53.0 43.6h0M32.2 27.4h0M75.2 74.2h0M101.7 81.9h0M74.7 65.0h0M80.1 53.3h0M89.4 88.3h0M35.4 95.3h0M141.1 105.4h0M83.2 102.4h0M48.2 78.7h0M55.3 59.2h0M111.9 95.5h0M41.9 86.2h0M100.4 62.3h0M71.9 81.8h0M101.9 68.5h0M33.1 97.8h0M127.5 85.8h0M75.2 77.1h0M125.9 89.3h0M61.0 20.7h0M85.7 35.8h0M80.4 47.0h0M76.7 100.4h0M84.1 75.2h0M100.3 98.6h0M50.8 80.5h0M88.6 38.5h0M61.1 45.4h0M36.9 62.5h0M73.8 54.9h0M56.9 76.4h0M83.2 34.3h0M91.8 42.7h0M55.1 47.8h0M37.8 70.4h0M66.3 67.3h0M29.9 108.5h0M70.2 92.9h0M94.8 75.7h0M83.6 31.1h0M33.6 81.6h0M89.9 93.1h0M84.5 22.1h0M98.7 109.0h0M75.0 72.7h0M105.3 64.7h0M73.0 39.3h0M146.3 89.7h0"/>
<path stroke="#f0d0c8" stroke-opacity="0.8" stroke-width="1.24" stroke-linecap="round" fill="none" d="M35.9 66.6h0M80.5 68.2h0M96.4 80.1h0M76.6 110.4h0M63.3 20.3h0M93.4 101.4h0M99.0 55.7h0M63.9 95.1h0M127.9 109.8h0M72.6 50.0h0M66.1 99.7h0M72.3 95.0h0M93.8 50.5h0M97.5 36.3h0M46.6 40.9h0M65.4 26.1h0M86.6 41.9h0M101.3 102.8h0M99.6 35.9h0M44.8 70.7h0M70.8 95.3h0M58.0 49.9h0M66.6 58.3h0M62.5 76.9h0M145.3 99.4h0M95.4 64.5h0M56.3 47.9h0M91.8 102.1h0M142.7 91.9h0M90.9 65.1h0M85.0 35.5h0M72.1 105.6h0M148.5 91.8h0M93.3 83.7h0M102.1 111.1h0M109.8 104.3h0M103.8 42.6h0M66.6 84.6h0M52.4 102.1h0M56.6 31.7h0M91.1 84.3h0M37.6 32.2h0M66.4 46.3h0M93.5 23.9h0M87.4 108.1h0M85.7 26.6h0M38.5 91.1h0M96.3 53.6h0M86.5 107.1h0M29.0 84.1h0M95.9 64.2h0M65.5 92.3h0M75.4 71.5h0M94.6 52.6h0M51.6 107.4h0M75.9 27.9h0M79.6 111.4h0M68.4 56.4h0M94.6 26.3h0M113.6 89.5h0"/>
<path stroke="#e4bab4" stroke-opacity="0.8" stroke-width="1.5" stroke-linecap="round" fill="none" d="M46.8 107.3h0M35.5 105.5h0M57.4 103.4h0M33.7 53.8h0M154.7 93.3h0M53.5 109.4h0M106.6 34.6h0M47.2 80.9h0M45.2 56.7h0M62.0 59.6h0M49.6 43.1h0M38.8 108.1h0M135.6 81.9h0M92.9 48.9h0M66.8 98.3h0M96.7 31.2h0M59.0 94.5h0M86.1 69.5h0M42.9 58.4h0M98.5 64.5h0M52.1 85.8h0M77.4 89.9h0M64.2 24.5h0M74.4 41.6h0M68.1 69.6h0M107.3 110.6h0M47.2 32.2h0M100.7 27.3h0M64.6 75.7h0M52.5 39.2h0M101.3 79.5h0M95.7 41.1h0M43.0 24.8h0M46.7 105.6h0M33.4 36.7h0M29.2 45.5h0M42.3 65.3h0M98.0 84.0h0M152.5 87.9h0M50.2 99.7h0M130.3 104.7h0M43.6 75.2h0M74.1 26.7h0M36.5 79.6h0M98.9 31.5h0M70.7 46.2h0M44.0 37.0h0M77.6 38.5h0M59.5 83.3h0M31.0 86.1h0M91.0 98.8h0M31.0 101.1h0M121.6 98.8h0M34.5 38.0h0M126.7 82.8h0M67.6 76.8h0M55.0 55.7h0M102.4 83.3h0M38.8 62.6h0M106.5 25.5h0M90.9 97.6h0M43.4 93.9h0M71.6 56.0h0M78.6 111.2h0M77.0 55.2h0M78.5 111.3h0M91.0 51.8h0M40.7 55.3h0M101.9 98.5h0"/>
<path stroke="#c49498" stroke-opacity="0.8" stroke-width="1.24" stroke-linecap="round" fill="none" d="M65.7 33.0h0M77.9 93.3h0M68.4 92.4h0M78.2 53.4h0M37.1 80.7h0M45.1 81.7h0M26.8 100.1h0M65.8 80.9h0M104.2 62.6h0M62.1 44.2h0M108.7 91.1h0M67.0 25.0h0M79.1 82.7h0M47.9 73.9h0M138.1 87.0h0M41.8 98.8h0M57.7 28.6h0M83.0 111.0h0M55.0 85.3h0M39.9 43.1h0M121.9 96.5h0M67.5 66.5h0M96.5 51.8h0M34.9 52.9h0M153.6 99.0h0M96.8 52.4h0M74.2 86.4h0M100.2 30.8h0M42.3 111.5h0M116.9 83.6h0M79.2 69.2h0M30.4 38.6h0M53.1 31.6h0M93.5 100.4h0M121.3 100.4h0M92.0 37.3h0M106.9 64.6h0M62.1 21.2h0M74.7 29.4h0M84.0 26.1h0M98.0 33.0h0M103.7 101.2h0M80.9 91.8h0M90.0 63.6h0M65.5 41.2h0M80.1 96.4h0M77.5 89.8h0M48.1 80.0h0M132.1 95.6h0M62.9 92.2h0M46.9 30.8h0M149.1 101.1h0M38.9 107.9h0M39.2 100.5h0M58.5 67.5h0M144.5 111.9h0M82.4 92.1h0M34.8 30.4h0M60.3 46.5h0M149.2 96.1h0M99.1 76.9h0M43.1 39.7h0"/>
<path stroke="#e2aeb0" stroke-opacity="0.8" stroke-width="1.24" stroke-linecap="round" fill="none" d="M41.8 50.5h0M67.0 86.7h0M124.6 102.6h0M79.1 78.5h0M88.7 21.6h0M100.2 81.2h0M49.7 84.5h0M87.6 73.1h0M49.4 86.0h0M30.5 98.3h0M141.9 99.2h0M87.9 26.8h0M57.5 55.6h0M138.0 95.3h0M109.4 102.2h0M103.9 69.9h0M59.6 29.0h0M88.2 101.9h0M27.6 26.8h0M153.4 108.8h0M57.4 105.1h0M43.2 31.2h0M26.2 66.1h0M65.4 81.9h0M118.5 92.9h0M45.7 48.9h0M103.8 23.7h0M69.6 97.8h0M52.2 110.2h0M101.5 93.8h0M94.1 98.1h0M133.8 110.7h0M61.6 20.8h0M107.2 68.7h0M67.4 78.6h0M118.1 103.5h0M47.7 32.6h0M34.6 101.5h0M75.8 21.0h0M144.0 81.8h0M72.5 70.1h0M148.8 93.3h0M136.4 86.9h0M30.3 45.2h0M44.2 76.5h0M141.1 89.6h0M101.3 49.3h0M44.7 28.0h0M134.4 85.9h0"/>
<path stroke="#e6b8b4" stroke-opacity="1.0" stroke-width="1.5" stroke-linecap="round" fill="none" d="M41.7 105.1h0M142.6 97.4h0M66.0 97.4h0M82.7 93.6h0M58.7 100.5h0M43.9 37.4h0M56.5 38.5h0M52.3 104.5h0M28.7 25.5h0M59.8 66.9h0M49.3 58.0h0M107.7 34.5h0M48.9 55.3h0M146.6 94.1h0M37.4 45.8h0M50.2 110.5h0M42.8 107.1h0M39.4 93.5h0M79.4 20.3h0M139.4 102.1h0M64.1 78.0h0M139.2 86.8h0M92.0 38.9h0M138.1 82.0h0M51.3 42.5h0M44.9 67.2h0M88.5 110.4h0M70.7 48.3h0M118.8 104.2h0M57.8 66.8h0M83.9 104.4h0M30.6 20.5h0M150.1 94.0h0M126.1 98.8h0M53.6 57.7h0M136.3 101.7h0M50.8 45.6h0M98.0 41.3h0M49.0 87.3h0M41.9 53.1h0M96.1 93.2h0M93.3 110.4h0M100.2 66.5h0M49.1 101.2h0M95.3 111.6h0M43.8 93.4h0M103.1 38.8h0M52.4 97.6h0M41.8 48.3h0M30.3 88.8h0M43.8 21.6h0M76.5 89.8h0M35.2 87.5h0M152.1 87.3h0M113.3 88.6h0M62.1 25.1h0M50.2 45.1h0M67.9 69.0h0M87.6 75.1h0M92.8 63.9h0M105.3 94.3h0M100.1 70.1h0M69.4 45.3h0"/>
<path stroke="#e6b8b4" stroke-opacity="1.0" stroke-width="1.24" stroke-linecap="round" fill="none" d="M67.5 91.1h0M70.8 24.2h0M48.9 48.5h0M30.9 43.6h0M92.9 67.0h0M34.6 100.1h0M31.2 82.2h0M136.1 91.4h0M99.3 20.2h0M48.2 106.5h0M60.1 83.8h0M52.4 89.5h0M39.3 38.2h0M105.0 100.1h0M42.2 27.3h0M136.3 88.6h0M46.1 107.7h0M99.1 104.4h0M37.1 64.7h0M95.8 23.6h0M42.8 88.9h0M145.4 107.9h0M38.0 64.0h0M103.9 41.6h0M127.4 82.0h0M81.4 109.4h0M44.2 84.0h0M77.0 103.0h0M93.6 101.2h0M102.8 32.7h0M110.0 81.0h0M45.1 54.4h0M155.9 92.2h0M77.5 69.8h0M35.2 28.9h0M97.7 84.4h0M81.9 32.0h0M139.6 92.8h0M61.7 91.0h0M53.5 64.4h0M56.4 78.5h0M39.9 23.9h0M58.7 93.7h0M127.3 99.8h0M66.6 108.6h0M56.6 27.6h0M107.0 60.3h0M49.3 99.6h0M58.1 64.4h0M106.8 83.0h0M69.1 49.9h0M130.2 98.5h0M107.7 58.5h0M57.4 58.6h0M42.0 75.1h0M51.4 36.5h0M45.0 32.9h0M98.3 66.7h0M53.1 64.2h0"/>
<path stroke="#e4bab4" stroke-opacity="1.0" stroke-width="1.24" stroke-linecap="round" fill="none" d="M36.5 105.8h0M32.7 25.6h0M103.3 21.0h0M141.2 107.7h0M35.9 107.1h0M32.3 83.8h0M137.0 98.8h0M157.6 83.9h0M97.9 27.7h0M155.2 107.0h0M62.4 30.5h0M54.5 107.7h0M26.1 47.3h0M54.3 86.6h0M71.7 79.9h0M66.6 75.4h0M34.9 39.4h0M31.4 61.9h0M42.7 61.0h0M96.3 52.4h0M54.6 28.4h0M103.2 81.2h0M77.1 107.1h0M39.2 68.3h0M93.0 25.1h0M149.2 105.5h0M148.6 101.7h0M91.8 25.8h0M32.9 106.4h0M51.9 89.5h0M27.9 30.9h0M53.2 107.2h0M80.3 38.4h0M116.7 89.8h0M52.1 64.8h0M61.2 80.2h0M47.0 93.0h0M107.0 70.2h0M65.1 101.0h0M77.8 108.9h0M40.8 72.5h0M140.4 87.0h0M37.3 92.1h0M86.9 23.1h0M89.2 75.9h0M121.1 90.3h0M87.0 102.1h0M87.9 29.1h0M73.6 81.8h0M84.2 39.0h0M97.4 83.8h0M80.5 52.6h0M85.6 71.1h0"/>
<path stroke="#ecc8c0" stroke-opacity="0.6" stroke-width="1.5" stroke-linecap="round" fill="none" d="M63.6 24.6h0M101.5 105.2h0M55.4 73.7h0M64.5 75.9h0M31.0 78.3h0M78.8 71.6h0M50.4 78.7h0M81.9 99.8h0M54.1 87.0h0M143.4 93.0h0M30.7 110.2h0M132.1 111.0h0M152.3 111.9h0M64.3 97.2h0M80.8 103.0h0M118.9 86.9h0M102.1 102.3h0M51.3 82.7h0M29.4 68.4h0M25.9 110.1h0M40.6 40.5h0M80.1 59.1h0M90.4 39.8h0M85.5 96.8h0M50.0 37.1h0M59.3 63.5h0M76.9 111.0h0M94.7 100.0h0M39.0 43.5h0M30.5 31.1h0M69.1 68.6h0M53.2 69.4h0M72.7 26.7h0M28.7 77.9h0M97.4 56.8h0M102.5 49.0h0M102.5 77.0h0M31.9 47.5h0M27.4 26.0h0M69.8 93.3h0M30.0 79.7h0M91.8 99.9h0M57.0 91.7h0M97.4 89.2h0M37.6 22.4h0M83.6 106.3h0M88.9 74.8h0M96.4 108.7h0M57.1 55.2h0M97.4 69.5h0M82.5 30.0h0M101.7 76.5h0M91.9 32.5h0M32.3 99.1h0M78.2 51.3h0M72.6 68.6h0M78.9 85.5h0M98.1 99.6h0M47.9 74.6h0M45.1 67.0h0M72.6 92.5h0M72.3 60.0h0M103.6 50.1h0"/>
<path stroke="#d49ca0" stroke-opacity="0.6" stroke-width="1.24" stroke-linecap="round" fill="none" d="M37.8 42.1h0M87.0 83.4h0M146.6 94.0h0M155.3 97.2h0M43.8 104.5h0M26.6 73.3h0M56.0 54.6h0M59.1 44.2h0M153.8 92.4h0M72.6 106.4h0M109.0 51.3h0M108.4 101.4h0M86.4 86.5h0M39.9 94.8h0M83.5 81.9h0M68.5 75.8h0M108.6 59.1h0M71.5 31.7h0M28.4 70.3h0M100.3 104.4h0M106.8 101.5h0M45.1 70.4h0M102.6 83.5h0M143.8 106.3h0M58.0 71.9h0M66.9 86.6h0M123.9 88.9h0M124.4 94.0h0M64.9 29.5h0M60.9 91.8h0M32.7 86.2h0M70.0 43.7h0M51.9 100.4h0M59.2 98.9h0M102.0 73.2h0M138.3 103.5h0M77.0 88.3h0M91.5 39.3h0M48.4 28.5h0M79.0 91.6h0M123.2 88.9h0M92.5 77.7h0M55.3 33.5h0M73.4 22.3h0M44.9 39.2h0M77.4 73.3h0M79.5 22.6h0M88.4 48.9h0M122.1 81.8h0M105.2 84.8h0M50.5 39.5h0M107.1 107.4h0M109.1 64.1h0M150.8 99.8h0M68.1 55.5h0M61.9 68.0h0M66.5 59.0h0M88.2 36.6h0M47.9 74.7h0M51.4 31.0h0M30.7 58.7h0M30.5 32.5h0M84.3 40.9h0M91.9 76.5h0M74.0 111.1h0M103.8 102.0h0"/>
<path stroke="#e4bab4" stroke-opacity="0.6" stroke-width="1.24" stroke-linecap="round" fill="none" d="M82.0 90.2h0M128.4 92.6h0M36.9 29.0h0M67.1 38.8h0M154.2 111.4h0M38.4 68.8h0M75.1 87.8h0M157.6 90.0h0M29.1 111.4h0M54.0 103.9h0M64.7 50.4h0M32.4 50.7h0M39.9 34.2h0M154.0 83.2h0M130.5 87.0h0M98.4 92.8h0M127.6 84.7h0M88.6 69.5h0M79.1 86.8h0M39.2 77.7h0M41.4 36.6h0M41.3 101.8h0M35.8 102.6h0M92.9 39.9h0M64.9 60.2h0M64.9 64.6h0M59.3 63.7h0M94.0 88.4h0M152.1 105.5h0M40.1 33.7h0M118.4 84.2h0M84.4 100.7h0M51.1 42.5h0M52.1 75.0h0M100.8 108.4h0M36.0 99.0h0M37.4 100.0h0M51.8 110.9h0M133.0 92.3h0M45.5 64.1h0M38.1 44.2h0M106.3 73.5h0M101.7 87.2h0M45.9 90.4h0M94.6 74.5h0M107.6 37.6h0M26.6 90.2h0M53.1 88.9h0M120.0 87.2h0M49.3 20.2h0M92.8 90.7h0M82.3 21.6h0M104.9 38.9h0M68.0 20.9h0M71.6 68.8h0M39.1 67.3h0M67.8 36.7h0M93.8 58.4h0M89.3 92.8h0M93.4 48.4h0M132.2 103.4h0M35.2 55.8h0M92.4 35.4h0M85.9 56.3h0M27.0 58.7h0M54.4 35.7h0"/>
<path stroke="#e4bab4" stroke-opacity="0.6" stroke-width="1.5" stroke-linecap="round" fill="none" d="M51.0 80.0h0M75.2 29.8h0M71.8 46.0h0M43.9 85.0h0M56.2 76.9h0M47.2 108.8h0M43.5 61.8h0M101.4 104.6h0M53.4 37.3h0M56.7 40.0h0M85.0 25.9h0M152.2 110.0h0M79.5 41.5h0M76.8 111.9h0M104.3 110.5h0M83.5 31.7h0M102.7 41.8h0M101.3 90.4h0M32.7 97.3h0M149.5 97.8h0M88.0 98.8h0M146.8 86.7h0M31.5 32.4h0M28.9 34.2h0M76.7 44.1h0M100.2 69.4h0M95.6 49.1h0M30.1 84.3h0M106.6 74.8h0M82.3 27.5h0M47.6 50.0h0M127.0 104.2h0M36.6 66.0h0M134.0 100.7h0M34.8 44.8h0M86.0 72.8h0M121.7 102.4h0M35.7 36.6h0M103.5 60.4h0M118.6 87.3h0M72.9 73.6h0M110.5 87.5h0M133.6 84.3h0M133.8 87.6h0M72.8 60.7h0M151.9 86.3h0M89.0 51.2h0M68.2 32.9h0M28.3 68.1h0M144.2 92.5h0M52.5 81.0h0M68.2 33.3h0M59.0 95.2h0M63.9 64.3h0M74.5 100.3h0M34.6 29.7h0M85.5 94.7h0"/>
<path stroke="#dca6a6" stroke-opacity="0.6" stroke-width="1.5" stroke-linecap="round" fill="none" d="M62.2 20.4h0M139.1 111.5h0M114.9 83.4h0M44.8 38.3h0M72.8 50.2h0M89.9 99.4h0M108.3 30.2h0M42.1 42.4h0M46.7 33.8h0M66.4 43.3h0M64.5 46.0h0M80.1 38.1h0M49.4 88.3h0M51.4 44.3h0M84.4 30.3h0M81.5 49.1h0M58.8 26.9h0M62.7 39.5h0M68.6 42.1h0M140.9 104.1h0M38.9 96.1h0M84.0 38.5h0M55.0 31.3h0M28.5 69.1h0M42.6 92.7h0M74.3 102.6h0M91.1 104.8h0M119.0 103.6h0M58.5 100.4h0M85.8 83.6h0M68.0 81.5h0M53.8 102.8h0M132.8 104.8h0M108.5 97.9h0M118.2 86.2h0M47.9 89.0h0M87.2 52.7h0M26.4 84.5h0M42.2 97.4h0M63.3 56.4h0M82.2 34.9h0M148.5 107.0h0M60.2 103.7h0M91.4 27.7h0M132.5 94.3h0M47.5 70.1h0M81.2 71.3h0M100.6 102.3h0M51.9 38.6h0M128.7 96.0h0M96.5 27.5h0M99.1 49.6h0M150.1 107.6h0M46.3 47.6h0M133.7 110.5h0M37.9 63.5h0M31.2 72.4h0M102.8 99.1h0M143.6 92.3h0M34.4 61.6h0M29.2 66.3h0M130.9 87.1h0M65.6 94.1h0"/>
<path stroke="#d49ca0" stroke-opacity="1.0" stroke-width="1.0" stroke-linecap="round" fill="none" d="M68.9 56.5h0M40.9 109.9h0M62.4 36.7h0M59.1 101.5h0M113.0 95.9h0M63.5 55.1h0M33.7 59.7h0M113.5 90.5h0M96.3 86.6h0M50.6 58.5h0M114.3 82.9h0M62.0 47.7h0M92.4 78.7h0M107.1 54.2h0M72.2 58.5h0M48.9 31.1h0M28.2 59.7h0M39.8 95.7h0M85.0 98.7h0M41.4 98.6h0M92.8 57.8h0M147.7 81.5h0M53.6 99.3h0M97.8 104.7h0M80.9 54.9h0M72.5 32.1h0M47.4 78.8h0M59.7 104.8h0M36.0 74.9h0M75.8 35.2h0M92.4 59.9h0M54.6 95.1h0M89.1 22.5h0M106.5 36.0h0M86.8 86.7h0M60.2 95.4h0M75.3 70.1h0M102.5 53.3h0M55.8 74.8h0M66.0 21.2h0M48.8 54.9h0M84.6 104.7h0M102.7 44.5h0M121.2 106.0h0M110.0 109.2h0M82.2 74.1h0M46.9 45.2h0M71.0 40.5h0M57.6 88.3h0M107.4 111.4h0M135.2 103.5h0M31.6 85.4h0M86.3 43.3h0M64.2 21.7h0M89.4 81.1h0M104.1 95.2h0M84.9 28.2h0M77.9 54.3h0"/>
<path stroke="#e6b8b4" stroke-opacity="0.6" stroke-width="1.24" stroke-linecap="round" fill="none" d="M73.2 53.6h0M108.5 58.4h0M83.4 68.2h0M33.3 45.3h0M61.0 37.2h0M49.9 29.5h0M83.3 82.9h0M89.2 40.1h0M68.0 36.2h0M99.4 95.4h0M110.2 104.5h0M93.2 107.9h0M115.8 98.1h0M143.0 104.6h0M84.5 42.0h0M149.0 100.6h0M71.3 92.4h0M91.2 106.3h0M139.3 110.9h0M68.6 108.8h0M87.9 85.6h0M52.6 102.6h0M103.6 65.4h0M37.0 38.0h0M85.9 98.8h0M145.1 106.5h0M37.2 56.9h0M75.0 67.2h0M94.8 21.3h0M97.7 93.4h0M91.4 39.2h0M78.8 108.6h0M126.1 106.1h0M106.1 102.5h0M50.5 81.9h0M112.6 100.3h0M148.9 103.8h0M156.6 99.0h0M50.2 102.1h0M57.5 73.7h0M51.9 79.2h0M53.0 46.7h0M102.8 107.3h0M130.8 106.1h0M74.2 68.8h0M115.5 90.4h0M36.8 55.6h0M98.7 58.5h0M92.5 70.4h0M38.3 87.5h0M44.3 54.2h0M155.7 101.1h0M77.8 72.7h0M75.0 70.8h0M40.9 94.8h0M27.8 64.2h0M126.0 103.2h0M95.5 61.3h0M83.4 92.2h0M154.7 96.4h0M49.2 82.4h0M76.4 30.8h0M150.7 108.1h0M36.7 83.7h0M84.0 92.9h0M100.5 30.0h0"/>
<path stroke="#e4bab4" stroke-opacity="0.6" stroke-width="1.0" stroke-linecap="round" fill="none" d="M102.1 53.2h0M99.5 64.6h0M140.4 101.7h0M87.5 69.1h0M77.6 35.8h0M57.8 96.7h0M91.5 98.0h0M66.9 67.1h0M27.0 96.3h0M60.2 35.2h0M36.2 89.4h0M74.5 85.6h0M28.0 105.5h0M48.5 51.9h0M108.7 78.1h0M48.7 109.3h0M76.0 104.7h0M47.6 42.1h0M54.5 57.4h0M139.3 93.3h0M43.0 46.3h0M157.4 92.5h0M150.2 105.0h0M98.5 60.0h0M51.2 50.0h0M79.3 55.2h0M27.6 97.2h0M95.7 72.1h0M51.9 97.8h0M70.8 88.5h0M60.3 101.6h0M60.9 89.7h0M39.2 48.6h0M75.5 42.9h0M84.6 80.9h0M90.7 25.0h0M85.8 97.4h0M85.0 57.5h0M88.6 28.3h0M48.5 100.0h0M90.3 95.3h0M42.9 87.4h0M109.8 99.1h0M107.0 40.3h0M120.8 82.2h0M49.0 108.0h0M82.6 109.8h0M82.0 100.3h0M67.3 64.1h0M54.6 105.3h0M141.3 97.0h0M153.5 98.4h0M54.5 70.0h0M63.2 78.6h0M65.3 45.7h0M85.0 37.9h0M117.7 86.6h0M62.7 55.5h0M67.0 74.1h0M31.1 27.7h0M43.7 45.9h0M56.5 94.1h0M68.0 57.7h0M130.7 91.0h0M56.0 76.3h0M98.3 93.9h0"/>
<path stroke="#dca6a6" stroke-opacity="0.8" stroke-width="1.0" stroke-linecap="round" fill="none" d="M103.0 41.1h0M149.0 109.0h0M48.2 44.6h0M138.6 109.3h0M26.4 65.0h0M55.2 98.1h0M38.2 87.1h0M34.3 26.2h0M70.8 43.0h0M69.1 83.8h0M108.4 108.9h0M30.8 105.0h0M83.1 55.8h0M114.9 88.7h0M71.5 110.4h0M119.8 99.1h0M105.0 50.3h0M66.9 43.2h0M136.4 82.3h0M66.7 52.5h0M68.4 92.6h0M70.3 47.9h0M95.3 54.4h0M50.3 39.7h0M78.6 51.6h0M60.8 78.9h0M85.8 68.0h0M47.3 79.9h0M75.0 51.3h0M74.1 24.8h0M117.6 88.9h0M112.5 101.8h0M42.8 64.6h0M26.7 75.3h0M101.8 95.8h0M93.4 71.4h0M141.5 102.8h0M95.1 49.1h0M40.8 79.9h0M72.1 44.4h0M31.6 44.3h0M58.4 62.1h0M26.6 77.4h0M106.9 51.2h0M106.6 79.2h0M39.1 63.8h0M108.5 48.0h0M65.8 111.7h0M137.7 81.7h0M86.1 34.7h0M63.7 26.1h0M79.1 45.2h0M98.0 43.4h0M80.9 107.0h0M75.5 98.4h0"/>
<path stroke="#dca6a6" stroke-opacity="0.8" stroke-width="1.5" stroke-linecap="round" fill="none" d="M83.0 44.0h0M27.7 79.8h0M97.5 105.0h0M26.4 90.4h0M141.2 106.3h0M28.3 39.4h0M147.9 111.5h0M105.5 96.1h0M47.7 36.3h0M39.8 74.0h0M136.2 82.7h0M75.5 31.4h0M60.3 47.4h0M49.0 45.0h0M56.2 29.2h0M37.9 29.8h0M119.2 105.0h0M27.0 91.6h0M116.6 105.1h0M94.5 29.4h0M56.4 62.6h0M106.5 39.0h0M134.6 97.3h0M110.6 81.7h0M89.2 59.3h0M100.5 61.7h0M82.0 94.4h0M65.9 69.2h0M104.8 44.5h0M29.8 100.0h0M69.6 111.2h0M131.9 108.3h0M26.3 108.5h0M108.5 72.3h0M93.2 38.2h0M68.9 97.0h0M53.9 80.2h0M98.3 41.4h0M50.6 105.0h0M132.5 85.0h0M58.9 35.5h0M98.3 57.4h0M98.5 103.7h0M70.4 73.6h0M57.3 33.8h0M39.9 31.1h0M85.8 84.3h0M107.1 72.4h0M102.8 106.2h0M105.4 46.5h0M40.7 94.2h0M31.6 46.3h0M155.9 100.2h0M68.5 110.9h0M83.7 45.3h0M121.8 103.4h0M146.9 101.8h0M74.4 91.3h0M68.2 79.6h0"/>
<path stroke="#ecc8c0" stroke-opacity="0.8" stroke-width="1.24" stroke-linecap="round" fill="none" d="M118.9 83.2h0M85.5 101.7h0M33.0 84.2h0M41.0 86.9h0M102.2 52.5h0M81.1 75.6h0M71.0 37.5h0M83.5 87.3h0M101.2 86.1h0M62.0 48.5h0M107.6 47.0h0M88.6 70.4h0M142.5 111.2h0M94.4 64.4h0M69.2 97.7h0M46.0 67.8h0M94.0 55.5h0M81.4 77.3h0M38.5 77.3h0M100.6 68.6h0M100.0 53.3h0M34.9 55.8h0M106.2 50.2h0M71.7 52.0h0M75.3 108.9h0M124.8 94.2h0M73.1 27.9h0M157.3 86.1h0M90.7 76.5h0M135.7 90.0h0M129.7 100.2h0M49.4 58.3h0M123.9 91.0h0M103.9 72.1h0M72.9 74.0h0M48.8 66.1h0M151.3 105.5h0M64.4 39.1h0M82.2 96.1h0M77.6 37.2h0M32.7 83.1h0M64.8 107.8h0M56.0 49.1h0M93.2 57.7h0M61.3 68.0h0M153.2 102.0h0M62.1 97.2h0M107.2 98.8h0M36.8 32.7h0M124.9 96.8h0M76.7 31.3h0M143.3 110.2h0M45.4 75.9h0M58.6 21.7h0M65.7 24.0h0M41.2 24.7h0M99.1 32.9h0M89.1 41.4h0M62.4 106.8h0M79.8 20.5h0M30.7 65.7h0M62.3 96.0h0M46.4 45.6h0"/>
<path stroke="#f0d0c8" stroke-opacity="0.6" stroke-width="1.5" stroke-linecap="round" fill="none" d="M129.1 81.5h0M99.5 65.8h0M104.4 107.9h0M71.7 28.6h0M120.6 110.1h0M55.0 86.2h0M69.8 55.6h0M73.5 23.1h0M148.3 94.5h0M29.5 78.5h0M49.2 51.0h0M47.6 77.9h0M34.9 21.6h0M36.0 36.2h0M33.7 100.4h0M81.1 57.0h0M54.1 52.1h0M132.1 97.5h0M33.8 110.9h0M26.3 52.9h0M79.6 71.1h0M47.4 97.8h0M41.2 102.1h0M81.9 108.0h0M82.8 89.0h0M100.3 106.8h0M76.2 77.9h0M78.6 33.4h0M87.8 48.8h0M102.3 58.3h0M95.9 104.5h0M49.6 59.2h0M116.9 96.5h0M107.9 84.0h0M31.1 102.9h0M91.2 70.9h0M141.2 97.7h0M84.2 104.1h0M136.2 99.7h0M122.3 86.4h0M98.9 26.8h0M64.0 67.1h0M40.9 48.4h0M57.2 110.1h0M85.9 99.6h0M137.5 104.5h0M51.5 44.4h0M54.5 30.8h0M102.3 110.8h0M77.2 58.5h0M26.3 107.9h0M140.2 107.1h0M52.1 23.2h0M121.4 86.0h0M33.2 63.7h0M69.2 97.5h0"/>
<circle cx="30.4" cy="83.8" r="1.0" fill="#5a3a6a"/>
<rect x="110.80" y="20.30" width="47.20" height="59.90" fill="#ffffff" />
<path d="M157.8 20.6V80.2M111 20.6H157.8" stroke="#e6c0b8" stroke-width="0.8" stroke-dasharray="1.2 1.6" fill="none"/>
<rect x="114.30" y="25.30" width="2.60" height="2.60" fill="#dcb4cc" />
<text x="120.80" y="29.00" font-size="6.8" fill="#333" text-anchor="start" textLength="28.67" lengthAdjust="spacingAndGlyphs" stroke="#333" stroke-width="0.2">Microcytes</text>
<rect x="114.30" y="33.30" width="2.60" height="2.60" fill="#b48a72" />
<text x="120.80" y="37.00" font-size="6.8" fill="#333" text-anchor="start" textLength="30.67" lengthAdjust="spacingAndGlyphs" stroke="#333" stroke-width="0.2">Macrocytes</text>
<rect x="114.30" y="41.20" width="2.60" height="2.60" fill="#2f6e9e" />
<text x="120.80" y="44.90" font-size="6.8" fill="#333" text-anchor="start" textLength="30.34" lengthAdjust="spacingAndGlyphs" stroke="#333" stroke-width="0.2">Elliptocytes</text>
<rect x="114.30" y="49.20" width="2.60" height="2.60" fill="#c24e52" />
<text x="120.80" y="52.90" font-size="6.8" fill="#333" text-anchor="start" textLength="33.68" lengthAdjust="spacingAndGlyphs" stroke="#333" stroke-width="0.2">Schistocytes</text>
<rect x="114.30" y="57.20" width="2.60" height="2.60" fill="#7d5b9c" />
<text x="120.80" y="60.90" font-size="6.8" fill="#333" text-anchor="start" textLength="28.02" lengthAdjust="spacingAndGlyphs" stroke="#333" stroke-width="0.2">Spiculated</text>
<rect x="114.30" y="65.40" width="2.60" height="2.60" fill="#5c9c6c" />
<text x="120.80" y="69.10" font-size="6.8" fill="#333" text-anchor="start" textLength="26.68" lengthAdjust="spacingAndGlyphs" stroke="#333" stroke-width="0.2">Teardrops</text>
<rect x="114.30" y="73.60" width="2.60" height="2.60" fill="#cfcfd6" />
<text x="120.80" y="77.30" font-size="6.8" fill="#333" text-anchor="start" textLength="15.0" lengthAdjust="spacingAndGlyphs" stroke="#333" stroke-width="0.2">Other</text>
<text x="90.50" y="16.90" font-size="6.6" fill="#333" text-anchor="middle" textLength="57.5" lengthAdjust="spacingAndGlyphs" stroke="#333" stroke-width="0.2">Severe liver disease</text>
<defs><linearGradient id="ag" x1="0" y1="0" x2="1" y2="0"><stop offset="0" stop-color="#c2c2ca"/><stop offset="1" stop-color="#dcdce2"/></linearGradient></defs>
<polygon points="164.9,23.8 171.8,64.0 164.9,104.2" fill="url(#ag)"/>
<polygon points="165.8,140.0 172.5,178.4 165.8,216.8" fill="url(#ag)"/>
<g shape-rendering="crispEdges"><rect x="218.42" y="98.60" width="1.60" height="0.00" fill="#8555ac"/><rect x="218.42" y="98.59" width="1.60" height="0.01" fill="#d8aad6"/><rect x="219.58" y="98.60" width="1.60" height="0.00" fill="#8555ac"/><rect x="219.58" y="98.59" width="1.60" height="0.01" fill="#d8aad6"/><rect x="220.73" y="98.59" width="1.60" height="0.01" fill="#8555ac"/><rect x="220.73" y="98.58" width="1.60" height="0.01" fill="#d8aad6"/><rect x="221.89" y="98.59" width="1.60" height="0.01" fill="#8555ac"/><rect x="221.89" y="98.58" width="1.60" height="0.01" fill="#d8aad6"/><rect x="223.04" y="98.59" width="1.60" height="0.01" fill="#8555ac"/><rect x="223.04" y="98.57" width="1.60" height="0.02" fill="#d8aad6"/><rect x="224.20" y="98.57" width="1.60" height="0.03" fill="#8555ac"/><rect x="224.20" y="98.56" width="1.60" height="0.01" fill="#d8aad6"/><rect x="225.35" y="98.58" width="1.60" height="0.02" fill="#8555ac"/><rect x="225.35" y="98.53" width="1.60" height="0.05" fill="#d8aad6"/><rect x="226.51" y="98.56" width="1.60" height="0.04" fill="#8555ac"/><rect x="226.51" y="98.52" width="1.60" height="0.04" fill="#d8aad6"/><rect x="227.66" y="98.58" width="1.60" height="0.02" fill="#8555ac"/><rect x="227.66" y="98.49" width="1.60" height="0.08" fill="#d8aad6"/><rect x="228.81" y="98.56" width="1.60" height="0.04" fill="#8555ac"/><rect x="228.81" y="98.46" width="1.60" height="0.10" fill="#d8aad6"/><rect x="229.97" y="98.43" width="1.60" height="0.17" fill="#8555ac"/><rect x="231.12" y="98.48" width="1.60" height="0.12" fill="#8555ac"/><rect x="231.12" y="98.37" width="1.60" height="0.11" fill="#d8aad6"/><rect x="232.28" y="98.39" width="1.60" height="0.21" fill="#8555ac"/><rect x="232.28" y="98.30" width="1.60" height="0.10" fill="#d8aad6"/><rect x="233.44" y="98.47" width="1.60" height="0.13" fill="#8555ac"/><rect x="233.44" y="98.18" width="1.60" height="0.29" fill="#d8aad6"/><rect x="234.59" y="98.14" width="1.60" height="0.46" fill="#8555ac"/><rect x="235.75" y="97.91" width="1.60" height="0.69" fill="#8555ac"/><rect x="236.90" y="98.32" width="1.60" height="0.28" fill="#8555ac"/><rect x="236.90" y="97.76" width="1.60" height="0.56" fill="#d8aad6"/><rect x="238.06" y="98.34" width="1.60" height="0.26" fill="#8555ac"/><rect x="238.06" y="97.70" width="1.60" height="0.64" fill="#d8aad6"/><rect x="239.21" y="97.46" width="1.60" height="1.14" fill="#8555ac"/><rect x="240.37" y="97.74" width="1.60" height="0.86" fill="#8555ac"/><rect x="240.37" y="96.95" width="1.60" height="0.80" fill="#d8aad6"/><rect x="241.52" y="96.77" width="1.60" height="1.83" fill="#cc4050"/><rect x="242.68" y="97.05" width="1.60" height="1.55" fill="#cc4050"/><rect x="242.68" y="96.83" width="1.60" height="0.22" fill="#8555ac"/><rect x="242.68" y="96.40" width="1.60" height="0.43" fill="#d8aad6"/><rect x="243.83" y="96.07" width="1.60" height="2.53" fill="#cc4050"/><rect x="243.83" y="95.84" width="1.60" height="0.23" fill="#8555ac"/><rect x="243.83" y="95.53" width="1.60" height="0.31" fill="#d8aad6"/><rect x="244.99" y="96.65" width="1.60" height="1.95" fill="#cc4050"/><rect x="244.99" y="95.99" width="1.60" height="0.65" fill="#8555ac"/><rect x="244.99" y="95.10" width="1.60" height="0.89" fill="#d8aad6"/><rect x="246.14" y="96.73" width="1.60" height="1.87" fill="#cc4050"/><rect x="246.14" y="95.57" width="1.60" height="1.16" fill="#8555ac"/><rect x="246.14" y="94.53" width="1.60" height="1.04" fill="#d8aad6"/><rect x="247.30" y="96.39" width="1.60" height="2.21" fill="#cc4050"/><rect x="247.30" y="94.76" width="1.60" height="1.63" fill="#8555ac"/><rect x="247.30" y="93.41" width="1.60" height="1.35" fill="#d8aad6"/><rect x="248.45" y="96.97" width="1.60" height="1.63" fill="#cc4050"/><rect x="248.45" y="93.56" width="1.60" height="3.41" fill="#8555ac"/><rect x="249.61" y="96.33" width="1.60" height="2.27" fill="#cc4050"/><rect x="249.61" y="94.62" width="1.60" height="1.70" fill="#8555ac"/><rect x="249.61" y="91.62" width="1.60" height="3.00" fill="#d8aad6"/><rect x="250.76" y="95.11" width="1.60" height="3.49" fill="#cc4050"/><rect x="250.76" y="94.11" width="1.60" height="1.00" fill="#8555ac"/><rect x="250.76" y="90.22" width="1.60" height="3.88" fill="#d8aad6"/><rect x="251.92" y="95.88" width="1.60" height="2.72" fill="#cc4050"/><rect x="251.92" y="88.74" width="1.60" height="7.14" fill="#8555ac"/><rect x="253.07" y="96.33" width="1.60" height="2.27" fill="#cc4050"/><rect x="253.07" y="94.24" width="1.60" height="2.08" fill="#8555ac"/><rect x="253.07" y="88.38" width="1.60" height="5.87" fill="#d8aad6"/><rect x="254.23" y="96.96" width="1.60" height="1.64" fill="#cc4050"/><rect x="254.23" y="87.80" width="1.60" height="9.17" fill="#8555ac"/><rect x="255.38" y="96.10" width="1.60" height="2.50" fill="#cc4050"/><rect x="255.38" y="84.31" width="1.60" height="11.79" fill="#8555ac"/><rect x="256.54" y="96.57" width="1.60" height="2.03" fill="#cc4050"/><rect x="256.54" y="90.92" width="1.60" height="5.65" fill="#8555ac"/><rect x="256.54" y="85.04" width="1.60" height="5.88" fill="#d8aad6"/><rect x="257.69" y="96.96" width="1.60" height="1.64" fill="#cc4050"/><rect x="257.69" y="93.43" width="1.60" height="3.54" fill="#8555ac"/><rect x="257.69" y="82.84" width="1.60" height="10.59" fill="#d8aad6"/><rect x="258.85" y="95.55" width="1.60" height="3.05" fill="#cc4050"/><rect x="258.85" y="85.03" width="1.60" height="10.52" fill="#8555ac"/><rect x="258.85" y="77.22" width="1.60" height="7.81" fill="#d8aad6"/><rect x="260.00" y="89.11" width="1.60" height="9.48" fill="#3b3b3b"/><rect x="260.00" y="84.36" width="1.60" height="4.76" fill="#8555ac"/><rect x="260.00" y="74.94" width="1.60" height="9.42" fill="#d8aad6"/><rect x="261.16" y="88.30" width="1.60" height="10.30" fill="#3b3b3b"/><rect x="261.16" y="85.32" width="1.60" height="2.98" fill="#8555ac"/><rect x="261.16" y="77.69" width="1.60" height="7.63" fill="#d8aad6"/><rect x="262.31" y="87.49" width="1.60" height="11.11" fill="#3b3b3b"/><rect x="262.31" y="70.85" width="1.60" height="16.64" fill="#8555ac"/><rect x="263.47" y="86.68" width="1.60" height="11.92" fill="#3b3b3b"/><rect x="263.47" y="79.68" width="1.60" height="6.99" fill="#8555ac"/><rect x="263.47" y="69.60" width="1.60" height="10.08" fill="#d8aad6"/><rect x="263.47" y="57.95" width="1.60" height="11.65" fill="#6e5a88"/><rect x="264.62" y="85.86" width="1.60" height="12.74" fill="#3b3b3b"/><rect x="264.62" y="76.95" width="1.60" height="8.91" fill="#8555ac"/><rect x="264.62" y="65.28" width="1.60" height="11.67" fill="#d8aad6"/><rect x="265.78" y="85.05" width="1.60" height="13.55" fill="#3b3b3b"/><rect x="265.78" y="67.20" width="1.60" height="17.85" fill="#8555ac"/><rect x="266.93" y="84.24" width="1.60" height="14.36" fill="#3b3b3b"/><rect x="266.93" y="67.19" width="1.60" height="17.05" fill="#8555ac"/><rect x="268.09" y="83.42" width="1.60" height="15.18" fill="#3b3b3b"/><rect x="268.09" y="64.99" width="1.60" height="18.43" fill="#8555ac"/><rect x="269.24" y="82.61" width="1.60" height="15.99" fill="#3b3b3b"/><rect x="269.24" y="63.88" width="1.60" height="18.73" fill="#8555ac"/><rect x="269.24" y="54.99" width="1.60" height="8.88" fill="#d8aad6"/><rect x="269.24" y="41.69" width="1.60" height="13.30" fill="#6e5a88"/><rect x="270.39" y="81.80" width="1.60" height="16.80" fill="#3b3b3b"/><rect x="270.39" y="58.49" width="1.60" height="23.31" fill="#8555ac"/><rect x="270.39" y="51.58" width="1.60" height="6.90" fill="#d8aad6"/><rect x="271.55" y="67.02" width="1.60" height="31.58" fill="#3b3b3b"/><rect x="271.55" y="62.46" width="1.60" height="4.55" fill="#8555ac"/><rect x="271.55" y="58.58" width="1.60" height="3.88" fill="#d8aad6"/><rect x="272.71" y="60.75" width="1.60" height="37.85" fill="#3b3b3b"/><rect x="272.71" y="50.75" width="1.60" height="10.00" fill="#8555ac"/><rect x="273.86" y="66.48" width="1.60" height="32.12" fill="#3b3b3b"/><rect x="273.86" y="55.83" width="1.60" height="10.66" fill="#8555ac"/><rect x="273.86" y="50.96" width="1.60" height="4.86" fill="#d8aad6"/><rect x="275.01" y="80.98" width="1.60" height="17.61" fill="#3b3b3b"/><rect x="275.01" y="61.10" width="1.60" height="19.89" fill="#8555ac"/><rect x="275.01" y="47.09" width="1.60" height="14.01" fill="#d8aad6"/><rect x="275.01" y="29.49" width="1.60" height="17.60" fill="#6e5a88"/><rect x="276.17" y="80.98" width="1.60" height="17.61" fill="#3b3b3b"/><rect x="276.17" y="44.01" width="1.60" height="36.97" fill="#8555ac"/><rect x="277.32" y="80.98" width="1.60" height="17.61" fill="#3b3b3b"/><rect x="277.32" y="65.43" width="1.60" height="15.55" fill="#8555ac"/><rect x="277.32" y="53.74" width="1.60" height="11.69" fill="#d8aad6"/><rect x="278.48" y="80.98" width="1.60" height="17.61" fill="#3b3b3b"/><rect x="278.48" y="63.42" width="1.60" height="17.56" fill="#8555ac"/><rect x="278.48" y="51.27" width="1.60" height="12.16" fill="#d8aad6"/><rect x="279.63" y="62.22" width="1.60" height="36.38" fill="#3b3b3b"/><rect x="279.63" y="49.41" width="1.60" height="12.80" fill="#8555ac"/><rect x="280.79" y="55.77" width="1.60" height="42.83" fill="#3b3b3b"/><rect x="280.79" y="42.29" width="1.60" height="13.48" fill="#8555ac"/><rect x="281.94" y="53.74" width="1.60" height="44.86" fill="#3b3b3b"/><rect x="281.94" y="42.09" width="1.60" height="11.65" fill="#8555ac"/><rect x="281.94" y="35.59" width="1.60" height="6.50" fill="#6e5a88"/><rect x="283.10" y="80.98" width="1.60" height="17.61" fill="#3b3b3b"/><rect x="283.10" y="45.32" width="1.60" height="35.67" fill="#8555ac"/><rect x="284.25" y="74.21" width="1.60" height="24.39" fill="#3b3b3b"/><rect x="284.25" y="46.58" width="1.60" height="27.63" fill="#8555ac"/><rect x="284.25" y="44.94" width="1.60" height="1.64" fill="#6e5a88"/><rect x="285.41" y="67.44" width="1.60" height="31.16" fill="#3b3b3b"/><rect x="285.41" y="55.06" width="1.60" height="12.38" fill="#8555ac"/><rect x="286.56" y="53.63" width="1.60" height="44.97" fill="#3b3b3b"/><rect x="286.56" y="53.00" width="1.60" height="0.63" fill="#8555ac"/><rect x="286.56" y="52.82" width="1.60" height="0.18" fill="#d8aad6"/><rect x="287.72" y="57.27" width="1.60" height="41.33" fill="#3b3b3b"/><rect x="287.72" y="40.33" width="1.60" height="16.94" fill="#6e5a88"/><rect x="288.88" y="52.81" width="1.60" height="45.79" fill="#3b3b3b"/><rect x="290.03" y="56.94" width="1.60" height="41.66" fill="#3b3b3b"/><rect x="291.19" y="60.11" width="1.60" height="38.49" fill="#3b3b3b"/><rect x="292.34" y="59.95" width="1.60" height="38.65" fill="#3b3b3b"/><rect x="293.50" y="57.41" width="1.60" height="41.19" fill="#3b3b3b"/><rect x="294.65" y="60.31" width="1.60" height="38.29" fill="#3b3b3b"/><rect x="294.65" y="58.63" width="1.60" height="1.68" fill="#5a5a5a"/><rect x="295.81" y="64.36" width="1.60" height="34.24" fill="#3b3b3b"/><rect x="296.96" y="77.19" width="1.60" height="21.41" fill="#3b3b3b"/><rect x="296.96" y="66.44" width="1.60" height="10.76" fill="#d8d8de"/><rect x="298.12" y="67.66" width="1.60" height="30.94" fill="#3b3b3b"/><rect x="299.27" y="81.41" width="1.60" height="17.19" fill="#3b3b3b"/><rect x="299.27" y="75.13" width="1.60" height="6.27" fill="#d8d8de"/><rect x="299.27" y="66.35" width="1.60" height="8.78" fill="#5a5a5a"/><rect x="300.43" y="81.53" width="1.60" height="17.07" fill="#3b3b3b"/><rect x="300.43" y="76.11" width="1.60" height="5.41" fill="#d8d8de"/><rect x="301.58" y="73.61" width="1.60" height="24.99" fill="#3b3b3b"/><rect x="302.74" y="79.88" width="1.60" height="18.72" fill="#3b3b3b"/><rect x="303.89" y="81.11" width="1.60" height="17.49" fill="#3b3b3b"/><rect x="303.89" y="71.50" width="1.60" height="9.61" fill="#5a5a5a"/><rect x="305.05" y="84.83" width="1.60" height="13.77" fill="#3b3b3b"/><rect x="305.05" y="80.80" width="1.60" height="4.03" fill="#d8d8de"/><rect x="306.20" y="87.42" width="1.60" height="11.18" fill="#3b3b3b"/><rect x="306.20" y="81.93" width="1.60" height="5.49" fill="#d8d8de"/><rect x="307.36" y="85.51" width="1.60" height="13.09" fill="#3b3b3b"/><rect x="308.51" y="86.34" width="1.60" height="12.26" fill="#3b3b3b"/><rect x="308.51" y="76.11" width="1.60" height="10.23" fill="#5a5a5a"/><rect x="309.67" y="90.33" width="1.60" height="8.27" fill="#3b3b3b"/><rect x="309.67" y="88.18" width="1.60" height="2.15" fill="#d8d8de"/><rect x="310.82" y="87.77" width="1.60" height="10.83" fill="#3b3b3b"/><rect x="311.98" y="92.58" width="1.60" height="6.02" fill="#3b3b3b"/><rect x="311.98" y="89.58" width="1.60" height="3.00" fill="#d8d8de"/><rect x="313.13" y="90.69" width="1.60" height="7.91" fill="#3b3b3b"/><rect x="314.29" y="94.63" width="1.60" height="3.97" fill="#3b3b3b"/><rect x="314.29" y="92.64" width="1.60" height="1.99" fill="#d4884c"/><rect x="314.29" y="84.64" width="1.60" height="8.00" fill="#5a5a5a"/><rect x="315.44" y="96.71" width="1.60" height="1.89" fill="#3b3b3b"/><rect x="315.44" y="92.92" width="1.60" height="3.79" fill="#d4884c"/><rect x="316.60" y="93.78" width="1.60" height="4.82" fill="#d4884c"/><rect x="317.75" y="93.98" width="1.60" height="4.62" fill="#d4884c"/><rect x="318.91" y="95.32" width="1.60" height="3.28" fill="#d4884c"/><rect x="320.06" y="95.42" width="1.60" height="3.18" fill="#d4884c"/><rect x="321.22" y="95.71" width="1.60" height="2.89" fill="#d4884c"/><rect x="322.37" y="96.13" width="1.60" height="2.47" fill="#d4884c"/><rect x="323.53" y="96.89" width="1.60" height="1.71" fill="#d4884c"/><rect x="324.68" y="96.91" width="1.60" height="1.69" fill="#d4884c"/><rect x="325.84" y="97.36" width="1.60" height="1.24" fill="#d4884c"/><rect x="326.99" y="97.46" width="1.60" height="1.14" fill="#d4884c"/><rect x="328.14" y="97.69" width="1.60" height="0.91" fill="#d4884c"/><rect x="329.30" y="97.87" width="1.60" height="0.73" fill="#d4884c"/><rect x="330.46" y="98.01" width="1.60" height="0.59" fill="#d4884c"/><rect x="331.61" y="98.05" width="1.60" height="0.55" fill="#d4884c"/><rect x="332.76" y="98.19" width="1.60" height="0.41" fill="#d4884c"/><rect x="333.92" y="98.29" width="1.60" height="0.31" fill="#d4884c"/><rect x="335.08" y="98.36" width="1.60" height="0.24" fill="#d4884c"/><rect x="336.23" y="98.38" width="1.60" height="0.22" fill="#d4884c"/><rect x="337.38" y="98.44" width="1.60" height="0.16" fill="#d4884c"/><rect x="338.54" y="98.46" width="1.60" height="0.14" fill="#d4884c"/><rect x="339.69" y="98.49" width="1.60" height="0.11" fill="#d4884c"/></g>
<polyline points="213.80,98.60 214.38,98.60 214.96,98.60 215.53,98.60 216.11,98.59 216.69,98.59 217.27,98.59 217.84,98.59 218.42,98.59 219.00,98.59 219.58,98.59 220.15,98.58 220.73,98.58 221.31,98.58 221.89,98.57 222.46,98.57 223.04,98.57 223.62,98.56 224.20,98.55 224.77,98.55 225.35,98.54 225.93,98.53 226.51,98.52 227.08,98.51 227.66,98.49 228.24,98.48 228.81,98.46 229.39,98.44 229.97,98.42 230.55,98.39 231.12,98.36 231.70,98.33 232.28,98.30 232.86,98.26 233.44,98.21 234.01,98.16 234.59,98.10 235.17,98.04 235.75,97.97 236.32,97.90 236.90,97.81 237.48,97.72 238.06,97.61 238.63,97.50 239.21,97.37 239.79,97.24 240.37,97.09 240.94,96.92 241.52,96.74 242.10,96.55 242.68,96.34 243.25,96.11 243.83,95.86 244.41,95.59 244.99,95.30 245.56,94.98 246.14,94.65 246.72,94.28 247.30,93.89 247.87,93.48 248.45,93.03 249.03,92.56 249.61,92.06 250.18,91.52 250.76,90.96 251.34,90.36 251.92,89.72 252.49,89.05 253.07,88.35 253.65,87.62 254.23,86.84 254.80,86.04 255.38,85.20 255.96,84.32 256.54,83.41 257.11,82.47 257.69,81.49 258.27,80.48 258.85,79.44 259.42,78.38 260.00,77.28 260.58,76.17 261.16,75.03 261.73,73.87 262.31,72.69 262.89,71.49 263.47,70.29 264.04,69.08 264.62,67.86 265.20,66.64 265.78,65.42 266.35,64.21 266.93,63.01 267.51,61.82 268.09,60.65 268.66,59.51 269.24,58.39 269.82,57.30 270.39,56.25 270.97,55.23 271.55,54.26 272.13,53.34 272.71,52.47 273.28,51.65 273.86,50.89 274.44,50.20 275.01,49.56 275.59,49.00 276.17,48.50 276.75,48.08 277.32,47.73 277.90,47.46 278.48,47.27 279.06,47.15 279.63,47.11 280.21,47.14 280.79,47.23 281.37,47.37 281.94,47.58 282.52,47.84 283.10,48.16 283.68,48.53 284.25,48.96 284.83,49.44 285.41,49.97 285.99,50.55 286.56,51.17 287.14,51.84 287.72,52.56 288.30,53.31 288.88,54.11 289.45,54.94 290.03,55.80 290.61,56.70 291.19,57.62 291.76,58.57 292.34,59.54 292.92,60.53 293.50,61.53 294.07,62.56 294.65,63.59 295.23,64.63 295.81,65.68 296.38,66.74 296.96,67.79 297.54,68.85 298.12,69.90 298.69,70.94 299.27,71.98 299.85,73.01 300.43,74.02 301.00,75.03 301.58,76.01 302.16,76.98 302.74,77.94 303.31,78.87 303.89,79.78 304.47,80.67 305.05,81.54 305.62,82.39 306.20,83.21 306.78,84.00 307.36,84.77 307.93,85.52 308.51,86.24 309.09,86.93 309.67,87.60 310.24,88.24 310.82,88.85 311.40,89.44 311.98,90.00 312.55,90.54 313.13,91.05 313.71,91.54 314.29,92.00 314.86,92.44 315.44,92.86 316.02,93.25 316.60,93.63 317.17,93.98 317.75,94.31 318.33,94.63 318.91,94.92 319.48,95.20 320.06,95.46 320.64,95.70 321.22,95.93 321.79,96.14 322.37,96.34 322.95,96.52 323.53,96.69 324.10,96.85 324.68,97.00 325.26,97.14 325.84,97.26 326.41,97.38 326.99,97.49 327.57,97.59 328.14,97.68 328.72,97.77 329.30,97.84 329.88,97.91 330.46,97.98 331.03,98.04 331.61,98.09 332.19,98.14 332.76,98.19 333.34,98.23 333.92,98.27 334.50,98.30 335.08,98.33 335.65,98.36 336.23,98.39 336.81,98.41 337.38,98.43 337.96,98.45 338.54,98.46 339.12,98.48 339.69,98.49 340.27,98.50 340.85,98.52" fill="none" stroke="#2a2a3a" stroke-width="1.0"/>
<line x1="213.50" y1="17.10" x2="213.50" y2="99.10" stroke="#2e2e2e" stroke-width="1.0" />
<line x1="210.80" y1="98.50" x2="213.80" y2="98.50" stroke="#2e2e2e" stroke-width="0.9" />
<text x="206.80" y="100.90" font-size="6.6" fill="#2c2c2c" text-anchor="end" stroke="#2c2c2c" stroke-width="0.2">0</text>
<line x1="210.80" y1="64.50" x2="213.80" y2="64.50" stroke="#2e2e2e" stroke-width="0.9" />
<text x="206.80" y="67.10" font-size="6.6" fill="#2c2c2c" text-anchor="end" stroke="#2c2c2c" stroke-width="0.2">25</text>
<line x1="210.80" y1="30.50" x2="213.80" y2="30.50" stroke="#2e2e2e" stroke-width="0.9" />
<text x="206.80" y="33.00" font-size="6.6" fill="#2c2c2c" text-anchor="end" stroke="#2c2c2c" stroke-width="0.2">50</text>
<line x1="213.30" y1="98.50" x2="343.20" y2="98.50" stroke="#2e2e2e" stroke-width="1.0" />
<line x1="213.50" y1="98.60" x2="213.50" y2="101.40" stroke="#2e2e2e" stroke-width="0.9" />
<text x="213.80" y="111.10" font-size="6.6" fill="#2c2c2c" text-anchor="middle" stroke="#2c2c2c" stroke-width="0.2">40</text>
<line x1="271.50" y1="98.60" x2="271.50" y2="101.40" stroke="#2e2e2e" stroke-width="0.9" />
<text x="271.40" y="111.10" font-size="6.6" fill="#2c2c2c" text-anchor="middle" stroke="#2c2c2c" stroke-width="0.2">90</text>
<line x1="329.50" y1="98.60" x2="329.50" y2="101.40" stroke="#2e2e2e" stroke-width="0.9" />
<text x="329.30" y="111.10" font-size="6.6" fill="#2c2c2c" text-anchor="middle" stroke="#2c2c2c" stroke-width="0.2">140</text>
<text x="276.70" y="121.10" font-size="7.9" fill="#1e1e1e" text-anchor="middle" textLength="32.2" lengthAdjust="spacingAndGlyphs" stroke="#1e1e1e" stroke-width="0.22">Volume (fL)</text>
<text x="193.60" y="57.90" font-size="7.9" fill="#1e1e1e" text-anchor="middle" textLength="31.5" lengthAdjust="spacingAndGlyphs" transform="rotate(-90 193.60 57.90)" stroke="#1e1e1e" stroke-width="0.22">No. of cells</text>
<rect x="217.40" y="18.00" width="3.20" height="3.20" fill="#1a1a1a" />
<text x="224.60" y="22.00" font-size="6.9" fill="#333" text-anchor="start" textLength="19.66" lengthAdjust="spacingAndGlyphs" stroke="#333" stroke-width="0.2">Normal</text>
<rect x="217.40" y="25.50" width="3.20" height="3.20" fill="#dcb6cc" />
<text x="224.60" y="29.50" font-size="6.9" fill="#333" text-anchor="start" textLength="29.15" lengthAdjust="spacingAndGlyphs" stroke="#333" stroke-width="0.2">Microcytes</text>
<rect x="217.40" y="32.80" width="3.20" height="3.20" fill="#b48460" />
<text x="224.60" y="36.80" font-size="6.9" fill="#333" text-anchor="start" textLength="31.18" lengthAdjust="spacingAndGlyphs" stroke="#333" stroke-width="0.2">Macrocytes</text>
<rect x="217.40" y="40.40" width="3.20" height="3.20" fill="#2f6ea6" />
<text x="224.60" y="44.40" font-size="6.9" fill="#333" text-anchor="start" textLength="30.85" lengthAdjust="spacingAndGlyphs" stroke="#333" stroke-width="0.2">Elliptocytes</text>
<rect x="217.40" y="47.90" width="3.20" height="3.20" fill="#c8303a" />
<text x="224.60" y="51.90" font-size="6.9" fill="#333" text-anchor="start" textLength="34.24" lengthAdjust="spacingAndGlyphs" stroke="#333" stroke-width="0.2">Schistocytes</text>
<rect x="217.40" y="55.40" width="3.20" height="3.20" fill="#6e4a96" />
<text x="224.60" y="59.40" font-size="6.9" fill="#333" text-anchor="start" textLength="28.49" lengthAdjust="spacingAndGlyphs" stroke="#333" stroke-width="0.2">Spiculated</text>
<rect x="217.40" y="62.90" width="3.20" height="3.20" fill="#30985a" />
<text x="224.60" y="66.90" font-size="6.9" fill="#333" text-anchor="start" textLength="27.12" lengthAdjust="spacingAndGlyphs" stroke="#333" stroke-width="0.2">Teardrops</text>
<rect x="217.40" y="70.10" width="3.20" height="3.20" fill="#d0d0d8" />
<text x="224.60" y="74.10" font-size="6.9" fill="#333" text-anchor="start" textLength="15.25" lengthAdjust="spacingAndGlyphs" stroke="#333" stroke-width="0.2">Other</text>
<line x1="389.50" y1="17.30" x2="389.50" y2="99.20" stroke="#2e2e2e" stroke-width="1.0" />
<line x1="386.50" y1="90.50" x2="389.50" y2="90.50" stroke="#2e2e2e" stroke-width="0.9" />
<text x="382.60" y="92.60" font-size="6.6" fill="#2c2c2c" text-anchor="end" stroke="#2c2c2c" stroke-width="0.2">80</text>
<line x1="386.50" y1="60.50" x2="389.50" y2="60.50" stroke="#2e2e2e" stroke-width="0.9" />
<text x="382.60" y="63.20" font-size="6.6" fill="#2c2c2c" text-anchor="end" stroke="#2c2c2c" stroke-width="0.2">100</text>
<line x1="386.50" y1="32.50" x2="389.50" y2="32.50" stroke="#2e2e2e" stroke-width="0.9" />
<text x="382.60" y="34.60" font-size="6.6" fill="#2c2c2c" text-anchor="end" stroke="#2c2c2c" stroke-width="0.2">120</text>
<line x1="389.00" y1="98.50" x2="503.00" y2="98.50" stroke="#2e2e2e" stroke-width="1.0" />
<line x1="408.50" y1="98.70" x2="408.50" y2="101.50" stroke="#2e2e2e" stroke-width="0.9" />
<line x1="446.50" y1="98.70" x2="446.50" y2="101.50" stroke="#2e2e2e" stroke-width="0.9" />
<line x1="483.50" y1="98.70" x2="483.50" y2="101.50" stroke="#2e2e2e" stroke-width="0.9" />
<line x1="408.50" y1="38.90" x2="408.50" y2="51.50" stroke="#444" stroke-width="0.9" />
<line x1="408.50" y1="63.20" x2="408.50" y2="79.50" stroke="#444" stroke-width="0.9" />
<line x1="404.10" y1="38.50" x2="412.70" y2="38.50" stroke="#444" stroke-width="1.0" />
<line x1="404.10" y1="79.50" x2="412.70" y2="79.50" stroke="#444" stroke-width="1.0" />
<rect x="399.15" y="51.50" width="18.50" height="11.70" fill="#d4103a" />
<line x1="399.15" y1="56.50" x2="417.65" y2="56.50" stroke="#7a0a20" stroke-width="1.2" />
<line x1="445.50" y1="39.70" x2="445.50" y2="48.40" stroke="#444" stroke-width="0.9" />
<line x1="445.50" y1="61.50" x2="445.50" y2="81.20" stroke="#444" stroke-width="0.9" />
<line x1="441.50" y1="39.50" x2="450.10" y2="39.50" stroke="#444" stroke-width="1.0" />
<line x1="441.50" y1="81.50" x2="450.10" y2="81.50" stroke="#444" stroke-width="1.0" />
<rect x="436.45" y="48.40" width="18.70" height="13.10" fill="#d4103a" />
<line x1="436.45" y1="54.50" x2="455.15" y2="54.50" stroke="#7a0a20" stroke-width="1.2" />
<line x1="483.50" y1="61.50" x2="483.50" y2="72.30" stroke="#444" stroke-width="0.9" />
<line x1="483.50" y1="80.60" x2="483.50" y2="90.30" stroke="#444" stroke-width="0.9" />
<line x1="478.70" y1="61.50" x2="487.30" y2="61.50" stroke="#444" stroke-width="1.0" />
<line x1="478.70" y1="90.50" x2="487.30" y2="90.50" stroke="#444" stroke-width="1.0" />
<rect x="474.00" y="72.30" width="18.00" height="8.30" fill="#d4103a" />
<line x1="474.00" y1="76.50" x2="492.00" y2="76.50" stroke="#7a0a20" stroke-width="1.2" />
<circle cx="445.8" cy="23.4" r="2.0" fill="none" stroke="#222" stroke-width="1.15"/>
<circle cx="445.8" cy="27.9" r="2.0" fill="none" stroke="#222" stroke-width="1.15"/>
<circle cx="445.8" cy="87.0" r="1.8" fill="none" stroke="#222" stroke-width="1.15"/>
<text x="425.70" y="30.60" font-size="6.4" fill="#2c2c2c" text-anchor="middle" textLength="22.7" lengthAdjust="spacingAndGlyphs"><tspan font-style="italic">P</tspan> = .26</text>
<line x1="413.50" y1="34.50" x2="437.20" y2="34.50" stroke="#333" stroke-width="0.9" />
<text x="464.60" y="30.60" font-size="6.4" fill="#2c2c2c" text-anchor="middle" textLength="25.7" lengthAdjust="spacingAndGlyphs"><tspan font-style="italic">P</tspan> &lt; .001</text>
<line x1="452.50" y1="34.50" x2="477.20" y2="34.50" stroke="#333" stroke-width="0.9" />
<text x="397.00" y="92.80" font-size="6.4" fill="#2c2c2c" text-anchor="start" textLength="19" lengthAdjust="spacingAndGlyphs" stroke="#2c2c2c" stroke-width="0.2">n = 46</text>
<text x="408.50" y="110.80" font-size="6.5" fill="#2c2c2c" text-anchor="middle" stroke="#2c2c2c" stroke-width="0.2">Normal</text>
<text x="408.50" y="118.20" font-size="6.5" fill="#2c2c2c" text-anchor="middle" stroke="#2c2c2c" stroke-width="0.2">cells</text>
<text x="446.00" y="110.80" font-size="6.5" fill="#2c2c2c" text-anchor="middle" stroke="#2c2c2c" stroke-width="0.2">Exclude</text>
<text x="446.00" y="118.20" font-size="6.5" fill="#2c2c2c" text-anchor="middle" stroke="#2c2c2c" stroke-width="0.2">spic.</text>
<text x="483.00" y="110.80" font-size="6.5" fill="#2c2c2c" text-anchor="middle" stroke="#2c2c2c" stroke-width="0.2">Spic.</text>
<text x="364.30" y="59.50" font-size="7.9" fill="#1e1e1e" text-anchor="middle" textLength="48.6" lengthAdjust="spacingAndGlyphs" transform="rotate(-90 364.30 59.50)" stroke="#1e1e1e" stroke-width="0.22">Mean volume (fL)</text>
<g shape-rendering="crispEdges"><rect x="35.50" y="222.52" width="1.60" height="0.98" fill="#f2a4c8"/><rect x="36.65" y="222.22" width="1.60" height="1.28" fill="#f2a4c8"/><rect x="37.80" y="221.98" width="1.60" height="1.52" fill="#f2a4c8"/><rect x="38.95" y="221.56" width="1.60" height="1.94" fill="#f2a4c8"/><rect x="40.10" y="221.14" width="1.60" height="2.36" fill="#f2a4c8"/><rect x="41.24" y="220.97" width="1.60" height="2.53" fill="#f2a4c8"/><rect x="42.39" y="220.51" width="1.60" height="2.99" fill="#f2a4c8"/><rect x="43.54" y="219.28" width="1.60" height="4.22" fill="#f2a4c8"/><rect x="44.69" y="219.04" width="1.60" height="4.46" fill="#f2a4c8"/><rect x="45.84" y="218.27" width="1.60" height="5.23" fill="#f2a4c8"/><rect x="46.99" y="216.39" width="1.60" height="7.11" fill="#f2a4c8"/><rect x="48.14" y="216.00" width="1.60" height="7.50" fill="#f2a4c8"/><rect x="49.29" y="214.17" width="1.60" height="9.33" fill="#f2a4c8"/><rect x="50.44" y="213.47" width="1.60" height="10.03" fill="#f2a4c8"/><rect x="51.59" y="211.63" width="1.60" height="11.87" fill="#f2a4c8"/><rect x="52.73" y="211.25" width="1.60" height="12.25" fill="#f2a4c8"/><rect x="53.88" y="208.17" width="1.60" height="15.33" fill="#f2a4c8"/><rect x="55.03" y="205.44" width="1.60" height="18.06" fill="#f2a4c8"/><rect x="56.18" y="204.56" width="1.60" height="18.94" fill="#f2a4c8"/><rect x="57.33" y="201.47" width="1.60" height="22.03" fill="#f2a4c8"/><rect x="58.48" y="199.40" width="1.60" height="24.10" fill="#f2a4c8"/><rect x="59.63" y="200.05" width="1.60" height="23.45" fill="#f2a4c8"/><rect x="60.78" y="193.89" width="1.60" height="29.61" fill="#f2a4c8"/><rect x="61.93" y="192.24" width="1.60" height="31.26" fill="#f2a4c8"/><rect x="63.08" y="191.54" width="1.60" height="31.96" fill="#f2a4c8"/><rect x="64.22" y="190.99" width="1.60" height="32.51" fill="#f2a4c8"/><rect x="65.37" y="182.22" width="1.60" height="41.28" fill="#f2a4c8"/><rect x="66.52" y="182.71" width="1.60" height="40.79" fill="#f2a4c8"/><rect x="67.67" y="178.12" width="1.60" height="45.38" fill="#3b3b3b"/><rect x="68.82" y="174.19" width="1.60" height="49.31" fill="#3b3b3b"/><rect x="69.97" y="173.38" width="1.60" height="50.12" fill="#3b3b3b"/><rect x="71.12" y="169.17" width="1.60" height="54.33" fill="#3b3b3b"/><rect x="72.27" y="172.63" width="1.60" height="50.87" fill="#3b3b3b"/><rect x="73.42" y="166.70" width="1.60" height="56.80" fill="#3b3b3b"/><rect x="74.57" y="169.17" width="1.60" height="54.33" fill="#3b3b3b"/><rect x="75.72" y="165.25" width="1.60" height="58.25" fill="#3b3b3b"/><rect x="76.86" y="162.39" width="1.60" height="61.11" fill="#3b3b3b"/><rect x="78.01" y="167.68" width="1.60" height="55.82" fill="#3b3b3b"/><rect x="78.01" y="156.35" width="1.60" height="11.33" fill="#2d6f8a"/><rect x="79.16" y="170.24" width="1.60" height="53.26" fill="#3b3b3b"/><rect x="80.31" y="169.35" width="1.60" height="54.15" fill="#3b3b3b"/><rect x="81.46" y="149.88" width="1.60" height="73.62" fill="#3b3b3b"/><rect x="82.61" y="168.01" width="1.60" height="55.49" fill="#3b3b3b"/><rect x="83.76" y="164.19" width="1.60" height="59.31" fill="#3b3b3b"/><rect x="84.91" y="177.65" width="1.60" height="45.85" fill="#3b3b3b"/><rect x="84.91" y="161.05" width="1.60" height="16.60" fill="#c8c8c8"/><rect x="86.06" y="188.70" width="1.60" height="34.80" fill="#3b3b3b"/><rect x="86.06" y="171.92" width="1.60" height="16.78" fill="#c8c8c8"/><rect x="87.20" y="161.08" width="1.60" height="62.42" fill="#3b3b3b"/><rect x="88.35" y="164.82" width="1.60" height="58.68" fill="#3b3b3b"/><rect x="89.50" y="162.67" width="1.60" height="60.83" fill="#3b3b3b"/><rect x="90.65" y="181.03" width="1.60" height="42.47" fill="#3b3b3b"/><rect x="91.80" y="167.59" width="1.60" height="55.91" fill="#3b3b3b"/><rect x="92.95" y="177.22" width="1.60" height="46.28" fill="#3b3b3b"/><rect x="94.10" y="185.67" width="1.60" height="37.83" fill="#3b3b3b"/><rect x="95.25" y="188.95" width="1.60" height="34.55" fill="#3b3b3b"/><rect x="95.25" y="181.93" width="1.60" height="7.03" fill="#c8c8c8"/><rect x="96.40" y="180.23" width="1.60" height="43.27" fill="#3b3b3b"/><rect x="97.55" y="193.97" width="1.60" height="29.53" fill="#3b3b3b"/><rect x="98.69" y="199.43" width="1.60" height="24.07" fill="#3b3b3b"/><rect x="98.69" y="191.91" width="1.60" height="7.52" fill="#c8c8c8"/><rect x="99.84" y="190.09" width="1.60" height="33.41" fill="#3b3b3b"/><rect x="100.99" y="200.94" width="1.60" height="22.56" fill="#3b3b3b"/><rect x="102.14" y="202.99" width="1.60" height="20.51" fill="#3b3b3b"/><rect x="103.29" y="202.41" width="1.60" height="21.09" fill="#3b3b3b"/><rect x="104.44" y="210.21" width="1.60" height="13.29" fill="#3b3b3b"/><rect x="104.44" y="199.35" width="1.60" height="10.86" fill="#c8c8c8"/><rect x="105.59" y="212.35" width="1.60" height="11.15" fill="#3b3b3b"/><rect x="105.59" y="206.86" width="1.60" height="5.49" fill="#c8c8c8"/><rect x="106.74" y="214.10" width="1.60" height="9.40" fill="#3b3b3b"/><rect x="106.74" y="210.58" width="1.60" height="3.52" fill="#c8c8c8"/><rect x="107.89" y="211.32" width="1.60" height="12.18" fill="#3b3b3b"/><rect x="107.89" y="208.95" width="1.60" height="2.37" fill="#c8c8c8"/><rect x="109.04" y="215.68" width="1.60" height="7.82" fill="#3b3b3b"/><rect x="109.04" y="209.60" width="1.60" height="6.08" fill="#c8c8c8"/><rect x="110.19" y="214.88" width="1.60" height="8.62" fill="#3b3b3b"/><rect x="110.19" y="211.39" width="1.60" height="3.49" fill="#c8c8c8"/><rect x="111.33" y="214.48" width="1.60" height="9.02" fill="#3b3b3b"/><rect x="112.48" y="218.26" width="1.60" height="5.24" fill="#3b3b3b"/><rect x="112.48" y="215.61" width="1.60" height="2.65" fill="#c8c8c8"/><rect x="113.63" y="218.07" width="1.60" height="5.43" fill="#3b3b3b"/><rect x="113.63" y="215.97" width="1.60" height="2.10" fill="#c8c8c8"/><rect x="114.78" y="219.08" width="1.60" height="4.42" fill="#3b3b3b"/><rect x="114.78" y="217.68" width="1.60" height="1.40" fill="#c8c8c8"/><rect x="115.93" y="219.88" width="1.60" height="3.62" fill="#3b3b3b"/><rect x="115.93" y="218.22" width="1.60" height="1.66" fill="#c8c8c8"/><rect x="117.08" y="220.57" width="1.60" height="2.93" fill="#3b3b3b"/><rect x="118.23" y="220.58" width="1.60" height="2.92" fill="#3b3b3b"/><rect x="119.38" y="221.06" width="1.60" height="2.44" fill="#3b3b3b"/><rect x="120.53" y="221.76" width="1.60" height="1.74" fill="#3b3b3b"/><rect x="121.67" y="221.94" width="1.60" height="1.56" fill="#3b3b3b"/><rect x="122.82" y="222.27" width="1.60" height="1.23" fill="#3b3b3b"/><rect x="123.97" y="222.65" width="1.60" height="0.85" fill="#3b3b3b"/><rect x="125.12" y="222.76" width="1.60" height="0.74" fill="#3b3b3b"/><rect x="126.27" y="222.95" width="1.60" height="0.55" fill="#3b3b3b"/><rect x="127.42" y="223.07" width="1.60" height="0.43" fill="#3b3b3b"/><rect x="128.57" y="223.19" width="1.60" height="0.31" fill="#3b3b3b"/><rect x="129.72" y="223.26" width="1.60" height="0.24" fill="#3b3b3b"/><rect x="130.87" y="223.32" width="1.60" height="0.18" fill="#3b3b3b"/><rect x="132.02" y="223.39" width="1.60" height="0.11" fill="#3b3b3b"/><rect x="133.17" y="223.42" width="1.60" height="0.08" fill="#3b3b3b"/><rect x="134.31" y="223.43" width="1.60" height="0.07" fill="#3b3b3b"/><rect x="135.46" y="223.45" width="1.60" height="0.05" fill="#3b3b3b"/><rect x="136.61" y="223.47" width="1.60" height="0.03" fill="#3b3b3b"/><rect x="137.76" y="223.48" width="1.60" height="0.02" fill="#3b3b3b"/><rect x="138.91" y="223.48" width="1.60" height="0.02" fill="#3b3b3b"/><rect x="140.06" y="222.29" width="1.60" height="1.21" fill="#e09a50"/><rect x="141.21" y="222.29" width="1.60" height="1.21" fill="#e09a50"/><rect x="142.36" y="222.29" width="1.60" height="1.21" fill="#e09a50"/><rect x="143.51" y="222.29" width="1.60" height="1.21" fill="#e09a50"/><rect x="144.66" y="222.29" width="1.60" height="1.21" fill="#e09a50"/><rect x="145.80" y="222.29" width="1.60" height="1.21" fill="#e09a50"/><rect x="146.95" y="222.29" width="1.60" height="1.21" fill="#e09a50"/><rect x="148.10" y="223.50" width="1.60" height="0.00" fill="#3b3b3b"/><rect x="149.25" y="223.50" width="1.60" height="0.00" fill="#3b3b3b"/><rect x="150.40" y="223.50" width="1.60" height="0.00" fill="#3b3b3b"/><rect x="151.55" y="223.50" width="1.60" height="0.00" fill="#3b3b3b"/><rect x="152.70" y="223.50" width="1.60" height="0.00" fill="#3b3b3b"/><rect x="153.85" y="223.50" width="1.60" height="0.00" fill="#3b3b3b"/><rect x="155.00" y="223.50" width="1.60" height="0.00" fill="#3b3b3b"/><rect x="156.14" y="223.50" width="1.60" height="0.00" fill="#3b3b3b"/><rect x="157.29" y="223.50" width="1.60" height="0.00" fill="#3b3b3b"/><rect x="158.44" y="223.50" width="1.60" height="0.00" fill="#3b3b3b"/><rect x="159.59" y="223.50" width="1.60" height="0.00" fill="#3b3b3b"/><rect x="160.74" y="223.50" width="1.60" height="0.00" fill="#3b3b3b"/></g>
<polyline points="35.50,222.47 36.07,222.36 36.65,222.23 37.22,222.09 37.80,221.94 38.37,221.78 38.95,221.60 39.52,221.41 40.10,221.20 40.67,220.98 41.24,220.73 41.82,220.47 42.39,220.18 42.97,219.88 43.54,219.55 44.12,219.19 44.69,218.81 45.27,218.41 45.84,217.98 46.42,217.52 46.99,217.03 47.56,216.51 48.14,215.96 48.71,215.37 49.29,214.76 49.86,214.11 50.44,213.42 51.01,212.70 51.59,211.95 52.16,211.16 52.73,210.33 53.31,209.47 53.88,208.58 54.46,207.64 55.03,206.68 55.61,205.68 56.18,204.64 56.76,203.58 57.33,202.48 57.91,201.35 58.48,200.20 59.05,199.02 59.63,197.81 60.20,196.59 60.78,195.34 61.35,194.08 61.93,192.80 62.50,191.52 63.08,190.22 63.65,188.92 64.22,187.62 64.80,186.33 65.37,185.04 65.95,183.76 66.52,182.49 67.10,181.24 67.67,180.02 68.25,178.82 68.82,177.66 69.40,176.53 69.97,175.44 70.54,174.39 71.12,173.39 71.69,172.44 72.27,171.54 72.84,170.70 73.42,169.92 73.99,169.21 74.57,168.56 75.14,167.99 75.72,167.48 76.29,167.05 76.86,166.70 77.44,166.42 78.01,166.22 78.59,166.10 79.16,166.06 79.74,166.07 80.31,166.10 80.89,166.16 81.46,166.25 82.03,166.38 82.61,166.56 83.18,166.78 83.76,167.05 84.33,167.37 84.91,167.75 85.48,168.17 86.06,168.65 86.63,169.18 87.20,169.77 87.78,170.41 88.35,171.11 88.93,171.86 89.50,172.66 90.08,173.51 90.65,174.41 91.23,175.36 91.80,176.35 92.38,177.39 92.95,178.47 93.52,179.58 94.10,180.73 94.67,181.91 95.25,183.11 95.82,184.34 96.40,185.60 96.97,186.86 97.55,188.15 98.12,189.44 98.69,190.73 99.27,192.03 99.84,193.33 100.42,194.62 100.99,195.90 101.57,197.18 102.14,198.43 102.72,199.67 103.29,200.88 103.87,202.08 104.44,203.24 105.01,204.38 105.59,205.49 106.16,206.56 106.74,207.60 107.31,208.60 107.89,209.57 108.46,210.49 109.04,211.38 109.61,212.23 110.19,213.05 110.76,213.82 111.33,214.55 111.91,215.24 112.48,215.90 113.06,216.52 113.63,217.10 114.21,217.64 114.78,218.15 115.36,218.62 115.93,219.07 116.50,219.48 117.08,219.86 117.65,220.21 118.23,220.53 118.80,220.83 119.38,221.10 119.95,221.35 120.53,221.58 121.10,221.79 121.67,221.98 122.25,222.15 122.82,222.30 123.40,222.44 123.97,222.57 124.55,222.68 125.12,222.78 125.70,222.87 126.27,222.95 126.85,223.02 127.42,223.08 127.99,223.14 128.57,223.18 129.14,223.23 129.72,223.27 130.29,223.30 130.87,223.33 131.44,223.35 132.02,223.37 132.59,223.39 133.17,223.41 133.74,223.42 134.31,223.43 134.89,223.44 135.46,223.45 136.04,223.46 136.61,223.47 137.19,223.47 137.76,223.48 138.34,223.48 138.91,223.48 139.48,223.49 140.06,223.49 140.63,223.49 141.21,223.49 141.78,223.49 142.36,223.50 142.93,223.50 143.51,223.50 144.08,223.50 144.66,223.50 145.23,223.50 145.80,223.50 146.38,223.50 146.95,223.50 147.53,223.50 148.10,223.50 148.68,223.50 149.25,223.50 149.83,223.50 150.40,223.50 150.97,223.50 151.55,223.50 152.12,223.50 152.70,223.50 153.27,223.50 153.85,223.50 154.42,223.50 155.00,223.50 155.57,223.50 156.14,223.50 156.72,223.50 157.29,223.50 157.87,223.50 158.44,223.50 159.02,223.50 159.59,223.50 160.17,223.50 160.74,223.50 161.32,223.50 161.89,223.50" fill="none" stroke="#222" stroke-width="0.9"/>
<polyline points="86.06,170.25 86.63,170.78 87.20,171.37 87.78,172.01 88.35,172.71 88.93,173.46 89.50,174.26 90.08,175.11 90.65,176.01 91.23,176.96 91.80,177.95 92.38,178.99 92.95,180.07 93.52,181.18 94.10,182.33 94.67,183.51 95.25,184.71 95.82,185.94 96.40,187.20 96.97,188.46 97.55,189.75 98.12,191.04 98.69,192.33 99.27,193.63 99.84,194.93 100.42,196.22 100.99,197.50 101.57,198.78 102.14,200.03 102.72,201.27 103.29,202.48 103.87,203.68 104.44,204.84 105.01,205.98 105.59,207.09 106.16,208.16 106.74,209.20 107.31,210.20 107.89,211.17 108.46,212.09 109.04,212.98 109.61,213.83 110.19,214.65 110.76,215.42 111.33,216.15 111.91,216.84 112.48,217.50 113.06,218.12 113.63,218.70 114.21,219.24 114.78,219.75 115.36,220.22 115.93,220.67 116.50,221.08 117.08,221.46 117.65,221.81 118.23,222.13 118.80,222.43 119.38,222.70 119.95,222.95 120.53,223.18 121.10,223.39 121.67,223.58 122.25,223.75 122.82,223.90 123.40,224.04 123.97,224.17 124.55,224.28 125.12,224.38 125.70,224.47 126.27,224.55 126.85,224.62 127.42,224.68 127.99,224.74 128.57,224.78 129.14,224.83 129.72,224.87" fill="none" stroke="#e6e6e6" stroke-width="0.8" stroke-dasharray="1.6 1.4"/>
<polyline points="40.10,222.60 40.67,222.38 41.24,222.13 41.82,221.87 42.39,221.58 42.97,221.28 43.54,220.95 44.12,220.59 44.69,220.21 45.27,219.81 45.84,219.38 46.42,218.92 46.99,218.43 47.56,217.91 48.14,217.36 48.71,216.77 49.29,216.16 49.86,215.51 50.44,214.82 51.01,214.10 51.59,213.35 52.16,212.56 52.73,211.73 53.31,210.87 53.88,209.98 54.46,209.04 55.03,208.08 55.61,207.08 56.18,206.04 56.76,204.98 57.33,203.88 57.91,202.75 58.48,201.60 59.05,200.42 59.63,199.21 60.20,197.99 60.78,196.74 61.35,195.48 61.93,194.20 62.50,192.92 63.08,191.62 63.65,190.32 64.22,189.02 64.80,187.73 65.37,186.44 65.95,185.16 66.52,183.89" fill="none" stroke="#fbe0ec" stroke-width="0.8" stroke-dasharray="1.6 1.4"/>
<line x1="35.50" y1="139.50" x2="35.50" y2="224.00" stroke="#2e2e2e" stroke-width="1.0" />
<line x1="32.50" y1="223.50" x2="35.50" y2="223.50" stroke="#2e2e2e" stroke-width="0.9" />
<text x="29.30" y="225.80" font-size="6.6" fill="#2c2c2c" text-anchor="end" stroke="#2c2c2c" stroke-width="0.2">0</text>
<line x1="32.50" y1="183.50" x2="35.50" y2="183.50" stroke="#2e2e2e" stroke-width="0.9" />
<text x="29.30" y="185.30" font-size="6.6" fill="#2c2c2c" text-anchor="end" stroke="#2c2c2c" stroke-width="0.2">50</text>
<line x1="32.50" y1="142.50" x2="35.50" y2="142.50" stroke="#2e2e2e" stroke-width="0.9" />
<text x="29.30" y="144.90" font-size="6.6" fill="#2c2c2c" text-anchor="end" stroke="#2c2c2c" stroke-width="0.2">100</text>
<line x1="35.00" y1="223.50" x2="163.60" y2="223.50" stroke="#2e2e2e" stroke-width="1.0" />
<line x1="35.50" y1="223.50" x2="35.50" y2="226.30" stroke="#2e2e2e" stroke-width="0.9" />
<text x="35.50" y="235.40" font-size="6.6" fill="#2c2c2c" text-anchor="middle" stroke="#2c2c2c" stroke-width="0.2">40</text>
<line x1="93.50" y1="223.50" x2="93.50" y2="226.30" stroke="#2e2e2e" stroke-width="0.9" />
<text x="93.10" y="235.40" font-size="6.6" fill="#2c2c2c" text-anchor="middle" stroke="#2c2c2c" stroke-width="0.2">90</text>
<line x1="150.50" y1="223.50" x2="150.50" y2="226.30" stroke="#2e2e2e" stroke-width="0.9" />
<text x="150.40" y="235.40" font-size="6.6" fill="#2c2c2c" text-anchor="middle" stroke="#2c2c2c" stroke-width="0.2">140</text>
<text x="97.80" y="245.30" font-size="7.9" fill="#1e1e1e" text-anchor="middle" textLength="33.2" lengthAdjust="spacingAndGlyphs" stroke="#1e1e1e" stroke-width="0.22">Volume (fL)</text>
<text x="16.80" y="184.20" font-size="7.9" fill="#1e1e1e" text-anchor="middle" textLength="35.0" lengthAdjust="spacingAndGlyphs" transform="rotate(-90 16.80 184.20)" stroke="#1e1e1e" stroke-width="0.22">No. of cells</text>
<text x="98.50" y="136.00" font-size="6.7" fill="#333" text-anchor="middle" textLength="103" lengthAdjust="spacingAndGlyphs" stroke="#333" stroke-width="0.2">Iron-deficiency anemia, pre-infusion</text>
<g shape-rendering="crispEdges"><rect x="214.10" y="222.52" width="1.60" height="0.98" fill="#f4c6da"/><rect x="215.25" y="222.22" width="1.60" height="1.28" fill="#f4c6da"/><rect x="216.40" y="221.98" width="1.60" height="1.52" fill="#f4c6da"/><rect x="217.55" y="221.56" width="1.60" height="1.94" fill="#f4c6da"/><rect x="218.70" y="221.14" width="1.60" height="2.36" fill="#f4c6da"/><rect x="219.84" y="220.97" width="1.60" height="2.53" fill="#f4c6da"/><rect x="220.99" y="220.51" width="1.60" height="2.99" fill="#f4c6da"/><rect x="222.14" y="219.28" width="1.60" height="4.22" fill="#f4c6da"/><rect x="223.29" y="219.04" width="1.60" height="4.46" fill="#f4c6da"/><rect x="224.44" y="218.27" width="1.60" height="5.23" fill="#f4c6da"/><rect x="225.59" y="216.39" width="1.60" height="7.11" fill="#f4c6da"/><rect x="226.74" y="216.00" width="1.60" height="7.50" fill="#f4c6da"/><rect x="227.89" y="214.17" width="1.60" height="9.33" fill="#f4c6da"/><rect x="229.04" y="213.47" width="1.60" height="10.03" fill="#f4c6da"/><rect x="230.19" y="211.63" width="1.60" height="11.87" fill="#f4c6da"/><rect x="231.33" y="211.25" width="1.60" height="12.25" fill="#f4c6da"/><rect x="232.48" y="208.17" width="1.60" height="15.33" fill="#f4c6da"/><rect x="233.63" y="205.44" width="1.60" height="18.06" fill="#f4c6da"/><rect x="234.78" y="204.56" width="1.60" height="18.94" fill="#f4c6da"/><rect x="235.93" y="201.47" width="1.60" height="22.03" fill="#f4c6da"/><rect x="237.08" y="199.40" width="1.60" height="24.10" fill="#f4c6da"/><rect x="238.23" y="200.05" width="1.60" height="23.45" fill="#f4c6da"/><rect x="239.38" y="193.89" width="1.60" height="29.61" fill="#f4c6da"/><rect x="240.53" y="192.24" width="1.60" height="31.26" fill="#f4c6da"/><rect x="241.68" y="191.54" width="1.60" height="31.96" fill="#f4c6da"/><rect x="242.82" y="190.99" width="1.60" height="32.51" fill="#f4c6da"/><rect x="243.97" y="182.22" width="1.60" height="41.28" fill="#f4c6da"/><rect x="245.12" y="182.71" width="1.60" height="40.79" fill="#f4c6da"/><rect x="246.27" y="178.12" width="1.60" height="45.38" fill="#c2c2c4"/><rect x="247.42" y="174.19" width="1.60" height="49.31" fill="#c2c2c4"/><rect x="248.57" y="173.38" width="1.60" height="50.12" fill="#c2c2c4"/><rect x="249.72" y="169.17" width="1.60" height="54.33" fill="#c2c2c4"/><rect x="250.87" y="172.63" width="1.60" height="50.87" fill="#c2c2c4"/><rect x="252.02" y="166.70" width="1.60" height="56.80" fill="#c2c2c4"/><rect x="253.17" y="169.17" width="1.60" height="54.33" fill="#c2c2c4"/><rect x="254.31" y="165.25" width="1.60" height="58.25" fill="#c2c2c4"/><rect x="255.46" y="162.39" width="1.60" height="61.11" fill="#c2c2c4"/><rect x="256.61" y="156.35" width="1.60" height="67.15" fill="#c2c2c4"/><rect x="257.76" y="170.24" width="1.60" height="53.26" fill="#c2c2c4"/><rect x="258.91" y="169.35" width="1.60" height="54.15" fill="#c2c2c4"/><rect x="260.06" y="149.88" width="1.60" height="73.62" fill="#c2c2c4"/><rect x="261.21" y="167.29" width="1.60" height="56.21" fill="#c2c2c4"/><rect x="262.36" y="165.62" width="1.60" height="57.88" fill="#c2c2c4"/><rect x="263.51" y="169.96" width="1.60" height="53.54" fill="#c2c2c4"/><rect x="264.66" y="168.57" width="1.60" height="54.93" fill="#c2c2c4"/><rect x="265.81" y="171.00" width="1.60" height="52.50" fill="#c2c2c4"/><rect x="266.95" y="172.67" width="1.60" height="50.83" fill="#c2c2c4"/><rect x="268.10" y="171.79" width="1.60" height="51.71" fill="#c2c2c4"/><rect x="269.25" y="173.58" width="1.60" height="49.92" fill="#c2c2c4"/><rect x="270.40" y="172.54" width="1.60" height="50.96" fill="#c2c2c4"/><rect x="271.55" y="176.83" width="1.60" height="46.67" fill="#c2c2c4"/><rect x="272.70" y="177.06" width="1.60" height="46.44" fill="#c2c2c4"/><rect x="273.85" y="180.24" width="1.60" height="43.26" fill="#c2c2c4"/><rect x="275.00" y="181.87" width="1.60" height="41.63" fill="#c2c2c4"/><rect x="276.15" y="186.93" width="1.60" height="36.57" fill="#c2c2c4"/><rect x="277.30" y="192.94" width="1.60" height="30.56" fill="#c2c2c4"/><rect x="278.44" y="191.15" width="1.60" height="32.35" fill="#c2c2c4"/><rect x="279.59" y="193.34" width="1.60" height="30.16" fill="#c2c2c4"/><rect x="280.74" y="196.40" width="1.60" height="27.10" fill="#c2c2c4"/><rect x="281.89" y="200.57" width="1.60" height="22.93" fill="#c2c2c4"/><rect x="283.04" y="202.38" width="1.60" height="21.12" fill="#c2c2c4"/><rect x="284.19" y="206.53" width="1.60" height="16.97" fill="#c2c2c4"/><rect x="285.34" y="206.54" width="1.60" height="16.96" fill="#c2c2c4"/><rect x="286.49" y="209.36" width="1.60" height="14.14" fill="#c2c2c4"/><rect x="287.64" y="211.91" width="1.60" height="11.59" fill="#c2c2c4"/><rect x="288.78" y="213.96" width="1.60" height="9.54" fill="#c2c2c4"/><rect x="289.93" y="213.92" width="1.60" height="9.58" fill="#c2c2c4"/><rect x="291.08" y="215.15" width="1.60" height="8.35" fill="#c2c2c4"/><rect x="292.23" y="217.62" width="1.60" height="5.88" fill="#c2c2c4"/><rect x="293.38" y="217.83" width="1.60" height="5.67" fill="#c2c2c4"/><rect x="294.53" y="219.15" width="1.60" height="4.35" fill="#c2c2c4"/><rect x="295.68" y="220.11" width="1.60" height="3.39" fill="#c2c2c4"/><rect x="296.83" y="220.65" width="1.60" height="2.85" fill="#c2c2c4"/><rect x="297.98" y="220.97" width="1.60" height="2.53" fill="#c2c2c4"/><rect x="299.13" y="221.44" width="1.60" height="2.06" fill="#c2c2c4"/><rect x="300.27" y="222.11" width="1.60" height="1.39" fill="#c2c2c4"/><rect x="301.42" y="222.27" width="1.60" height="1.23" fill="#c2c2c4"/><rect x="302.57" y="222.65" width="1.60" height="0.85" fill="#c2c2c4"/><rect x="303.72" y="222.75" width="1.60" height="0.75" fill="#c2c2c4"/><rect x="304.87" y="222.97" width="1.60" height="0.53" fill="#c2c2c4"/><rect x="306.02" y="223.05" width="1.60" height="0.45" fill="#c2c2c4"/><rect x="307.17" y="223.15" width="1.60" height="0.35" fill="#c2c2c4"/><rect x="308.32" y="223.27" width="1.60" height="0.23" fill="#c2c2c4"/><rect x="309.47" y="223.31" width="1.60" height="0.19" fill="#c2c2c4"/><rect x="310.62" y="223.38" width="1.60" height="0.12" fill="#c2c2c4"/><rect x="311.76" y="223.42" width="1.60" height="0.08" fill="#c2c2c4"/><rect x="312.91" y="223.43" width="1.60" height="0.07" fill="#c2c2c4"/><rect x="314.06" y="223.46" width="1.60" height="0.04" fill="#c2c2c4"/><rect x="315.21" y="223.47" width="1.60" height="0.03" fill="#c2c2c4"/><rect x="316.36" y="223.48" width="1.60" height="0.02" fill="#c2c2c4"/><rect x="317.51" y="223.48" width="1.60" height="0.02" fill="#c2c2c4"/><rect x="318.66" y="223.49" width="1.60" height="0.01" fill="#c2c2c4"/><rect x="319.81" y="223.49" width="1.60" height="0.01" fill="#c2c2c4"/><rect x="320.96" y="223.49" width="1.60" height="0.01" fill="#c2c2c4"/><rect x="322.11" y="223.50" width="1.60" height="0.00" fill="#c2c2c4"/><rect x="323.25" y="223.50" width="1.60" height="0.00" fill="#c2c2c4"/><rect x="324.40" y="223.50" width="1.60" height="0.00" fill="#c2c2c4"/><rect x="325.55" y="223.50" width="1.60" height="0.00" fill="#c2c2c4"/><rect x="326.70" y="223.50" width="1.60" height="0.00" fill="#c2c2c4"/><rect x="327.85" y="223.50" width="1.60" height="0.00" fill="#c2c2c4"/><rect x="329.00" y="223.50" width="1.60" height="0.00" fill="#c2c2c4"/><rect x="330.15" y="223.50" width="1.60" height="0.00" fill="#c2c2c4"/><rect x="331.30" y="223.50" width="1.60" height="0.00" fill="#c2c2c4"/><rect x="332.45" y="223.50" width="1.60" height="0.00" fill="#c2c2c4"/><rect x="333.60" y="223.50" width="1.60" height="0.00" fill="#c2c2c4"/><rect x="334.75" y="223.50" width="1.60" height="0.00" fill="#c2c2c4"/><rect x="335.89" y="223.50" width="1.60" height="0.00" fill="#c2c2c4"/><rect x="337.04" y="223.50" width="1.60" height="0.00" fill="#c2c2c4"/><rect x="338.19" y="223.50" width="1.60" height="0.00" fill="#c2c2c4"/><rect x="339.34" y="223.50" width="1.60" height="0.00" fill="#c2c2c4"/></g>
<polyline points="214.10,222.47 214.67,222.36 215.25,222.23 215.82,222.09 216.40,221.94 216.97,221.78 217.55,221.60 218.12,221.41 218.70,221.20 219.27,220.98 219.84,220.73 220.42,220.47 220.99,220.18 221.57,219.88 222.14,219.55 222.72,219.19 223.29,218.81 223.87,218.41 224.44,217.98 225.02,217.52 225.59,217.03 226.16,216.51 226.74,215.96 227.31,215.37 227.89,214.76 228.46,214.11 229.04,213.42 229.61,212.70 230.19,211.95 230.76,211.16 231.33,210.33 231.91,209.47 232.48,208.58 233.06,207.64 233.63,206.68 234.21,205.68 234.78,204.64 235.36,203.58 235.93,202.48 236.51,201.35 237.08,200.20 237.65,199.02 238.23,197.81 238.80,196.59 239.38,195.34 239.95,194.08 240.53,192.80 241.10,191.52 241.68,190.22 242.25,188.92 242.82,187.62 243.40,186.33 243.97,185.04 244.55,183.76 245.12,182.49 245.70,181.24 246.27,180.02 246.85,178.82 247.42,177.66 248.00,176.53 248.57,175.44 249.14,174.39 249.72,173.39 250.29,172.44 250.87,171.54 251.44,170.70 252.02,169.92 252.59,169.21 253.17,168.56 253.74,167.99 254.31,167.48 254.89,167.05 255.46,166.70 256.04,166.42 256.61,166.22 257.19,166.10 257.76,166.06 258.34,166.07 258.91,166.10 259.49,166.16 260.06,166.25 260.63,166.38 261.21,166.56 261.78,166.78 262.36,167.05 262.93,167.37 263.51,167.75 264.08,168.17 264.66,168.65 265.23,169.18 265.81,169.77 266.38,170.41 266.95,171.11 267.53,171.86 268.10,172.66 268.68,173.51 269.25,174.41 269.83,175.36 270.40,176.35 270.98,177.39 271.55,178.47 272.12,179.58 272.70,180.73 273.27,181.91 273.85,183.11 274.42,184.34 275.00,185.60 275.57,186.86 276.15,188.15 276.72,189.44 277.30,190.73 277.87,192.03 278.44,193.33 279.02,194.62 279.59,195.90 280.17,197.18 280.74,198.43 281.32,199.67 281.89,200.88 282.47,202.08 283.04,203.24 283.61,204.38 284.19,205.49 284.76,206.56 285.34,207.60 285.91,208.60 286.49,209.57 287.06,210.49 287.64,211.38 288.21,212.23 288.78,213.05 289.36,213.82 289.93,214.55 290.51,215.24 291.08,215.90 291.66,216.52 292.23,217.10 292.81,217.64 293.38,218.15 293.96,218.62 294.53,219.07 295.10,219.48 295.68,219.86 296.25,220.21 296.83,220.53 297.40,220.83 297.98,221.10 298.55,221.35 299.13,221.58 299.70,221.79 300.27,221.98 300.85,222.15 301.42,222.30 302.00,222.44 302.57,222.57 303.15,222.68 303.72,222.78 304.30,222.87 304.87,222.95 305.45,223.02 306.02,223.08 306.59,223.14 307.17,223.18 307.74,223.23 308.32,223.27 308.89,223.30 309.47,223.33 310.04,223.35 310.62,223.37 311.19,223.39 311.76,223.41 312.34,223.42 312.91,223.43 313.49,223.44 314.06,223.45 314.64,223.46 315.21,223.47 315.79,223.47 316.36,223.48 316.94,223.48 317.51,223.48 318.08,223.49 318.66,223.49 319.23,223.49 319.81,223.49 320.38,223.49 320.96,223.50 321.53,223.50 322.11,223.50 322.68,223.50 323.25,223.50 323.83,223.50 324.40,223.50 324.98,223.50 325.55,223.50 326.13,223.50 326.70,223.50 327.28,223.50 327.85,223.50 328.43,223.50 329.00,223.50 329.57,223.50 330.15,223.50 330.72,223.50 331.30,223.50 331.87,223.50 332.45,223.50 333.02,223.50 333.60,223.50 334.17,223.50 334.75,223.50 335.32,223.50 335.89,223.50 336.47,223.50 337.04,223.50 337.62,223.50 338.19,223.50 338.77,223.50 339.34,223.50 339.92,223.50 340.49,223.50" fill="none" stroke="#e8e0e4" stroke-width="0.8" stroke-dasharray="1.5,1.2"/>
<g shape-rendering="crispEdges"><rect x="214.10" y="223.47" width="1.60" height="0.03" fill="#f098c0"/><rect x="215.25" y="223.46" width="1.60" height="0.04" fill="#f098c0"/><rect x="216.40" y="223.44" width="1.60" height="0.06" fill="#f098c0"/><rect x="217.55" y="223.42" width="1.60" height="0.08" fill="#f098c0"/><rect x="218.70" y="223.41" width="1.60" height="0.09" fill="#f098c0"/><rect x="219.84" y="223.38" width="1.60" height="0.12" fill="#f098c0"/><rect x="220.99" y="223.34" width="1.60" height="0.16" fill="#f098c0"/><rect x="222.14" y="223.28" width="1.60" height="0.22" fill="#f098c0"/><rect x="223.29" y="223.18" width="1.60" height="0.32" fill="#f098c0"/><rect x="224.44" y="223.14" width="1.60" height="0.36" fill="#f098c0"/><rect x="225.59" y="222.99" width="1.60" height="0.51" fill="#f098c0"/><rect x="226.74" y="222.90" width="1.60" height="0.60" fill="#f098c0"/><rect x="227.89" y="222.72" width="1.60" height="0.78" fill="#f098c0"/><rect x="229.04" y="222.48" width="1.60" height="1.02" fill="#f098c0"/><rect x="230.19" y="222.10" width="1.60" height="1.40" fill="#f098c0"/><rect x="231.33" y="221.85" width="1.60" height="1.65" fill="#f098c0"/><rect x="232.48" y="221.74" width="1.60" height="1.76" fill="#f098c0"/><rect x="233.63" y="221.19" width="1.60" height="2.31" fill="#f098c0"/><rect x="234.78" y="220.77" width="1.60" height="2.73" fill="#f098c0"/><rect x="235.93" y="219.57" width="1.60" height="3.93" fill="#f098c0"/><rect x="237.08" y="218.85" width="1.60" height="4.65" fill="#f098c0"/><rect x="238.23" y="217.95" width="1.60" height="5.55" fill="#f098c0"/><rect x="239.38" y="216.89" width="1.60" height="6.61" fill="#f098c0"/><rect x="240.53" y="215.86" width="1.60" height="7.64" fill="#f098c0"/><rect x="241.68" y="214.15" width="1.60" height="9.35" fill="#f098c0"/><rect x="242.82" y="213.01" width="1.60" height="10.49" fill="#f098c0"/><rect x="243.97" y="212.86" width="1.60" height="10.64" fill="#f098c0"/><rect x="245.12" y="209.48" width="1.60" height="14.02" fill="#f098c0"/><rect x="246.27" y="208.84" width="1.60" height="14.66" fill="#3b3b3b"/><rect x="247.42" y="205.87" width="1.60" height="17.63" fill="#3b3b3b"/><rect x="248.57" y="204.59" width="1.60" height="18.91" fill="#3b3b3b"/><rect x="249.72" y="203.11" width="1.60" height="20.39" fill="#3b3b3b"/><rect x="250.87" y="201.31" width="1.60" height="22.19" fill="#3b3b3b"/><rect x="252.02" y="198.73" width="1.60" height="24.77" fill="#3b3b3b"/><rect x="253.17" y="197.25" width="1.60" height="26.25" fill="#3b3b3b"/><rect x="254.31" y="196.47" width="1.60" height="27.03" fill="#3b3b3b"/><rect x="255.46" y="189.03" width="1.60" height="34.47" fill="#3b3b3b"/><rect x="256.61" y="186.85" width="1.60" height="36.65" fill="#3b3b3b"/><rect x="257.76" y="182.99" width="1.60" height="40.51" fill="#3b3b3b"/><rect x="258.91" y="183.53" width="1.60" height="39.97" fill="#3b3b3b"/><rect x="260.06" y="183.00" width="1.60" height="40.50" fill="#3b3b3b"/><rect x="261.21" y="179.49" width="1.60" height="44.01" fill="#3b3b3b"/><rect x="262.36" y="184.40" width="1.60" height="39.10" fill="#3b3b3b"/><rect x="263.51" y="177.73" width="1.60" height="45.77" fill="#3b3b3b"/><rect x="264.66" y="166.87" width="1.60" height="56.63" fill="#3b3b3b"/><rect x="265.81" y="181.86" width="1.60" height="41.64" fill="#3b3b3b"/><rect x="266.95" y="181.43" width="1.60" height="42.07" fill="#3b3b3b"/><rect x="268.10" y="178.11" width="1.60" height="45.39" fill="#3b3b3b"/><rect x="269.25" y="174.99" width="1.60" height="48.51" fill="#3b3b3b"/><rect x="270.40" y="180.02" width="1.60" height="43.48" fill="#3b3b3b"/><rect x="271.55" y="179.56" width="1.60" height="43.94" fill="#3b3b3b"/><rect x="272.70" y="183.00" width="1.60" height="40.50" fill="#3b3b3b"/><rect x="273.85" y="183.02" width="1.60" height="40.48" fill="#3b3b3b"/><rect x="275.00" y="185.37" width="1.60" height="38.13" fill="#3b3b3b"/><rect x="276.15" y="194.25" width="1.60" height="29.25" fill="#3b3b3b"/><rect x="276.15" y="189.53" width="1.60" height="4.72" fill="#d4d4d4"/><rect x="277.30" y="194.91" width="1.60" height="28.59" fill="#3b3b3b"/><rect x="277.30" y="186.35" width="1.60" height="8.55" fill="#d4d4d4"/><rect x="278.44" y="196.65" width="1.60" height="26.85" fill="#3b3b3b"/><rect x="278.44" y="188.00" width="1.60" height="8.65" fill="#d4d4d4"/><rect x="279.59" y="194.86" width="1.60" height="28.64" fill="#3b3b3b"/><rect x="279.59" y="190.64" width="1.60" height="4.22" fill="#d4d4d4"/><rect x="280.74" y="194.00" width="1.60" height="29.50" fill="#3b3b3b"/><rect x="281.89" y="202.22" width="1.60" height="21.28" fill="#3b3b3b"/><rect x="281.89" y="197.47" width="1.60" height="4.76" fill="#d4d4d4"/><rect x="283.04" y="198.53" width="1.60" height="24.97" fill="#3b3b3b"/><rect x="284.19" y="207.27" width="1.60" height="16.23" fill="#3b3b3b"/><rect x="284.19" y="201.25" width="1.60" height="6.02" fill="#d4d4d4"/><rect x="285.34" y="205.43" width="1.60" height="18.07" fill="#3b3b3b"/><rect x="286.49" y="208.34" width="1.60" height="15.16" fill="#3b3b3b"/><rect x="287.64" y="208.43" width="1.60" height="15.07" fill="#3b3b3b"/><rect x="288.78" y="211.46" width="1.60" height="12.04" fill="#3b3b3b"/><rect x="289.93" y="211.98" width="1.60" height="11.52" fill="#3b3b3b"/><rect x="291.08" y="214.03" width="1.60" height="9.47" fill="#3b3b3b"/><rect x="292.23" y="216.46" width="1.60" height="7.04" fill="#3b3b3b"/><rect x="292.23" y="215.38" width="1.60" height="1.08" fill="#d4d4d4"/><rect x="293.38" y="217.06" width="1.60" height="6.44" fill="#3b3b3b"/><rect x="293.38" y="215.96" width="1.60" height="1.09" fill="#d4d4d4"/><rect x="294.53" y="218.00" width="1.60" height="5.50" fill="#3b3b3b"/><rect x="295.68" y="218.26" width="1.60" height="5.24" fill="#3b3b3b"/><rect x="296.83" y="220.30" width="1.60" height="3.20" fill="#3b3b3b"/><rect x="296.83" y="219.65" width="1.60" height="0.65" fill="#d4d4d4"/><rect x="297.98" y="220.25" width="1.60" height="3.25" fill="#3b3b3b"/><rect x="299.13" y="220.88" width="1.60" height="2.62" fill="#3b3b3b"/><rect x="300.27" y="220.76" width="1.60" height="2.74" fill="#3b3b3b"/><rect x="301.42" y="221.64" width="1.60" height="1.86" fill="#3f6d70"/><rect x="302.57" y="215.57" width="1.60" height="7.93" fill="#3b3b3b"/><rect x="303.72" y="221.50" width="1.60" height="2.00" fill="#3f6d70"/><rect x="304.87" y="221.21" width="1.60" height="2.29" fill="#3f6d70"/><rect x="306.02" y="221.61" width="1.60" height="1.89" fill="#3f6d70"/><rect x="307.17" y="221.10" width="1.60" height="2.40" fill="#3f6d70"/><rect x="308.32" y="221.50" width="1.60" height="2.00" fill="#3f6d70"/><rect x="309.47" y="221.64" width="1.60" height="1.86" fill="#3f6d70"/><rect x="310.62" y="221.48" width="1.60" height="2.02" fill="#3f6d70"/><rect x="311.76" y="221.28" width="1.60" height="2.22" fill="#3f6d70"/><rect x="312.91" y="221.33" width="1.60" height="2.17" fill="#3f6d70"/><rect x="314.06" y="217.84" width="1.60" height="5.66" fill="#3b3b3b"/><rect x="315.21" y="219.92" width="1.60" height="3.58" fill="#d08a48"/><rect x="316.36" y="219.99" width="1.60" height="3.51" fill="#d08a48"/><rect x="317.51" y="219.92" width="1.60" height="3.58" fill="#d08a48"/><rect x="318.66" y="219.88" width="1.60" height="3.62" fill="#d08a48"/><rect x="319.81" y="219.53" width="1.60" height="3.97" fill="#d08a48"/><rect x="320.96" y="220.26" width="1.60" height="3.24" fill="#d08a48"/><rect x="322.11" y="220.08" width="1.60" height="3.42" fill="#d08a48"/><rect x="323.25" y="219.73" width="1.60" height="3.77" fill="#d08a48"/><rect x="324.40" y="219.98" width="1.60" height="3.52" fill="#d08a48"/><rect x="325.55" y="220.13" width="1.60" height="3.37" fill="#d08a48"/><rect x="326.70" y="220.16" width="1.60" height="3.34" fill="#d08a48"/><rect x="327.85" y="220.05" width="1.60" height="3.45" fill="#d08a48"/><rect x="329.00" y="219.89" width="1.60" height="3.61" fill="#d08a48"/><rect x="330.15" y="220.62" width="1.60" height="2.88" fill="#d08a48"/><rect x="331.30" y="220.88" width="1.60" height="2.62" fill="#d08a48"/><rect x="332.45" y="221.10" width="1.60" height="2.40" fill="#d08a48"/><rect x="333.60" y="221.89" width="1.60" height="1.61" fill="#d08a48"/><rect x="334.75" y="222.35" width="1.60" height="1.15" fill="#d08a48"/><rect x="335.89" y="222.68" width="1.60" height="0.82" fill="#d08a48"/><rect x="337.04" y="223.50" width="1.60" height="0.00" fill="#3b3b3b"/><rect x="338.19" y="223.50" width="1.60" height="0.00" fill="#3b3b3b"/><rect x="339.34" y="223.50" width="1.60" height="0.00" fill="#3b3b3b"/></g>
<polyline points="214.10,223.47 214.67,223.47 215.25,223.46 215.82,223.45 216.40,223.45 216.97,223.44 217.55,223.43 218.12,223.41 218.70,223.40 219.27,223.39 219.84,223.37 220.42,223.35 220.99,223.32 221.57,223.30 222.14,223.27 222.72,223.24 223.29,223.20 223.87,223.16 224.44,223.11 225.02,223.06 225.59,223.00 226.16,222.93 226.74,222.86 227.31,222.77 227.89,222.68 228.46,222.58 229.04,222.47 229.61,222.34 230.19,222.21 230.76,222.06 231.33,221.89 231.91,221.71 232.48,221.51 233.06,221.29 233.63,221.06 234.21,220.80 234.78,220.52 235.36,220.22 235.93,219.90 236.51,219.54 237.08,219.17 237.65,218.76 238.23,218.33 238.80,217.86 239.38,217.37 239.95,216.84 240.53,216.28 241.10,215.69 241.68,215.06 242.25,214.40 242.82,213.70 243.40,212.97 243.97,212.20 244.55,211.40 245.12,210.57 245.70,209.70 246.27,208.79 246.85,207.86 247.42,206.89 248.00,205.90 248.57,204.87 249.14,203.83 249.72,202.76 250.29,201.67 250.87,200.56 251.44,199.44 252.02,198.31 252.59,197.17 253.17,196.02 253.74,194.88 254.31,193.74 254.89,192.61 255.46,191.49 256.04,190.38 256.61,189.30 257.19,188.25 257.76,187.22 258.34,186.23 258.91,185.28 259.49,184.38 260.06,183.52 260.63,182.71 261.21,181.96 261.78,181.27 262.36,180.64 262.93,180.08 263.51,179.59 264.08,179.17 264.66,178.82 265.23,178.55 265.81,178.35 266.38,178.24 266.95,178.20 267.53,178.24 268.10,178.35 268.68,178.55 269.25,178.82 269.83,179.17 270.40,179.59 270.98,180.08 271.55,180.64 272.12,181.27 272.70,181.96 273.27,182.71 273.85,183.52 274.42,184.38 275.00,185.28 275.57,186.23 276.15,187.22 276.72,188.25 277.30,189.30 277.87,190.38 278.44,191.49 279.02,192.61 279.59,193.74 280.17,194.88 280.74,196.02 281.32,197.17 281.89,198.31 282.47,199.44 283.04,200.56 283.61,201.67 284.19,202.76 284.76,203.83 285.34,204.87 285.91,205.90 286.49,206.89 287.06,207.86 287.64,208.79 288.21,209.70 288.78,210.57 289.36,211.40 289.93,212.20 290.51,212.97 291.08,213.70 291.66,214.40 292.23,215.06 292.81,215.69 293.38,216.28 293.96,216.84 294.53,217.37 295.10,217.86 295.68,218.33 296.25,218.76 296.83,219.17 297.40,219.54 297.98,219.90 298.55,220.22 299.13,220.52 299.70,220.80 300.27,221.06 300.85,221.29 301.42,221.51 302.00,221.71 302.57,221.89 303.15,222.06 303.72,222.21 304.30,222.34 304.87,222.47 305.45,222.58 306.02,222.68 306.59,222.77 307.17,222.86 307.74,222.93 308.32,223.00 308.89,223.06 309.47,223.11 310.04,223.16 310.62,223.20 311.19,223.24 311.76,223.27 312.34,223.30 312.91,223.32 313.49,223.35 314.06,223.37 314.64,223.39 315.21,223.40 315.79,223.41 316.36,223.43 316.94,223.44 317.51,223.45 318.08,223.45 318.66,223.46 319.23,223.47 319.81,223.47 320.38,223.48 320.96,223.48 321.53,223.48 322.11,223.48 322.68,223.49 323.25,223.49 323.83,223.49 324.40,223.49 324.98,223.49 325.55,223.49 326.13,223.50 326.70,223.50 327.28,223.50 327.85,223.50 328.43,223.50 329.00,223.50 329.57,223.50 330.15,223.50 330.72,223.50 331.30,223.50 331.87,223.50 332.45,223.50 333.02,223.50 333.60,223.50 334.17,223.50 334.75,223.50 335.32,223.50 335.89,223.50 336.47,223.50 337.04,223.50 337.62,223.50 338.19,223.50 338.77,223.50 339.34,223.50 339.92,223.50 340.49,223.50" fill="none" stroke="#2a3a4a" stroke-width="0.8"/>
<polyline points="269.25,180.42 269.83,180.77 270.40,181.19 270.98,181.68 271.55,182.24 272.12,182.87 272.70,183.56 273.27,184.31 273.85,185.12 274.42,185.98 275.00,186.88 275.57,187.83 276.15,188.82 276.72,189.85 277.30,190.90 277.87,191.98 278.44,193.09 279.02,194.21 279.59,195.34 280.17,196.48 280.74,197.62 281.32,198.77 281.89,199.91 282.47,201.04 283.04,202.16 283.61,203.27 284.19,204.36 284.76,205.43 285.34,206.47 285.91,207.50 286.49,208.49 287.06,209.46 287.64,210.39 288.21,211.30 288.78,212.17 289.36,213.00 289.93,213.80 290.51,214.57 291.08,215.30 291.66,216.00 292.23,216.66 292.81,217.29 293.38,217.88 293.96,218.44 294.53,218.97 295.10,219.46 295.68,219.93 296.25,220.36 296.83,220.77 297.40,221.14 297.98,221.50 298.55,221.82 299.13,222.12 299.70,222.40 300.27,222.66 300.85,222.89 301.42,223.11" fill="none" stroke="#e6e6e6" stroke-width="0.8" stroke-dasharray="1.6 1.4"/>
<line x1="214.50" y1="138.40" x2="214.50" y2="224.00" stroke="#2e2e2e" stroke-width="1.0" />
<line x1="211.10" y1="223.50" x2="214.10" y2="223.50" stroke="#2e2e2e" stroke-width="0.9" />
<text x="207.90" y="225.80" font-size="6.6" fill="#2c2c2c" text-anchor="end" stroke="#2c2c2c" stroke-width="0.2">0</text>
<line x1="211.10" y1="183.50" x2="214.10" y2="183.50" stroke="#2e2e2e" stroke-width="0.9" />
<text x="207.90" y="185.30" font-size="6.6" fill="#2c2c2c" text-anchor="end" stroke="#2c2c2c" stroke-width="0.2">50</text>
<line x1="211.10" y1="141.50" x2="214.10" y2="141.50" stroke="#2e2e2e" stroke-width="0.9" />
<text x="207.90" y="143.60" font-size="6.6" fill="#2c2c2c" text-anchor="end" stroke="#2c2c2c" stroke-width="0.2">100</text>
<line x1="213.60" y1="223.50" x2="343.00" y2="223.50" stroke="#2e2e2e" stroke-width="1.0" />
<line x1="214.50" y1="223.50" x2="214.50" y2="226.30" stroke="#2e2e2e" stroke-width="0.9" />
<text x="214.10" y="235.40" font-size="6.6" fill="#2c2c2c" text-anchor="middle" stroke="#2c2c2c" stroke-width="0.2">40</text>
<line x1="271.50" y1="223.50" x2="271.50" y2="226.30" stroke="#2e2e2e" stroke-width="0.9" />
<text x="271.70" y="235.40" font-size="6.6" fill="#2c2c2c" text-anchor="middle" stroke="#2c2c2c" stroke-width="0.2">90</text>
<line x1="329.50" y1="223.50" x2="329.50" y2="226.30" stroke="#2e2e2e" stroke-width="0.9" />
<text x="329.40" y="235.40" font-size="6.6" fill="#2c2c2c" text-anchor="middle" stroke="#2c2c2c" stroke-width="0.2">140</text>
<text x="276.90" y="245.30" font-size="7.9" fill="#1e1e1e" text-anchor="middle" textLength="32.2" lengthAdjust="spacingAndGlyphs" stroke="#1e1e1e" stroke-width="0.22">Volume (fL)</text>
<text x="194.70" y="180.60" font-size="7.9" fill="#1e1e1e" text-anchor="middle" textLength="30.6" lengthAdjust="spacingAndGlyphs" transform="rotate(-90 194.70 180.60)" stroke="#1e1e1e" stroke-width="0.22">No. of cells</text>
<text x="277.20" y="135.90" font-size="6.6" fill="#333" text-anchor="middle" textLength="38" lengthAdjust="spacingAndGlyphs" stroke="#333" stroke-width="0.2">Post-infusion</text>
<rect x="221.10" y="142.00" width="3.00" height="3.00" fill="#c8c8c8" />
<text x="227.70" y="145.80" font-size="6.4" fill="#2c2c2c" text-anchor="start" stroke="#2c2c2c" stroke-width="0.2">Pre–</text>
<rect x="221.10" y="151.10" width="3.00" height="3.00" fill="#1e1e1e" />
<text x="227.70" y="154.90" font-size="6.4" fill="#2c2c2c" text-anchor="start" stroke="#2c2c2c" stroke-width="0.2">Post–</text>
<line x1="243.50" y1="196.50" x2="249.50" y2="196.50" stroke="#111" stroke-width="1.2" />
<polygon points="252,196.3 248.5,194.4 248.5,198.2" fill="#111"/>
<line x1="389.50" y1="143.00" x2="389.50" y2="224.10" stroke="#2e2e2e" stroke-width="1.0" />
<line x1="386.50" y1="207.50" x2="389.50" y2="207.50" stroke="#2e2e2e" stroke-width="0.9" />
<text x="382.30" y="210.00" font-size="6.6" fill="#2c2c2c" text-anchor="end" stroke="#2c2c2c" stroke-width="0.2">70</text>
<line x1="386.50" y1="177.50" x2="389.50" y2="177.50" stroke="#2e2e2e" stroke-width="0.9" />
<text x="382.30" y="179.60" font-size="6.6" fill="#2c2c2c" text-anchor="end" stroke="#2c2c2c" stroke-width="0.2">90</text>
<line x1="386.50" y1="146.50" x2="389.50" y2="146.50" stroke="#2e2e2e" stroke-width="0.9" />
<text x="382.30" y="148.90" font-size="6.6" fill="#2c2c2c" text-anchor="end" stroke="#2c2c2c" stroke-width="0.2">110</text>
<line x1="389.00" y1="223.50" x2="486.30" y2="223.50" stroke="#2e2e2e" stroke-width="1.0" />
<line x1="410.50" y1="223.60" x2="410.50" y2="226.40" stroke="#2e2e2e" stroke-width="0.9" />
<line x1="465.50" y1="223.60" x2="465.50" y2="226.40" stroke="#2e2e2e" stroke-width="0.9" />
<line x1="400.50" y1="160.30" x2="400.50" y2="174.80" stroke="#444" stroke-width="0.9" />
<line x1="400.50" y1="187.80" x2="400.50" y2="196.10" stroke="#444" stroke-width="0.9" />
<line x1="397.65" y1="160.50" x2="403.35" y2="160.50" stroke="#444" stroke-width="1.0" />
<line x1="397.65" y1="196.50" x2="403.35" y2="196.50" stroke="#444" stroke-width="1.0" />
<rect x="395.10" y="174.80" width="10.80" height="13.00" fill="#c8c8c8" />
<line x1="395.10" y1="181.50" x2="405.90" y2="181.50" stroke="#222" stroke-width="1.1" />
<line x1="420.50" y1="159.80" x2="420.50" y2="169.90" stroke="#444" stroke-width="0.9" />
<line x1="420.50" y1="178.90" x2="420.50" y2="191.20" stroke="#444" stroke-width="0.9" />
<line x1="417.25" y1="159.50" x2="422.95" y2="159.50" stroke="#444" stroke-width="1.0" />
<line x1="417.25" y1="191.50" x2="422.95" y2="191.50" stroke="#444" stroke-width="1.0" />
<rect x="414.40" y="169.90" width="11.40" height="9.00" fill="#2e2e2e" />
<line x1="414.40" y1="174.50" x2="425.80" y2="174.50" stroke="#111" stroke-width="1.0" />
<line x1="452.50" y1="159.10" x2="452.50" y2="176.10" stroke="#444" stroke-width="0.9" />
<line x1="452.50" y1="193.00" x2="452.50" y2="213.90" stroke="#444" stroke-width="0.9" />
<line x1="449.95" y1="159.50" x2="455.65" y2="159.50" stroke="#444" stroke-width="1.0" />
<line x1="449.95" y1="213.50" x2="455.65" y2="213.50" stroke="#444" stroke-width="1.0" />
<rect x="446.95" y="176.10" width="11.70" height="16.90" fill="#c8c8c8" />
<line x1="446.95" y1="183.50" x2="458.65" y2="183.50" stroke="#222" stroke-width="1.1" />
<line x1="472.50" y1="159.20" x2="472.50" y2="172.20" stroke="#444" stroke-width="0.9" />
<line x1="472.50" y1="181.70" x2="472.50" y2="195.00" stroke="#444" stroke-width="0.9" />
<line x1="469.55" y1="159.50" x2="475.25" y2="159.50" stroke="#444" stroke-width="1.0" />
<line x1="469.55" y1="195.50" x2="475.25" y2="195.50" stroke="#444" stroke-width="1.0" />
<rect x="466.95" y="172.20" width="10.90" height="9.50" fill="#2e2e2e" />
<line x1="466.95" y1="177.50" x2="477.85" y2="177.50" stroke="#111" stroke-width="1.0" />
<circle cx="472.4" cy="157.6" r="1.9" fill="#fff" stroke="#222" stroke-width="1.0"/>
<circle cx="472.4" cy="198.3" r="1.9" fill="#fff" stroke="#222" stroke-width="1.0"/>
<text x="411.60" y="142.60" font-size="6.4" fill="#2c2c2c" text-anchor="middle" textLength="25.8" lengthAdjust="spacingAndGlyphs"><tspan font-style="italic">P</tspan> = .007</text>
<line x1="399.50" y1="147.50" x2="424.20" y2="147.50" stroke="#333" stroke-width="0.9" />
<text x="461.60" y="142.60" font-size="6.4" fill="#2c2c2c" text-anchor="middle" textLength="25.8" lengthAdjust="spacingAndGlyphs"><tspan font-style="italic">P</tspan> = .005</text>
<line x1="449.50" y1="147.50" x2="474.20" y2="147.50" stroke="#333" stroke-width="0.9" />
<text x="395.50" y="217.70" font-size="6.4" fill="#2c2c2c" text-anchor="start" textLength="19.5" lengthAdjust="spacingAndGlyphs" stroke="#2c2c2c" stroke-width="0.2">n = 30</text>
<text x="410.50" y="236.80" font-size="6.5" fill="#2c2c2c" text-anchor="middle" stroke="#2c2c2c" stroke-width="0.2">Normal</text>
<text x="410.50" y="245.10" font-size="6.5" fill="#2c2c2c" text-anchor="middle" stroke="#2c2c2c" stroke-width="0.2">cells</text>
<text x="465.00" y="236.80" font-size="6.5" fill="#2c2c2c" text-anchor="middle" stroke="#2c2c2c" stroke-width="0.2">All</text>
<text x="465.00" y="245.10" font-size="6.5" fill="#2c2c2c" text-anchor="middle" stroke="#2c2c2c" stroke-width="0.2">cells</text>
<text x="365.40" y="183.30" font-size="7.9" fill="#1e1e1e" text-anchor="middle" textLength="49.5" lengthAdjust="spacingAndGlyphs" transform="rotate(-90 365.40 183.30)" stroke="#1e1e1e" stroke-width="0.22">Mean volume (fL)</text>
<text x="501.30" y="163.90" font-size="6.9" fill="#2c2c2c" text-anchor="middle" textLength="22.6" lengthAdjust="spacingAndGlyphs" stroke="#2c2c2c" stroke-width="0.2">Infusion</text>
<text x="501.30" y="171.90" font-size="6.9" fill="#2c2c2c" text-anchor="middle" textLength="17.4" lengthAdjust="spacingAndGlyphs" stroke="#2c2c2c" stroke-width="0.2">status</text>
<rect x="492.10" y="177.10" width="2.60" height="2.60" fill="#c8c8c8" />
<text x="497.60" y="180.70" font-size="6.4" fill="#2c2c2c" text-anchor="start" stroke="#2c2c2c" stroke-width="0.2">Pre–</text>
<rect x="491.70" y="185.00" width="2.60" height="2.60" fill="#1e1e1e" />
<text x="497.60" y="188.60" font-size="6.4" fill="#2c2c2c" text-anchor="start" stroke="#2c2c2c" stroke-width="0.2">Post–</text>
<g shape-rendering="crispEdges"><rect x="35.50" y="353.82" width="1.60" height="2.18" fill="#f2a4c8"/><rect x="35.50" y="353.10" width="1.60" height="0.72" fill="#e82020"/><rect x="36.65" y="353.64" width="1.60" height="2.36" fill="#f2a4c8"/><rect x="36.65" y="352.69" width="1.60" height="0.96" fill="#e82020"/><rect x="37.80" y="353.44" width="1.60" height="2.56" fill="#f2a4c8"/><rect x="37.80" y="352.42" width="1.60" height="1.02" fill="#e82020"/><rect x="38.95" y="353.37" width="1.60" height="2.63" fill="#f2a4c8"/><rect x="38.95" y="352.73" width="1.60" height="0.63" fill="#e82020"/><rect x="40.10" y="352.59" width="1.60" height="3.41" fill="#f2a4c8"/><rect x="40.10" y="351.58" width="1.60" height="1.02" fill="#e82020"/><rect x="41.24" y="351.84" width="1.60" height="4.16" fill="#f2a4c8"/><rect x="41.24" y="351.26" width="1.60" height="0.58" fill="#e82020"/><rect x="42.39" y="352.05" width="1.60" height="3.95" fill="#f2a4c8"/><rect x="42.39" y="351.35" width="1.60" height="0.69" fill="#e82020"/><rect x="43.54" y="351.98" width="1.60" height="4.02" fill="#f2a4c8"/><rect x="43.54" y="350.89" width="1.60" height="1.10" fill="#e82020"/><rect x="44.69" y="351.86" width="1.60" height="4.14" fill="#f2a4c8"/><rect x="44.69" y="351.17" width="1.60" height="0.69" fill="#e82020"/><rect x="45.84" y="351.99" width="1.60" height="4.01" fill="#f2a4c8"/><rect x="45.84" y="350.40" width="1.60" height="1.59" fill="#e82020"/><rect x="46.99" y="350.09" width="1.60" height="5.91" fill="#f2a4c8"/><rect x="46.99" y="349.19" width="1.60" height="0.90" fill="#e82020"/><rect x="48.14" y="349.52" width="1.60" height="6.48" fill="#f2a4c8"/><rect x="48.14" y="348.57" width="1.60" height="0.95" fill="#e82020"/><rect x="49.29" y="349.23" width="1.60" height="6.77" fill="#f2a4c8"/><rect x="49.29" y="348.26" width="1.60" height="0.97" fill="#e82020"/><rect x="50.44" y="350.77" width="1.60" height="5.23" fill="#f2a4c8"/><rect x="50.44" y="348.79" width="1.60" height="1.98" fill="#e82020"/><rect x="51.59" y="348.89" width="1.60" height="7.11" fill="#f2a4c8"/><rect x="51.59" y="347.71" width="1.60" height="1.19" fill="#e82020"/><rect x="52.73" y="348.13" width="1.60" height="7.87" fill="#f2a4c8"/><rect x="52.73" y="345.15" width="1.60" height="2.98" fill="#e82020"/><rect x="53.88" y="348.86" width="1.60" height="7.14" fill="#f2a4c8"/><rect x="53.88" y="345.91" width="1.60" height="2.95" fill="#e82020"/><rect x="55.03" y="347.35" width="1.60" height="8.65" fill="#f2a4c8"/><rect x="55.03" y="344.68" width="1.60" height="2.67" fill="#e82020"/><rect x="56.18" y="348.14" width="1.60" height="7.86" fill="#f2a4c8"/><rect x="56.18" y="344.96" width="1.60" height="3.18" fill="#e82020"/><rect x="57.33" y="346.66" width="1.60" height="9.34" fill="#f2a4c8"/><rect x="57.33" y="342.79" width="1.60" height="3.88" fill="#e82020"/><rect x="58.48" y="343.59" width="1.60" height="12.41" fill="#f2a4c8"/><rect x="58.48" y="341.23" width="1.60" height="2.36" fill="#e82020"/><rect x="59.63" y="343.88" width="1.60" height="12.12" fill="#f2a4c8"/><rect x="59.63" y="342.01" width="1.60" height="1.86" fill="#e82020"/><rect x="60.78" y="343.37" width="1.60" height="12.63" fill="#f2a4c8"/><rect x="60.78" y="341.76" width="1.60" height="1.61" fill="#e82020"/><rect x="61.93" y="343.55" width="1.60" height="12.45" fill="#f2a4c8"/><rect x="61.93" y="340.02" width="1.60" height="3.52" fill="#e82020"/><rect x="63.08" y="343.80" width="1.60" height="12.20" fill="#f2a4c8"/><rect x="63.08" y="340.03" width="1.60" height="3.76" fill="#e82020"/><rect x="64.22" y="340.21" width="1.60" height="15.79" fill="#f2a4c8"/><rect x="64.22" y="337.15" width="1.60" height="3.05" fill="#e82020"/><rect x="65.37" y="337.63" width="1.60" height="18.37" fill="#f2a4c8"/><rect x="65.37" y="333.15" width="1.60" height="4.48" fill="#e82020"/><rect x="66.52" y="338.35" width="1.60" height="17.65" fill="#f2a4c8"/><rect x="66.52" y="334.04" width="1.60" height="4.31" fill="#e82020"/><rect x="67.67" y="331.98" width="1.60" height="24.02" fill="#3b3b3b"/><rect x="67.67" y="329.93" width="1.60" height="2.05" fill="#e82020"/><rect x="68.82" y="332.23" width="1.60" height="23.77" fill="#3b3b3b"/><rect x="69.97" y="326.84" width="1.60" height="29.16" fill="#3b3b3b"/><rect x="69.97" y="324.67" width="1.60" height="2.17" fill="#e82020"/><rect x="71.12" y="325.88" width="1.60" height="30.12" fill="#3b3b3b"/><rect x="72.27" y="327.71" width="1.60" height="28.29" fill="#3b3b3b"/><rect x="72.27" y="326.56" width="1.60" height="1.15" fill="#e82020"/><rect x="73.42" y="318.43" width="1.60" height="37.57" fill="#3b3b3b"/><rect x="73.42" y="315.70" width="1.60" height="2.73" fill="#e82020"/><rect x="74.57" y="312.61" width="1.60" height="43.39" fill="#3b3b3b"/><rect x="75.72" y="317.51" width="1.60" height="38.49" fill="#3b3b3b"/><rect x="75.72" y="315.22" width="1.60" height="2.29" fill="#e82020"/><rect x="76.86" y="310.89" width="1.60" height="45.11" fill="#3b3b3b"/><rect x="76.86" y="307.63" width="1.60" height="3.26" fill="#e82020"/><rect x="78.01" y="304.23" width="1.60" height="51.77" fill="#3b3b3b"/><rect x="79.16" y="310.50" width="1.60" height="45.50" fill="#3b3b3b"/><rect x="80.31" y="296.30" width="1.60" height="59.70" fill="#3b3b3b"/><rect x="81.46" y="305.04" width="1.60" height="50.96" fill="#3b3b3b"/><rect x="82.61" y="299.37" width="1.60" height="56.63" fill="#3b3b3b"/><rect x="83.76" y="293.36" width="1.60" height="62.64" fill="#3b3b3b"/><rect x="84.91" y="286.80" width="1.60" height="69.20" fill="#3b3b3b"/><rect x="86.06" y="285.96" width="1.60" height="70.04" fill="#3b3b3b"/><rect x="87.20" y="283.60" width="1.60" height="72.40" fill="#3b3b3b"/><rect x="88.35" y="288.66" width="1.60" height="67.34" fill="#3b3b3b"/><rect x="89.50" y="283.26" width="1.60" height="72.74" fill="#3b3b3b"/><rect x="90.65" y="291.61" width="1.60" height="64.39" fill="#3b3b3b"/><rect x="91.80" y="279.22" width="1.60" height="76.78" fill="#3b3b3b"/><rect x="92.95" y="296.20" width="1.60" height="59.80" fill="#3b3b3b"/><rect x="94.10" y="296.00" width="1.60" height="60.00" fill="#3b3b3b"/><rect x="95.25" y="285.96" width="1.60" height="70.04" fill="#3b3b3b"/><rect x="96.40" y="315.71" width="1.60" height="40.29" fill="#3b3b3b"/><rect x="96.40" y="298.67" width="1.60" height="17.05" fill="#d0d0d0"/><rect x="97.55" y="304.14" width="1.60" height="51.86" fill="#3b3b3b"/><rect x="97.55" y="295.17" width="1.60" height="8.97" fill="#d0d0d0"/><rect x="98.69" y="296.70" width="1.60" height="59.30" fill="#3b3b3b"/><rect x="99.84" y="307.28" width="1.60" height="48.72" fill="#3b3b3b"/><rect x="99.84" y="301.19" width="1.60" height="6.09" fill="#d0d0d0"/><rect x="100.99" y="309.64" width="1.60" height="46.36" fill="#3b3b3b"/><rect x="100.99" y="298.15" width="1.60" height="11.50" fill="#d0d0d0"/><rect x="102.14" y="315.55" width="1.60" height="40.45" fill="#3b3b3b"/><rect x="102.14" y="302.33" width="1.60" height="13.22" fill="#d0d0d0"/><rect x="103.29" y="304.42" width="1.60" height="51.58" fill="#3b3b3b"/><rect x="104.44" y="318.27" width="1.60" height="37.73" fill="#3b3b3b"/><rect x="104.44" y="309.60" width="1.60" height="8.67" fill="#d0d0d0"/><rect x="105.59" y="318.80" width="1.60" height="37.20" fill="#3b3b3b"/><rect x="106.74" y="320.02" width="1.60" height="35.98" fill="#3b3b3b"/><rect x="107.89" y="316.69" width="1.60" height="39.31" fill="#3b3b3b"/><rect x="109.04" y="319.84" width="1.60" height="36.16" fill="#3b3b3b"/><rect x="110.19" y="326.18" width="1.60" height="29.82" fill="#3b3b3b"/><rect x="111.33" y="333.60" width="1.60" height="22.40" fill="#3b3b3b"/><rect x="111.33" y="328.66" width="1.60" height="4.94" fill="#d0d0d0"/><rect x="112.48" y="339.80" width="1.60" height="16.20" fill="#3b3b3b"/><rect x="112.48" y="332.93" width="1.60" height="6.87" fill="#d0d0d0"/><rect x="113.63" y="330.35" width="1.60" height="25.65" fill="#3b3b3b"/><rect x="114.78" y="337.33" width="1.60" height="18.67" fill="#3b3b3b"/><rect x="114.78" y="334.83" width="1.60" height="2.49" fill="#d0d0d0"/><rect x="115.93" y="337.64" width="1.60" height="18.36" fill="#3b3b3b"/><rect x="117.08" y="341.90" width="1.60" height="14.10" fill="#3b3b3b"/><rect x="117.08" y="337.02" width="1.60" height="4.88" fill="#d0d0d0"/><rect x="118.23" y="339.31" width="1.60" height="16.69" fill="#3b3b3b"/><rect x="119.38" y="341.41" width="1.60" height="14.59" fill="#3b3b3b"/><rect x="120.53" y="343.81" width="1.60" height="12.19" fill="#3b3b3b"/><rect x="121.67" y="345.27" width="1.60" height="10.73" fill="#3b3b3b"/><rect x="122.82" y="345.14" width="1.60" height="10.86" fill="#3b3b3b"/><rect x="123.97" y="347.24" width="1.60" height="8.76" fill="#3b3b3b"/><rect x="125.12" y="347.34" width="1.60" height="8.66" fill="#3b3b3b"/><rect x="126.27" y="349.27" width="1.60" height="6.73" fill="#3b3b3b"/><rect x="127.42" y="354.65" width="1.60" height="1.35" fill="#3b3b3b"/><rect x="127.42" y="351.69" width="1.60" height="2.96" fill="#2f5d8a"/><rect x="128.57" y="354.65" width="1.60" height="1.35" fill="#3b3b3b"/><rect x="128.57" y="351.69" width="1.60" height="2.96" fill="#2f5d8a"/><rect x="129.72" y="354.65" width="1.60" height="1.35" fill="#3b3b3b"/><rect x="129.72" y="351.69" width="1.60" height="2.96" fill="#2f5d8a"/><rect x="130.87" y="354.65" width="1.60" height="1.35" fill="#3b3b3b"/><rect x="130.87" y="351.69" width="1.60" height="2.96" fill="#2f5d8a"/><rect x="132.02" y="352.23" width="1.60" height="3.77" fill="#d8955a"/><rect x="132.02" y="351.04" width="1.60" height="1.19" fill="#c8c8c8"/><rect x="133.17" y="352.50" width="1.60" height="3.50" fill="#d8955a"/><rect x="133.17" y="351.93" width="1.60" height="0.57" fill="#c8c8c8"/><rect x="134.31" y="352.77" width="1.60" height="3.23" fill="#d8955a"/><rect x="134.31" y="351.36" width="1.60" height="1.41" fill="#c8c8c8"/><rect x="135.46" y="353.04" width="1.60" height="2.96" fill="#d8955a"/><rect x="135.46" y="351.46" width="1.60" height="1.58" fill="#c8c8c8"/><rect x="136.61" y="353.31" width="1.60" height="2.69" fill="#d8955a"/><rect x="136.61" y="352.47" width="1.60" height="0.84" fill="#c8c8c8"/><rect x="137.76" y="353.58" width="1.60" height="2.42" fill="#d8955a"/><rect x="137.76" y="353.31" width="1.60" height="0.27" fill="#c8c8c8"/><rect x="138.91" y="353.84" width="1.60" height="2.16" fill="#d8955a"/><rect x="138.91" y="352.33" width="1.60" height="1.52" fill="#c8c8c8"/><rect x="140.06" y="354.11" width="1.60" height="1.89" fill="#d8955a"/><rect x="140.06" y="353.00" width="1.60" height="1.12" fill="#c8c8c8"/><rect x="141.21" y="354.38" width="1.60" height="1.62" fill="#d8955a"/><rect x="141.21" y="353.20" width="1.60" height="1.18" fill="#c8c8c8"/><rect x="142.36" y="354.65" width="1.60" height="1.35" fill="#d8955a"/><rect x="142.36" y="353.39" width="1.60" height="1.26" fill="#c8c8c8"/><rect x="143.51" y="354.92" width="1.60" height="1.08" fill="#d8955a"/><rect x="143.51" y="353.85" width="1.60" height="1.08" fill="#c8c8c8"/><rect x="144.66" y="354.38" width="1.60" height="1.62" fill="#a89898"/><rect x="144.66" y="353.71" width="1.60" height="0.67" fill="#e0b090"/><rect x="145.80" y="354.49" width="1.60" height="1.51" fill="#a89898"/><rect x="145.80" y="353.81" width="1.60" height="0.69" fill="#e0b090"/><rect x="146.95" y="354.60" width="1.60" height="1.40" fill="#a89898"/><rect x="146.95" y="354.57" width="1.60" height="0.03" fill="#e0b090"/><rect x="148.10" y="354.71" width="1.60" height="1.29" fill="#a89898"/><rect x="148.10" y="354.23" width="1.60" height="0.48" fill="#e0b090"/><rect x="149.25" y="354.81" width="1.60" height="1.19" fill="#a89898"/><rect x="149.25" y="354.58" width="1.60" height="0.24" fill="#e0b090"/><rect x="150.40" y="354.92" width="1.60" height="1.08" fill="#a89898"/><rect x="150.40" y="354.24" width="1.60" height="0.68" fill="#e0b090"/><rect x="151.55" y="355.03" width="1.60" height="0.97" fill="#a89898"/><rect x="151.55" y="354.52" width="1.60" height="0.51" fill="#e0b090"/><rect x="152.70" y="355.14" width="1.60" height="0.86" fill="#a89898"/><rect x="152.70" y="355.08" width="1.60" height="0.06" fill="#e0b090"/><rect x="153.85" y="355.25" width="1.60" height="0.75" fill="#a89898"/><rect x="153.85" y="354.90" width="1.60" height="0.34" fill="#e0b090"/><rect x="155.00" y="355.35" width="1.60" height="0.65" fill="#a89898"/><rect x="155.00" y="355.15" width="1.60" height="0.21" fill="#e0b090"/><rect x="156.14" y="355.46" width="1.60" height="0.54" fill="#a89898"/><rect x="156.14" y="354.96" width="1.60" height="0.50" fill="#e0b090"/><rect x="157.29" y="355.46" width="1.60" height="0.54" fill="#a89898"/><rect x="157.29" y="354.80" width="1.60" height="0.66" fill="#e0b090"/><rect x="158.44" y="355.46" width="1.60" height="0.54" fill="#a89898"/><rect x="158.44" y="355.20" width="1.60" height="0.26" fill="#e0b090"/><rect x="159.59" y="355.46" width="1.60" height="0.54" fill="#a89898"/><rect x="159.59" y="355.46" width="1.60" height="0.00" fill="#e0b090"/><rect x="160.74" y="355.46" width="1.60" height="0.54" fill="#a89898"/><rect x="160.74" y="355.16" width="1.60" height="0.30" fill="#e0b090"/></g>
<polyline points="35.50,353.18 36.07,353.05 36.65,352.91 37.22,352.76 37.80,352.62 38.37,352.47 38.95,352.32 39.52,352.16 40.10,352.00 40.67,351.84 41.24,351.67 41.82,351.50 42.39,351.32 42.97,351.13 43.54,350.94 44.12,350.74 44.69,350.53 45.27,350.31 45.84,350.09 46.42,349.85 46.99,349.60 47.56,349.34 48.14,349.06 48.71,348.78 49.29,348.47 49.86,348.15 50.44,347.82 51.01,347.46 51.59,347.09 52.16,346.69 52.73,346.27 53.31,345.83 53.88,345.37 54.46,345.09 55.03,344.79 55.61,344.47 56.18,344.12 56.76,343.76 57.33,343.36 57.91,342.95 58.48,342.50 59.05,342.03 59.63,341.53 60.20,341.00 60.78,340.44 61.35,339.85 61.93,339.22 62.50,338.57 63.08,337.87 63.65,337.15 64.22,336.39 64.80,335.60 65.37,334.77 65.95,333.92 66.52,333.03 67.10,332.10 67.67,331.15 68.25,330.17 68.82,329.16 69.40,328.13 69.97,327.07 70.54,325.98 71.12,324.88 71.69,323.76 72.27,322.63 72.84,321.16 73.42,319.67 73.99,318.17 74.57,316.66 75.14,315.15 75.72,313.64 76.29,312.13 76.86,310.63 77.44,309.14 78.01,307.68 78.59,306.23 79.16,304.81 79.74,303.42 80.31,302.07 80.89,300.76 81.46,299.50 82.03,298.28 82.61,297.12 83.18,296.02 83.76,294.98 84.33,294.01 84.91,293.11 85.48,292.29 86.06,291.54 86.63,290.88 87.20,290.29 87.78,289.79 88.35,289.39 88.93,289.06 89.50,288.83 90.08,288.70 90.65,288.65 91.23,288.70 91.80,288.86 92.38,289.11 92.95,289.47 93.52,289.92 94.10,290.47 94.67,291.12 95.25,291.86 95.82,292.69 96.40,293.60 96.97,294.59 97.55,295.66 98.12,296.80 98.69,298.00 99.27,299.27 99.84,300.60 100.42,301.98 100.99,303.40 101.57,304.86 102.14,306.36 102.72,307.89 103.29,309.44 103.87,311.02 104.44,312.60 105.01,313.99 105.59,315.38 106.16,316.78 106.74,318.16 107.31,319.53 107.89,320.89 108.46,322.23 109.04,323.55 109.61,324.84 110.19,326.10 110.76,327.33 111.33,328.52 111.91,329.67 112.48,330.79 113.06,331.87 113.63,332.90 114.21,333.89 114.78,334.83 115.36,335.73 115.93,336.58 116.50,337.59 117.08,338.56 117.65,339.47 118.23,340.35 118.80,341.17 119.38,341.96 119.95,342.70 120.53,343.40 121.10,344.06 121.67,344.68 122.25,345.26 122.82,345.80 123.40,346.31 123.97,346.79 124.55,347.23 125.12,347.64 125.70,348.02 126.27,348.37 126.85,348.70 127.42,349.00 127.99,349.36 128.57,349.69 129.14,350.01 129.72,350.30 130.29,350.58 130.87,350.84 131.44,351.09 132.02,351.32 132.59,351.53 133.17,351.73 133.74,351.93 134.31,352.11 134.89,352.28 135.46,352.44 136.04,352.60 136.61,352.74 137.19,352.88 137.76,353.02 138.34,353.14 138.91,353.27 139.48,353.38 140.06,353.50 140.63,353.61 141.21,353.72 141.78,353.82 142.36,353.92 142.93,354.02 143.51,354.12 144.08,354.21 144.66,354.30 145.23,354.40 145.80,354.49 146.38,354.57 146.95,354.66 147.53,354.75 148.10,354.84 148.68,354.92 149.25,354.97 149.83,354.97 150.40,354.97 150.97,354.97 151.55,354.98 152.12,354.98 152.70,354.98 153.27,354.98 153.85,354.98 154.42,354.98 155.00,354.99 155.57,354.99 156.14,354.99 156.72,354.99 157.29,354.99 157.87,354.99 158.44,354.99 159.02,354.99 159.59,354.99 160.17,354.99 160.74,354.99 161.32,354.99 161.89,354.99" fill="none" stroke="#1f4a3a" stroke-width="0.8"/>
<polyline points="95.25,293.46 95.82,294.29 96.40,295.20 96.97,296.19 97.55,297.26 98.12,298.40 98.69,299.60 99.27,300.87 99.84,302.20 100.42,303.58 100.99,305.00 101.57,306.46 102.14,307.96 102.72,309.49 103.29,311.04 103.87,312.62 104.44,314.20 105.01,315.59 105.59,316.98 106.16,318.38 106.74,319.76 107.31,321.13 107.89,322.49 108.46,323.83 109.04,325.15 109.61,326.44 110.19,327.70 110.76,328.93 111.33,330.12 111.91,331.27 112.48,332.39 113.06,333.47 113.63,334.50 114.21,335.49 114.78,336.43 115.36,337.33 115.93,338.18 116.50,339.19 117.08,340.16 117.65,341.07 118.23,341.95 118.80,342.77 119.38,343.56 119.95,344.30 120.53,345.00 121.10,345.66 121.67,346.28 122.25,346.86 122.82,347.40 123.40,347.91 123.97,348.39 124.55,348.83 125.12,349.24" fill="none" stroke="#e6e6e6" stroke-width="0.8" stroke-dasharray="1.6 1.4"/>
<polyline points="35.50,354.00 36.53,352.74 37.57,353.80 38.60,352.63 39.64,353.52 40.67,353.01 41.70,351.18 42.74,352.64 43.77,351.33 44.81,351.48 45.84,351.17 46.88,350.68 47.91,351.28 48.94,348.67 49.98,350.91 51.01,349.92 52.05,350.37 53.08,348.73 54.11,347.45 55.15,344.35 56.18,346.71 57.22,347.78 58.25,346.36 59.28,340.76 60.32,346.48 61.35,341.50 62.39,342.49 63.42,338.98 64.45,340.81 65.49,336.06 66.52,336.73 67.56,333.52 68.59,328.70 69.63,331.12 70.66,335.80 71.69,335.66 72.73,319.59 73.76,324.93 74.80,328.32 75.83,311.03 76.86,316.17 77.90,310.37 78.93,304.22 79.97,316.84 81.00,313.20" fill="none" stroke="#e41c1c" stroke-width="1.1" stroke-dasharray="3 1.2 1.5 1"/>
<polyline points="81.46,299.80 82.03,298.58 82.61,297.42 83.18,296.32 83.76,295.28 84.33,294.31 84.91,293.41 85.48,292.59 86.06,291.84 86.63,291.18 87.20,290.59 87.78,290.09 88.35,289.69 88.93,289.36 89.50,289.13 90.08,289.00 90.65,288.95 91.23,289.00 91.80,289.16 92.38,289.41 92.95,289.77 93.52,290.22 94.10,290.77 94.67,291.42 95.25,292.16 95.82,292.99 96.40,293.90 96.97,294.89 97.55,295.96 98.12,297.10 98.69,298.30 99.27,299.57 99.84,300.90 100.42,302.28 100.99,303.70" fill="none" stroke="#c0282e" stroke-width="0.9" stroke-dasharray="2 1.5"/>
<g stroke="#2a9a4a" stroke-width="0.8"><line x1="83.8" y1="298.0" x2="83.8" y2="302.0"/><line x1="88.4" y1="292.7" x2="88.4" y2="296.7"/><line x1="93.0" y1="292.8" x2="93.0" y2="296.8"/></g>
<line x1="35.50" y1="272.10" x2="35.50" y2="356.50" stroke="#2e2e2e" stroke-width="1.0" />
<line x1="32.50" y1="356.50" x2="35.50" y2="356.50" stroke="#2e2e2e" stroke-width="0.9" />
<text x="28.00" y="358.30" font-size="6.6" fill="#2c2c2c" text-anchor="end" stroke="#2c2c2c" stroke-width="0.2">0</text>
<line x1="32.50" y1="315.50" x2="35.50" y2="315.50" stroke="#2e2e2e" stroke-width="0.9" />
<text x="28.00" y="317.90" font-size="6.6" fill="#2c2c2c" text-anchor="end" stroke="#2c2c2c" stroke-width="0.2">30</text>
<line x1="32.50" y1="275.50" x2="35.50" y2="275.50" stroke="#2e2e2e" stroke-width="0.9" />
<text x="28.00" y="277.50" font-size="6.6" fill="#2c2c2c" text-anchor="end" stroke="#2c2c2c" stroke-width="0.2">60</text>
<line x1="35.00" y1="356.50" x2="164.20" y2="356.50" stroke="#2e2e2e" stroke-width="1.0" />
<line x1="35.50" y1="356.00" x2="35.50" y2="358.80" stroke="#2e2e2e" stroke-width="0.9" />
<text x="35.50" y="369.00" font-size="6.6" fill="#2c2c2c" text-anchor="middle" stroke="#2c2c2c" stroke-width="0.2">40</text>
<line x1="93.50" y1="356.00" x2="93.50" y2="358.80" stroke="#2e2e2e" stroke-width="0.9" />
<text x="93.10" y="369.00" font-size="6.6" fill="#2c2c2c" text-anchor="middle" stroke="#2c2c2c" stroke-width="0.2">90</text>
<line x1="150.50" y1="356.00" x2="150.50" y2="358.80" stroke="#2e2e2e" stroke-width="0.9" />
<text x="150.40" y="369.00" font-size="6.6" fill="#2c2c2c" text-anchor="middle" stroke="#2c2c2c" stroke-width="0.2">140</text>
<text x="98.00" y="378.80" font-size="7.9" fill="#1e1e1e" text-anchor="middle" textLength="32.7" lengthAdjust="spacingAndGlyphs" stroke="#1e1e1e" stroke-width="0.22">Volume (fL)</text>
<text x="15.10" y="313.30" font-size="7.9" fill="#1e1e1e" text-anchor="middle" textLength="32.4" lengthAdjust="spacingAndGlyphs" transform="rotate(-90 15.10 313.30)" stroke="#1e1e1e" stroke-width="0.22">No. of cells</text>
<text x="98.10" y="271.30" font-size="7.4" fill="#222" text-anchor="middle" textLength="12.8" lengthAdjust="spacingAndGlyphs" stroke="#222" stroke-width="0.2">iTTP</text>
<line x1="213.50" y1="274.20" x2="213.50" y2="356.20" stroke="#2e2e2e" stroke-width="1.0" />
<line x1="210.90" y1="347.50" x2="213.90" y2="347.50" stroke="#2e2e2e" stroke-width="0.9" />
<text x="206.40" y="349.30" font-size="6.6" fill="#2c2c2c" text-anchor="end" stroke="#2c2c2c" stroke-width="0.2">60</text>
<line x1="210.90" y1="312.50" x2="213.90" y2="312.50" stroke="#2e2e2e" stroke-width="0.9" />
<text x="206.40" y="314.40" font-size="6.6" fill="#2c2c2c" text-anchor="end" stroke="#2c2c2c" stroke-width="0.2">80</text>
<line x1="210.90" y1="277.50" x2="213.90" y2="277.50" stroke="#2e2e2e" stroke-width="0.9" />
<text x="206.40" y="279.60" font-size="6.6" fill="#2c2c2c" text-anchor="end" stroke="#2c2c2c" stroke-width="0.2">100</text>
<line x1="213.40" y1="355.50" x2="284.30" y2="355.50" stroke="#2e2e2e" stroke-width="1.0" />
<line x1="225.50" y1="355.70" x2="225.50" y2="358.50" stroke="#2e2e2e" stroke-width="0.9" />
<line x1="250.50" y1="355.70" x2="250.50" y2="358.50" stroke="#2e2e2e" stroke-width="0.9" />
<line x1="274.50" y1="355.70" x2="274.50" y2="358.50" stroke="#2e2e2e" stroke-width="0.9" />
<line x1="225.50" y1="281.30" x2="225.50" y2="284.40" stroke="#4a4a4a" stroke-width="0.9" />
<line x1="225.50" y1="302.70" x2="225.50" y2="308.90" stroke="#4a4a4a" stroke-width="0.9" />
<line x1="222.65" y1="281.50" x2="228.35" y2="281.50" stroke="#4a4a4a" stroke-width="1.0" />
<line x1="222.65" y1="308.50" x2="228.35" y2="308.50" stroke="#4a4a4a" stroke-width="1.0" />
<rect x="220.35" y="284.40" width="10.30" height="18.30" fill="#2ea52e" />
<line x1="220.35" y1="293.50" x2="230.65" y2="293.50" stroke="#0d3d0d" stroke-width="1.1" />
<line x1="250.50" y1="279.50" x2="250.50" y2="287.30" stroke="#4a4a4a" stroke-width="0.9" />
<line x1="250.50" y1="306.50" x2="250.50" y2="319.20" stroke="#4a4a4a" stroke-width="0.9" />
<line x1="247.15" y1="279.50" x2="252.85" y2="279.50" stroke="#4a4a4a" stroke-width="1.0" />
<line x1="247.15" y1="319.50" x2="252.85" y2="319.50" stroke="#4a4a4a" stroke-width="1.0" />
<rect x="245.05" y="287.30" width="9.90" height="19.20" fill="#2ea52e" />
<line x1="245.05" y1="296.50" x2="254.95" y2="296.50" stroke="#0d3d0d" stroke-width="1.1" />
<line x1="274.50" y1="324.60" x2="274.50" y2="335.20" stroke="#4a4a4a" stroke-width="0.9" />
<line x1="274.50" y1="344.70" x2="274.50" y2="348.00" stroke="#4a4a4a" stroke-width="0.9" />
<line x1="271.45" y1="324.50" x2="277.15" y2="324.50" stroke="#4a4a4a" stroke-width="1.0" />
<line x1="271.45" y1="348.50" x2="277.15" y2="348.50" stroke="#4a4a4a" stroke-width="1.0" />
<rect x="269.20" y="335.20" width="10.20" height="9.50" fill="#2ea52e" />
<line x1="269.20" y1="340.50" x2="279.40" y2="340.50" stroke="#0d3d0d" stroke-width="1.1" />
<text x="235.40" y="271.00" font-size="6.4" fill="#2c2c2c" text-anchor="middle" textLength="24.7" lengthAdjust="spacingAndGlyphs"><tspan font-style="italic">P</tspan> &lt; .001</text>
<line x1="223.50" y1="276.50" x2="247.60" y2="276.50" stroke="#555" stroke-width="1.0" />
<text x="264.30" y="271.00" font-size="6.4" fill="#2c2c2c" text-anchor="middle" textLength="25.6" lengthAdjust="spacingAndGlyphs"><tspan font-style="italic">P</tspan> &lt; .001</text>
<line x1="252.50" y1="276.50" x2="278.00" y2="276.50" stroke="#555" stroke-width="1.0" />
<text x="219.80" y="352.30" font-size="6.4" fill="#2c2c2c" text-anchor="start" textLength="19.5" lengthAdjust="spacingAndGlyphs" stroke="#2c2c2c" stroke-width="0.2">n = 15</text>
<text x="225.50" y="368.20" font-size="6.5" fill="#2c2c2c" text-anchor="middle" stroke="#2c2c2c" stroke-width="0.2">Normal</text>
<text x="225.50" y="376.50" font-size="6.5" fill="#2c2c2c" text-anchor="middle" stroke="#2c2c2c" stroke-width="0.2">cells</text>
<text x="249.80" y="368.20" font-size="6.5" fill="#2c2c2c" text-anchor="middle" stroke="#2c2c2c" stroke-width="0.2">Exclude</text>
<text x="249.80" y="376.50" font-size="6.5" fill="#2c2c2c" text-anchor="middle" stroke="#2c2c2c" stroke-width="0.2">schist.</text>
<text x="273.50" y="368.20" font-size="6.5" fill="#2c2c2c" text-anchor="middle" stroke="#2c2c2c" stroke-width="0.2">Schist.</text>
<text x="190.40" y="312.60" font-size="7.9" fill="#1e1e1e" text-anchor="middle" textLength="52.4" lengthAdjust="spacingAndGlyphs" transform="rotate(-90 190.40 312.60)" stroke="#1e1e1e" stroke-width="0.22">Mean volume (fL)</text>
<line x1="321.50" y1="273.10" x2="321.50" y2="356.50" stroke="#2e2e2e" stroke-width="1.0" />
<line x1="318.40" y1="340.50" x2="321.40" y2="340.50" stroke="#2e2e2e" stroke-width="0.9" />
<text x="314.20" y="342.60" font-size="6.6" fill="#2c2c2c" text-anchor="end" stroke="#2c2c2c" stroke-width="0.2">15</text>
<line x1="318.40" y1="319.50" x2="321.40" y2="319.50" stroke="#2e2e2e" stroke-width="0.9" />
<text x="314.20" y="321.60" font-size="6.6" fill="#2c2c2c" text-anchor="end" stroke="#2c2c2c" stroke-width="0.2">20</text>
<line x1="318.40" y1="297.50" x2="321.40" y2="297.50" stroke="#2e2e2e" stroke-width="0.9" />
<text x="314.20" y="300.00" font-size="6.6" fill="#2c2c2c" text-anchor="end" stroke="#2c2c2c" stroke-width="0.2">25</text>
<line x1="318.40" y1="276.50" x2="321.40" y2="276.50" stroke="#2e2e2e" stroke-width="0.9" />
<text x="314.20" y="278.50" font-size="6.6" fill="#2c2c2c" text-anchor="end" stroke="#2c2c2c" stroke-width="0.2">30</text>
<line x1="320.90" y1="356.50" x2="367.70" y2="356.50" stroke="#2e2e2e" stroke-width="1.0" />
<line x1="331.50" y1="356.00" x2="331.50" y2="358.80" stroke="#2e2e2e" stroke-width="0.9" />
<line x1="354.50" y1="356.00" x2="354.50" y2="358.80" stroke="#2e2e2e" stroke-width="0.9" />
<line x1="331.50" y1="282.60" x2="331.50" y2="309.80" stroke="#555" stroke-width="0.9" />
<line x1="331.50" y1="336.50" x2="331.50" y2="348.90" stroke="#555" stroke-width="0.9" />
<line x1="328.00" y1="282.50" x2="334.00" y2="282.50" stroke="#555" stroke-width="1.0" />
<line x1="328.00" y1="348.50" x2="334.00" y2="348.50" stroke="#555" stroke-width="1.0" />
<rect x="325.05" y="309.80" width="11.90" height="26.70" fill="#2ea52e" />
<line x1="325.05" y1="323.50" x2="336.95" y2="323.50" stroke="#0d3d0d" stroke-width="1.1" />
<line x1="355.50" y1="298.00" x2="355.50" y2="317.30" stroke="#555" stroke-width="0.9" />
<line x1="355.50" y1="339.50" x2="355.50" y2="352.10" stroke="#555" stroke-width="0.9" />
<line x1="352.10" y1="298.50" x2="358.10" y2="298.50" stroke="#555" stroke-width="1.0" />
<line x1="352.10" y1="352.50" x2="358.10" y2="352.50" stroke="#555" stroke-width="1.0" />
<rect x="349.25" y="317.30" width="11.70" height="22.20" fill="#2ea52e" />
<line x1="349.25" y1="326.50" x2="360.95" y2="326.50" stroke="#0d3d0d" stroke-width="1.1" />
<text x="343.00" y="275.20" font-size="6.4" fill="#2c2c2c" text-anchor="middle" textLength="25.2" lengthAdjust="spacingAndGlyphs"><tspan font-style="italic">P</tspan> &lt; .001</text>
<line x1="331.00" y1="279.50" x2="355.20" y2="279.50" stroke="#555" stroke-width="1.0" />
<text x="340.00" y="295.00" font-size="6.4" fill="#2c2c2c" text-anchor="start" textLength="19.6" lengthAdjust="spacingAndGlyphs" stroke="#2c2c2c" stroke-width="0.2">n = 15</text>
<text x="331.00" y="368.00" font-size="6.5" fill="#2c2c2c" text-anchor="middle" stroke="#2c2c2c" stroke-width="0.2">All</text>
<text x="331.00" y="376.00" font-size="6.5" fill="#2c2c2c" text-anchor="middle" stroke="#2c2c2c" stroke-width="0.2">cells</text>
<text x="355.00" y="368.00" font-size="6.5" fill="#2c2c2c" text-anchor="middle" stroke="#2c2c2c" stroke-width="0.2">Exclude</text>
<text x="355.00" y="376.00" font-size="6.5" fill="#2c2c2c" text-anchor="middle" stroke="#2c2c2c" stroke-width="0.2">schist.</text>
<text x="300.40" y="313.90" font-size="7.9" fill="#1e1e1e" text-anchor="middle" textLength="27.0" lengthAdjust="spacingAndGlyphs" transform="rotate(-90 300.40 313.90)" stroke="#1e1e1e" stroke-width="0.22">RDW (%)</text>
<line x1="412.50" y1="276.20" x2="412.50" y2="356.50" stroke="#2e2e2e" stroke-width="1.0" />
<line x1="409.90" y1="342.50" x2="412.90" y2="342.50" stroke="#2e2e2e" stroke-width="0.9" />
<text x="404.80" y="345.20" font-size="6.6" fill="#2c2c2c" text-anchor="end" stroke="#2c2c2c" stroke-width="0.2">60</text>
<line x1="409.90" y1="315.50" x2="412.90" y2="315.50" stroke="#2e2e2e" stroke-width="0.9" />
<text x="404.80" y="318.00" font-size="6.6" fill="#2c2c2c" text-anchor="end" stroke="#2c2c2c" stroke-width="0.2">70</text>
<line x1="409.90" y1="288.50" x2="412.90" y2="288.50" stroke="#2e2e2e" stroke-width="0.9" />
<text x="404.80" y="291.10" font-size="6.6" fill="#2c2c2c" text-anchor="end" stroke="#2c2c2c" stroke-width="0.2">80</text>
<line x1="412.40" y1="356.50" x2="479.50" y2="356.50" stroke="#2e2e2e" stroke-width="1.0" />
<line x1="412.50" y1="356.00" x2="412.50" y2="358.80" stroke="#2e2e2e" stroke-width="0.9" />
<text x="412.90" y="367.00" font-size="6.6" fill="#2c2c2c" text-anchor="middle" stroke="#2c2c2c" stroke-width="0.2">0</text>
<line x1="444.50" y1="356.00" x2="444.50" y2="358.80" stroke="#2e2e2e" stroke-width="0.9" />
<text x="444.50" y="367.00" font-size="6.6" fill="#2c2c2c" text-anchor="middle" stroke="#2c2c2c" stroke-width="0.2">5</text>
<line x1="476.50" y1="356.00" x2="476.50" y2="358.80" stroke="#2e2e2e" stroke-width="0.9" />
<text x="476.70" y="367.00" font-size="6.6" fill="#2c2c2c" text-anchor="middle" stroke="#2c2c2c" stroke-width="0.2">10</text>
<line x1="413.00" y1="284.00" x2="477.00" y2="332.00" stroke="#50506a" stroke-width="0.7" />
<g><circle cx="430.6" cy="278.6" r="1.95" fill="#e38a0c" stroke="#cc7a08" stroke-width="0.4"/><circle cx="430.3" cy="281.7" r="1.95" fill="#e38a0c" stroke="#cc7a08" stroke-width="0.4"/><circle cx="430.1" cy="284.3" r="1.95" fill="#e38a0c" stroke="#cc7a08" stroke-width="0.4"/><circle cx="422.9" cy="285.8" r="1.95" fill="#e38a0c" stroke="#cc7a08" stroke-width="0.4"/><circle cx="428.5" cy="290.2" r="1.95" fill="#e38a0c" stroke="#cc7a08" stroke-width="0.4"/><circle cx="445.5" cy="286.5" r="1.95" fill="#e38a0c" stroke="#cc7a08" stroke-width="0.4"/><circle cx="448.8" cy="289.8" r="1.95" fill="#e38a0c" stroke="#cc7a08" stroke-width="0.4"/><circle cx="441.4" cy="294.5" r="1.95" fill="#e38a0c" stroke="#cc7a08" stroke-width="0.4"/><circle cx="442.9" cy="296.6" r="1.95" fill="#e38a0c" stroke="#cc7a08" stroke-width="0.4"/><circle cx="441.9" cy="299.2" r="1.95" fill="#e38a0c" stroke="#cc7a08" stroke-width="0.4"/><circle cx="447.0" cy="301.2" r="1.95" fill="#e38a0c" stroke="#cc7a08" stroke-width="0.4"/><circle cx="449.4" cy="302.6" r="1.95" fill="#e38a0c" stroke="#cc7a08" stroke-width="0.4"/><circle cx="424.4" cy="302.6" r="1.95" fill="#e38a0c" stroke="#cc7a08" stroke-width="0.4"/><circle cx="429.0" cy="303.6" r="1.95" fill="#e38a0c" stroke="#cc7a08" stroke-width="0.4"/><circle cx="432.8" cy="300.7" r="1.95" fill="#e38a0c" stroke="#cc7a08" stroke-width="0.4"/><circle cx="432.8" cy="305.3" r="1.95" fill="#e38a0c" stroke="#cc7a08" stroke-width="0.4"/><circle cx="438.3" cy="302.6" r="1.95" fill="#e38a0c" stroke="#cc7a08" stroke-width="0.4"/><circle cx="427.5" cy="310.2" r="1.95" fill="#e38a0c" stroke="#cc7a08" stroke-width="0.4"/><circle cx="439.3" cy="310.3" r="1.95" fill="#e38a0c" stroke="#cc7a08" stroke-width="0.4"/><circle cx="437.8" cy="313.9" r="1.95" fill="#e38a0c" stroke="#cc7a08" stroke-width="0.4"/><circle cx="441.0" cy="313.3" r="1.95" fill="#e38a0c" stroke="#cc7a08" stroke-width="0.4"/><circle cx="436.7" cy="314.6" r="1.95" fill="#e38a0c" stroke="#cc7a08" stroke-width="0.4"/><circle cx="434.7" cy="317.2" r="1.95" fill="#e38a0c" stroke="#cc7a08" stroke-width="0.4"/><circle cx="437.2" cy="322.9" r="1.95" fill="#e38a0c" stroke="#cc7a08" stroke-width="0.4"/><circle cx="443.9" cy="321.8" r="1.95" fill="#e38a0c" stroke="#cc7a08" stroke-width="0.4"/><circle cx="448.6" cy="311.0" r="1.95" fill="#e38a0c" stroke="#cc7a08" stroke-width="0.4"/><circle cx="452.2" cy="312.0" r="1.95" fill="#e38a0c" stroke="#cc7a08" stroke-width="0.4"/><circle cx="463.0" cy="307.9" r="1.95" fill="#e38a0c" stroke="#cc7a08" stroke-width="0.4"/><circle cx="472.2" cy="314.1" r="1.95" fill="#e38a0c" stroke="#cc7a08" stroke-width="0.4"/><circle cx="445.5" cy="321.8" r="1.95" fill="#e38a0c" stroke="#cc7a08" stroke-width="0.4"/><circle cx="451.2" cy="323.4" r="1.95" fill="#e38a0c" stroke="#cc7a08" stroke-width="0.4"/><circle cx="462.5" cy="322.3" r="1.95" fill="#e38a0c" stroke="#cc7a08" stroke-width="0.4"/><circle cx="452.7" cy="330.6" r="1.95" fill="#e38a0c" stroke="#cc7a08" stroke-width="0.4"/><circle cx="466.6" cy="329.0" r="1.95" fill="#e38a0c" stroke="#cc7a08" stroke-width="0.4"/><circle cx="462.5" cy="339.0" r="1.95" fill="#e38a0c" stroke="#cc7a08" stroke-width="0.4"/><circle cx="468.7" cy="339.0" r="1.95" fill="#e38a0c" stroke="#cc7a08" stroke-width="0.4"/><circle cx="458.9" cy="346.0" r="1.95" fill="#e38a0c" stroke="#cc7a08" stroke-width="0.4"/><circle cx="447.0" cy="304.5" r="1.95" fill="#e38a0c" stroke="#cc7a08" stroke-width="0.4"/><circle cx="444.0" cy="299.0" r="1.95" fill="#e38a0c" stroke="#cc7a08" stroke-width="0.4"/></g>
<text x="443.50" y="281.40" font-size="6.4" fill="#2c2c2c" text-anchor="start" stroke="#2c2c2c" stroke-width="0.2">R</text>
<text x="448.00" y="278.60" font-size="3.6" fill="#2c2c2c" text-anchor="start" stroke="#2c2c2c" stroke-width="0.2">2</text>
<text x="451.00" y="281.40" font-size="6.4" fill="#2c2c2c" text-anchor="start" textLength="21.2" lengthAdjust="spacingAndGlyphs" stroke="#2c2c2c" stroke-width="0.2">= 0.36</text>
<text x="416.00" y="350.90" font-size="6.4" fill="#2c2c2c" text-anchor="start" textLength="19.5" lengthAdjust="spacingAndGlyphs" stroke="#2c2c2c" stroke-width="0.2">n = 42</text>
<text x="446.20" y="377.80" font-size="7.9" fill="#1e1e1e" text-anchor="middle" textLength="49.0" lengthAdjust="spacingAndGlyphs" stroke="#1e1e1e" stroke-width="0.22">Schist. count (%)</text>
<text x="379.60" y="315.50" font-size="7.9" fill="#1e1e1e" text-anchor="middle" textLength="31.6" lengthAdjust="spacingAndGlyphs" transform="rotate(-90 379.60 315.50)" stroke="#1e1e1e" stroke-width="0.22">Schist. size</text>
<text x="389.80" y="315.50" font-size="7.9" fill="#1e1e1e" text-anchor="middle" textLength="31.6" lengthAdjust="spacingAndGlyphs" transform="rotate(-90 389.80 315.50)" stroke="#1e1e1e" stroke-width="0.22">(% of MCV)</text></svg>
</body></html>
